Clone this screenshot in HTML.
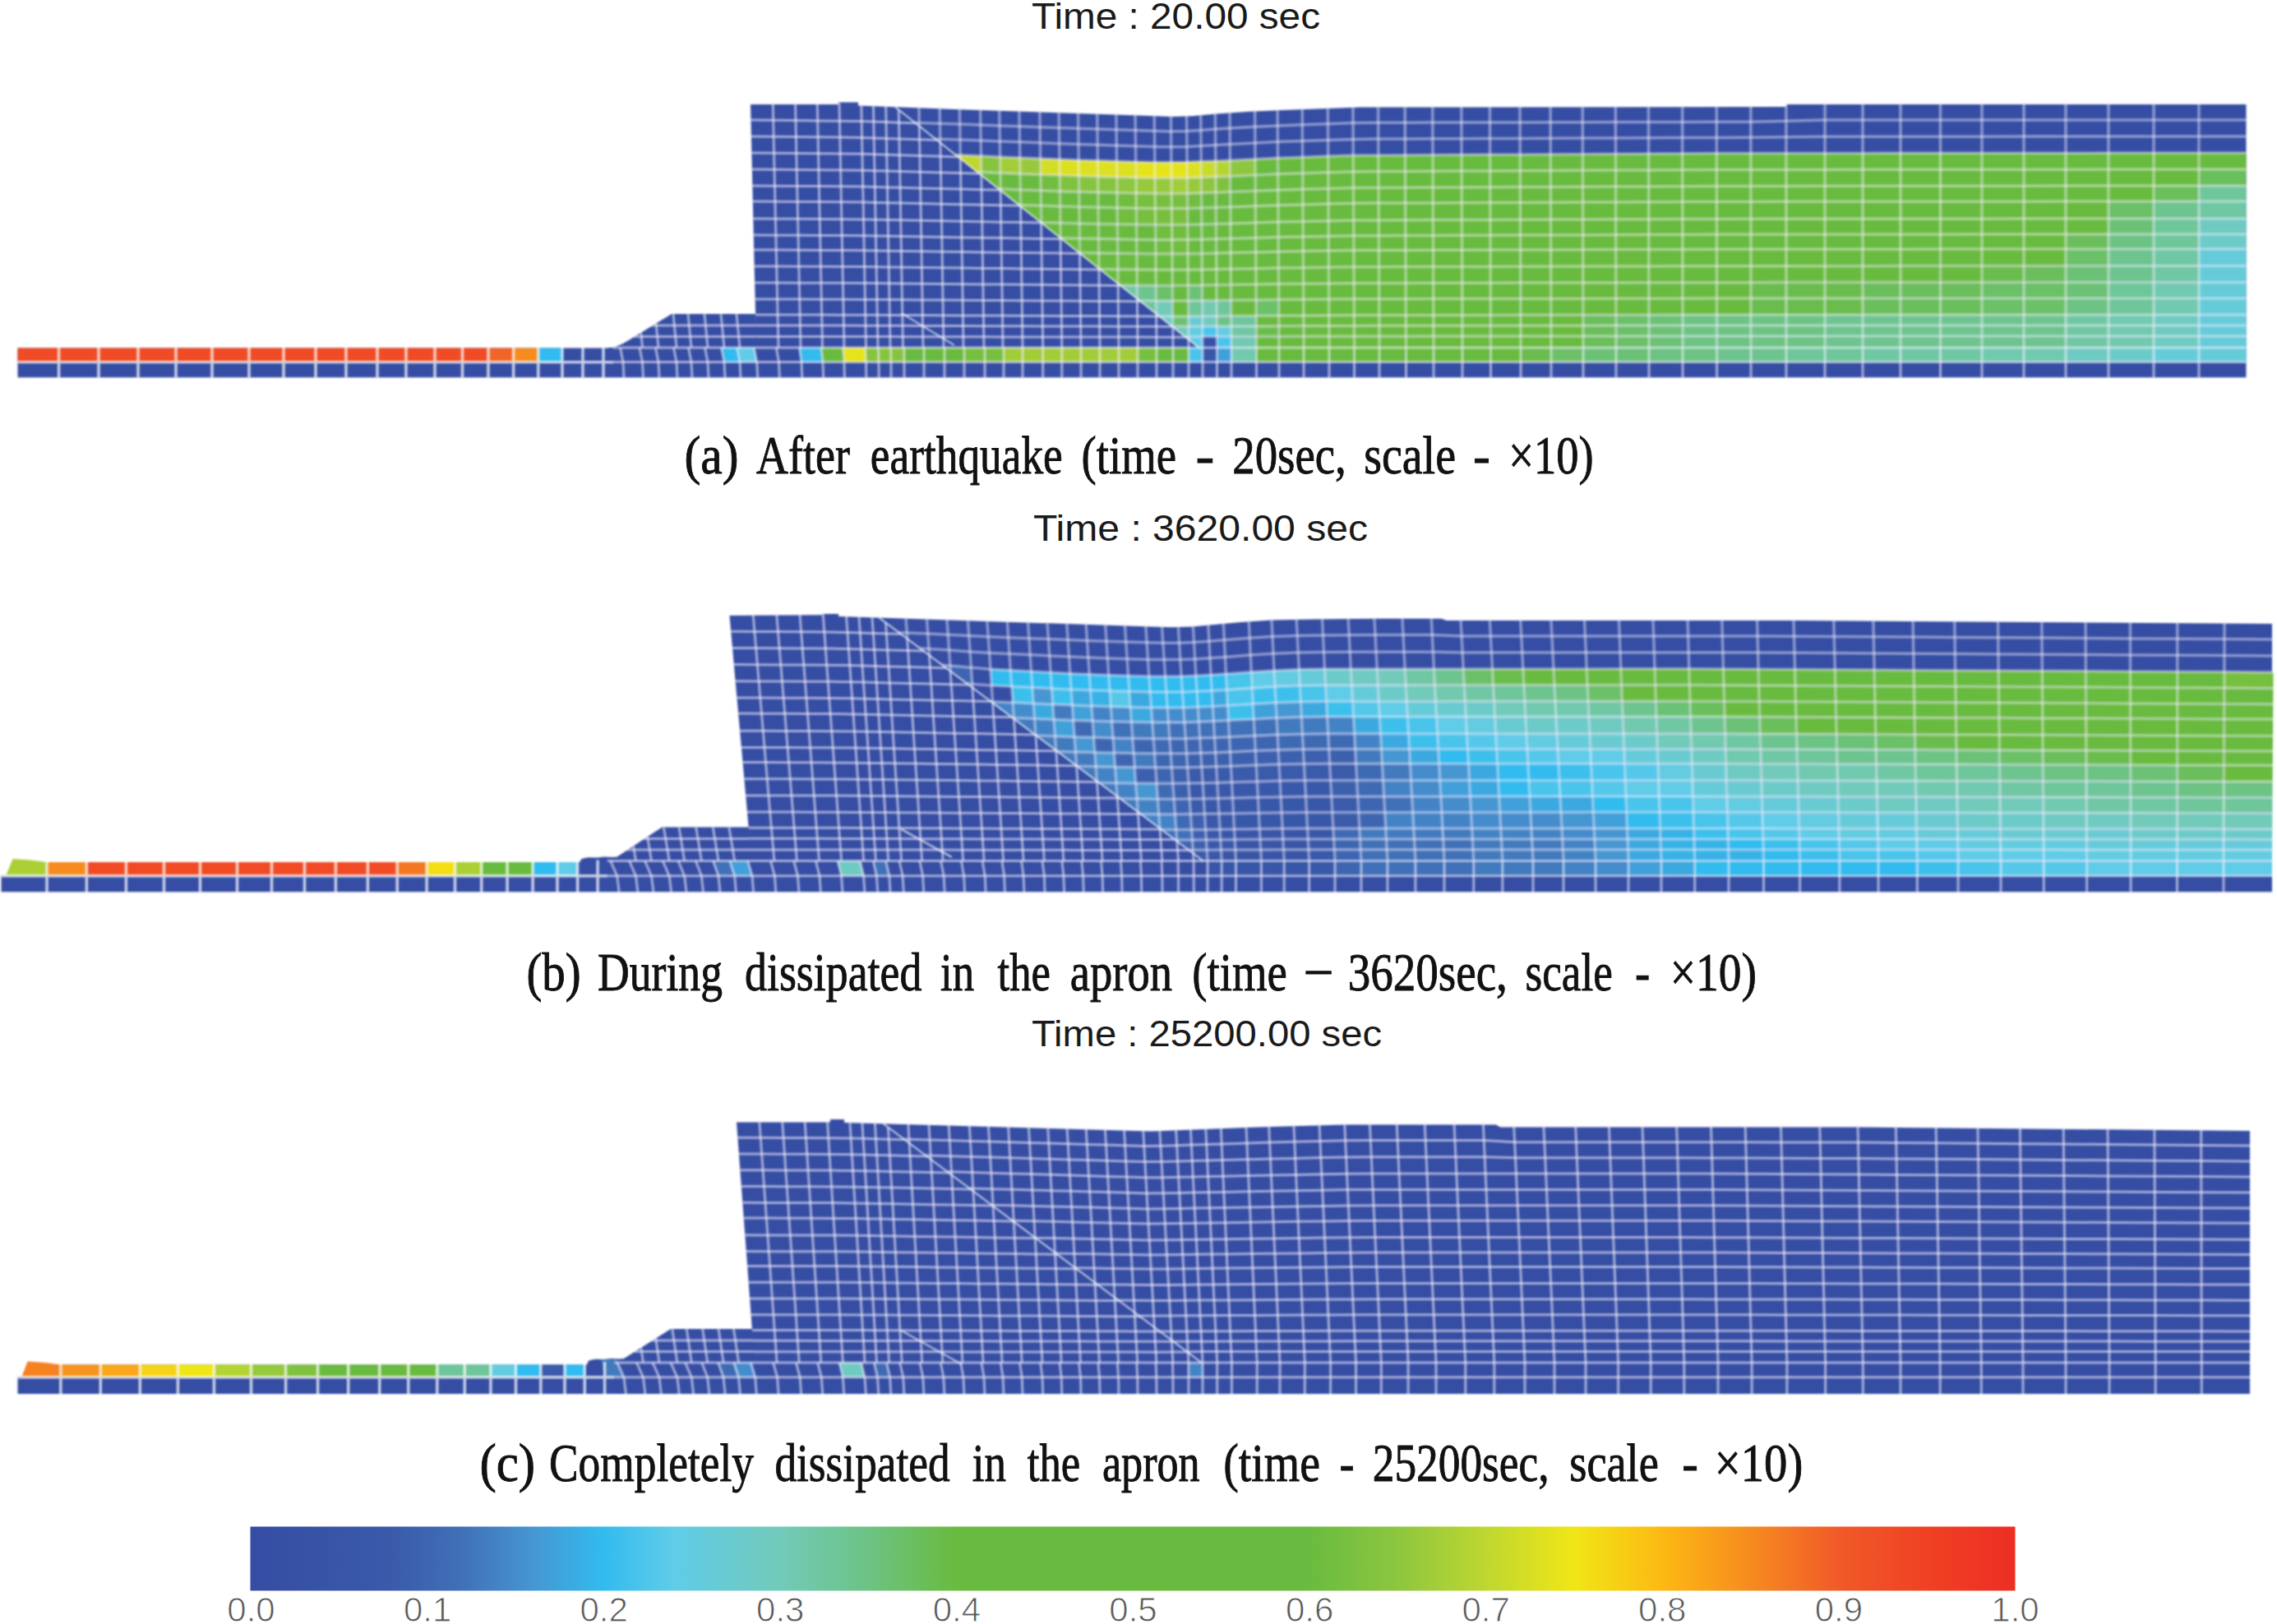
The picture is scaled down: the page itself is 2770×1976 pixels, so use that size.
<!DOCTYPE html>
<html lang="en"><head><meta charset="utf-8"><title>Excess pore pressure ratio</title>
<style>html,body{margin:0;padding:0;background:#fff}svg{display:block}.g{fill:none;stroke:#f5efff;stroke-opacity:.58;stroke-width:3}.gc{stroke-opacity:.45;stroke-width:3.5}.g2{stroke-opacity:.74;stroke:#fff;stroke-width:3.4}.pn{filter:blur(.8px)}.d{fill:none;stroke:#fff;stroke-opacity:.7;stroke-width:2}text{white-space:pre}</style></head><body>
<svg width="2770" height="1976" viewBox="0 0 2770 1976">
<rect width="2770" height="1976" fill="#fff"/>
<defs><linearGradient id="cb" x1="0" x2="1" y1="0" y2="0"><stop offset="0%" stop-color="#354da3"/><stop offset="8%" stop-color="#3a5aaa"/><stop offset="12%" stop-color="#4070b8"/><stop offset="16%" stop-color="#4696d2"/><stop offset="20%" stop-color="#32bbee"/><stop offset="24%" stop-color="#60cce8"/><stop offset="30%" stop-color="#72caba"/><stop offset="35%" stop-color="#6cc384"/><stop offset="40%" stop-color="#69bb3f"/><stop offset="60%" stop-color="#69bb3f"/><stop offset="65%" stop-color="#8dc63f"/><stop offset="70%" stop-color="#bed730"/><stop offset="75%" stop-color="#f0e616"/><stop offset="80%" stop-color="#fdb913"/><stop offset="85%" stop-color="#f68b1f"/><stop offset="90%" stop-color="#f15a29"/><stop offset="95%" stop-color="#ef4123"/><stop offset="100%" stop-color="#ed2e24"/></linearGradient></defs>
<g id="panel-a" class="pn">
<clipPath id="cla"><path d="M0 87 1034.6 87 1458.4 423 0 423z"/></clipPath>
<clipPath id="cra"><path d="M1034.6 87 2780 87 2780 423 1458.4 423z"/></clipPath>
<clipPath id="cba"><path d="M746 423 758 418 817 382 919 382 920 423z"/></clipPath>
<path d="M21.5 439.6 2732.5 439.6 2732.5 459.3 21.5 459.3zM21.5 440.6 21.5 423.5 740 423.5 740 423 2732.5 423 2732.5 440.6zM746 423 758 418 817 382 919 382 920 425 746 425zM920 425 919.1 383 917.1 300 915.2 220 913 127 1019.9 127.1 1020 124.6 1044 124.6 1044.1 128.4 1044.2 128.5 1162 133 1400 141 1425 142 1450 141.3 1480 138.5 1520 135.8 1560 134 1655 130.5 2172 130 2174 127 2732.5 127 2732.5 425z" fill="#354da3"/>
<g>
<path d="M1463 423 1480.5 423 1480.5 440.6 1463 440.6z" fill="#3957a8"/>
<path d="M1480.5 423 1498 423 1498 440.6 1480.5 440.6z" fill="#419fd9"/>
<path d="M654.8 423.5 684 423.5 684 440.6 654.8 440.6zM877.5 423 896.5 423 900 440.6 881 440.6zM972.5 423 999 423 1001 440.6 975 440.6z" fill="#32bbee"/>
<path d="M1446 423 1463 423 1463 440.6 1446 440.6z" fill="#49c4eb"/>
<path d="M896.5 423 917.2 423 920.7 440.6 900 440.6z" fill="#60cce8"/>
<path d="M2620 423 2675 423 2675 440.6 2620 440.6zM2675 423 2732.5 423 2732.5 440.6 2675 440.6z" fill="#66cbd9"/>
<path d="M2565 423 2620 423 2620 440.6 2565 440.6z" fill="#6ccbc9"/>
<path d="M2513 423 2565 423 2565 440.6 2513 440.6z" fill="#6fcac2"/>
<path d="M1498 423 1528.5 423 1528.5 440.6 1498 440.6zM2411 423 2462 423 2462 440.6 2411 440.6zM2462 423 2513 423 2513 440.6 2462 440.6z" fill="#71c9af"/>
<path d="M2266 423 2312 423 2312 440.6 2266 440.6zM2312 423 2360.5 423 2360.5 440.6 2312 440.6zM2360.5 423 2411 423 2411 440.6 2360.5 440.6z" fill="#70c7a4"/>
<path d="M2173 423 2220 423 2220 440.6 2173 440.6zM2220 423 2266 423 2266 440.6 2220 440.6z" fill="#6ec69a"/>
<path d="M2088.6 423 2130 423 2130 440.6 2088.6 440.6zM2130 423 2173 423 2173 440.6 2130 440.6z" fill="#6dc48f"/>
<path d="M2006 423 2047 423 2047 440.6 2006 440.6zM2047 423 2088.6 423 2088.6 440.6 2047 440.6z" fill="#6cc384"/>
<path d="M1926 423 1966 423 1966 440.6 1926 440.6zM1966 423 2006 423 2006 440.6 1966 440.6z" fill="#6bc176"/>
<path d="M1887 423 1926 423 1926 440.6 1887 440.6z" fill="#6bc068"/>
<path d="M1850 423 1887 423 1887 440.6 1850 440.6z" fill="#6abd4d"/>
<path d="M1528.5 423 1556 423 1556 440.6 1528.5 440.6zM1813.5 423 1850 423 1850 440.6 1813.5 440.6z" fill="#69bb3f"/>
<path d="M1779 423 1813.5 423 1813.5 440.6 1779 440.6z" fill="#69bb3f"/>
<path d="M1556 423 1586 423 1586 440.6 1556 440.6z" fill="#69bb3f"/>
<path d="M1744 423 1779 423 1779 440.6 1744 440.6z" fill="#69bb3f"/>
<path d="M1710.5 423 1744 423 1744 440.6 1710.5 440.6z" fill="#69bb3f"/>
<path d="M1678 423 1710.5 423 1710.5 440.6 1678 440.6z" fill="#69bb3f"/>
<path d="M999 423 1025.5 423 1027 440.6 1001 440.6zM1647.5 423 1678 423 1678 440.6 1647.5 440.6z" fill="#69bb3f"/>
<path d="M1586 423 1617 423 1617 440.6 1586 440.6zM1617 423 1647.5 423 1647.5 440.6 1617 440.6z" fill="#69bb3f"/>
<path d="M1100 423 1124 423 1124 440.6 1100 440.6zM1124 423 1149 423 1149 440.6 1124 440.6zM1149 423 1173 423 1173 440.6 1149 440.6zM1407 423 1427 423 1427 440.6 1407 440.6zM1427 423 1446 423 1446 440.6 1427 440.6z" fill="#69bb3f"/>
<path d="M1173 423 1198 423 1198 440.6 1173 440.6zM1198 423 1221 423 1221 440.6 1198 440.6zM1384 423 1407 423 1407 440.6 1384 440.6z" fill="#77bf3f"/>
<path d="M1052.6 423 1068.4 423 1069 440.6 1053.5 440.6zM1068.4 423 1083.7 423 1084 440.6 1069 440.6zM1083.7 423 1100 423 1100 440.6 1084 440.6z" fill="#86c43f"/>
<path d="M1221 423 1244 423 1244 440.6 1221 440.6zM1244 423 1268.7 423 1268.7 440.6 1244 440.6zM1268.7 423 1291.8 423 1291.8 440.6 1268.7 440.6zM1291.8 423 1315 423 1315 440.6 1291.8 440.6zM1315 423 1338 423 1338 440.6 1315 440.6zM1338 423 1361 423 1361 440.6 1338 440.6zM1361 423 1384 423 1384 440.6 1361 440.6z" fill="#a1cd39"/>
<path d="M1025.5 423 1052.6 423 1053.5 440.6 1027 440.6z" fill="#e6e31b"/>
<path d="M624.6 423.5 654.8 423.5 654.8 440.6 624.6 440.6z" fill="#f68b1f"/>
<path d="M594 423.5 624.6 423.5 624.6 440.6 594 440.6z" fill="#f26427"/>
<path d="M21.5 423.5 71.6 423.5 71.6 440.6 21.5 440.6zM71.6 423.5 120 423.5 120 440.6 71.6 440.6zM120 423.5 168 423.5 168 440.6 120 440.6zM168 423.5 214 423.5 214 440.6 168 440.6zM214 423.5 258 423.5 258 440.6 214 440.6zM258 423.5 303 423.5 303 440.6 258 440.6zM303 423.5 345 423.5 345 440.6 303 440.6zM345 423.5 384 423.5 384 440.6 345 440.6zM384 423.5 421 423.5 421 440.6 384 440.6zM421 423.5 459 423.5 459 440.6 421 440.6zM459 423.5 494 423.5 494 440.6 459 440.6zM494 423.5 529 423.5 529 440.6 494 440.6zM529 423.5 562.5 423.5 562.5 440.6 529 440.6zM562.5 423.5 594 423.5 594 440.6 562.5 440.6z" fill="#f04b25"/>
</g>
<g clip-path="url(#cra)">
<path d="M1462.9 409.6 1480.4 409.6 1480.5 423 1463 423z" fill="#3650a5"/>
<path d="M1462.8 397.2 1480.3 397.1 1480.4 409.6 1462.9 409.6zM1480.4 409.6 1497.9 409.5 1498 423 1480.5 423z" fill="#49c4eb"/>
<path d="M1445.9 409.7 1462.9 409.6 1463 423 1446 423z" fill="#60cce8"/>
<path d="M1445.8 397.3 1462.8 397.2 1462.9 409.6 1445.9 409.7zM1480.3 397.1 1497.8 397 1497.9 409.5 1480.4 409.6z" fill="#63cce0"/>
<path d="M2675 303 2732.5 303 2732.5 323.5 2675 323.5zM2675 323.5 2732.5 323.5 2732.5 343.5 2675 343.5zM2675 343.5 2732.5 343.5 2732.5 363 2675 363zM2675 363 2732.5 363 2732.5 383 2675 383zM2675 383 2732.5 383 2732.5 396 2675 396zM2675 396 2732.5 396 2732.5 409 2675 409zM2675 409 2732.5 409 2732.5 423 2675 423z" fill="#66cbd9"/>
<path d="M1445.7 384.9 1462.7 384.8 1462.8 397.2 1445.8 397.3z" fill="#69cbd1"/>
<path d="M2675 285 2732.5 285 2732.5 303 2675 303zM1406.6 384.9 1426.7 384.9 1426.8 397.3 1406.7 397.3zM1406.7 397.3 1426.8 397.3 1426.9 409.7 1406.9 409.7zM1426.9 409.7 1445.9 409.7 1446 423 1427 423z" fill="#6ccbc9"/>
<path d="M2675 266 2732.5 266 2732.5 285 2675 285zM2620 383 2675 383 2675 396 2620 396zM2620 396 2675 396 2675 409 2620 409zM2620 409 2675 409 2675 423 2620 423z" fill="#6fcac2"/>
<path d="M1406.4 365.9 1426.5 365.9 1426.7 384.9 1406.6 384.9zM1462.7 384.8 1480.2 384.7 1480.3 397.1 1462.8 397.2zM1426.8 397.3 1445.8 397.3 1445.9 409.7 1426.9 409.7z" fill="#72caba"/>
<path d="M2620 343.5 2675 343.5 2675 363 2620 363zM1462.5 365.7 1480.1 365.5 1480.2 384.7 1462.7 384.8zM2620 363 2675 363 2675 383 2620 383zM2565 383 2620 383 2620 396 2565 396zM2565 396 2620 396 2620 409 2565 409zM1497.9 409.5 1528.4 409.4 1528.5 423 1498 423zM2565 409 2620 409 2620 423 2565 423z" fill="#71c9af"/>
<path d="M2675 245 2732.5 245 2732.5 266 2675 266zM2620 303 2675 303 2675 323.5 2620 323.5zM2620 323.5 2675 323.5 2675 343.5 2620 343.5zM1360.2 347 1383.2 347.2 1383.4 365.8 1360.4 365.6zM2513 383 2565 383 2565 396 2513 396zM1497.8 397 1528.3 396.9 1528.4 409.4 1497.9 409.5zM2513 396 2565 396 2565 409 2513 409zM2513 409 2565 409 2565 423 2513 423z" fill="#70c7a4"/>
<path d="M2675 226 2732.5 226 2732.5 245 2675 245zM2620 266.1 2675 266 2675 285 2620 285.1zM2620 285.1 2675 285 2675 303 2620 303zM2565 343.5 2620 343.5 2620 363 2565 363zM1383.4 365.8 1406.4 365.9 1406.6 384.9 1383.6 384.9zM1445.5 365.9 1462.5 365.7 1462.7 384.8 1445.7 384.9zM1480.1 365.5 1497.6 365.3 1497.7 384.5 1480.2 384.7zM2565 363 2620 363 2620 383 2565 383zM1497.7 384.5 1528.2 384.3 1528.3 396.9 1497.8 397z" fill="#6ec69a"/>
<path d="M2620 245.1 2675 245 2675 266 2620 266.1zM2565 303.1 2620 303 2620 323.5 2565 323.6zM2565 323.6 2620 323.5 2620 343.5 2565 343.5zM1383.2 347.2 1406.3 347.4 1406.4 365.9 1383.4 365.8zM2220 383.1 2266 383.1 2266 396 2220 396zM2266 383.1 2312 383.1 2312 396 2266 396zM2312 383.1 2360.5 383 2360.5 396 2312 396zM2360.5 383 2411 383 2411 396 2360.5 396zM2411 383 2462 383 2462 396 2411 396zM2462 383 2513 383 2513 396 2462 396zM2220 396 2266 396 2266 409 2220 409zM2266 396 2312 396 2312 409 2266 409zM2312 396 2360.5 396 2360.5 409 2312 409zM2360.5 396 2411 396 2411 409 2360.5 409zM2411 396 2462 396 2462 409 2411 409zM2462 396 2513 396 2513 409 2462 409zM2220 409 2266 409 2266 423 2220 423zM2266 409 2312 409 2312 423 2266 423zM2312 409 2360.5 409 2360.5 423 2312 423zM2360.5 409 2411 409 2411 423 2360.5 423zM2411 409 2462 409 2462 423 2411 423zM2462 409 2513 409 2513 423 2462 423z" fill="#6dc48f"/>
<path d="M2565 285.1 2620 285.1 2620 303 2565 303.1zM2513 363 2565 363 2565 383 2513 383zM1480.2 384.7 1497.7 384.5 1497.8 397 1480.3 397.1zM2046.9 383.1 2088.6 383.1 2088.6 396.1 2047 396.1zM2088.6 383.1 2130 383.1 2130 396.1 2088.6 396.1zM2130 383.1 2173 383.1 2173 396.1 2130 396.1zM2173 383.1 2220 383.1 2220 396 2173 396.1zM2047 396.1 2088.6 396.1 2088.6 409 2047 409zM2088.6 396.1 2130 396.1 2130 409 2088.6 409zM2130 396.1 2173 396.1 2173 409 2130 409zM2173 396.1 2220 396 2220 409 2173 409zM2047 409 2088.6 409 2088.6 423 2047 423zM2088.6 409 2130 409 2130 423 2088.6 423zM2130 409 2173 409 2173 423 2130 423zM2173 409 2220 409 2220 423 2173 423z" fill="#6cc384"/>
<path d="M2565 266.1 2620 266.1 2620 285.1 2565 285.1zM2513 323.6 2565 323.6 2565 343.5 2513 343.6zM1445.3 347.3 1462.4 347 1462.5 365.7 1445.5 365.9zM2513 343.6 2565 343.5 2565 363 2513 363zM1426.7 384.9 1445.7 384.9 1445.8 397.3 1426.8 397.3zM2005.9 383.2 2046.9 383.1 2047 396.1 2005.9 396.1zM2005.9 396.1 2047 396.1 2047 409 2006 409.1zM2006 409.1 2047 409 2047 423 2006 423z" fill="#6bc176"/>
<path d="M2565 245.1 2620 245.1 2620 266.1 2565 266.1zM2513 303.1 2565 303.1 2565 323.6 2513 323.6zM1406.3 347.4 1426.3 347.4 1426.5 365.9 1406.4 365.9zM2411 343.6 2462 343.6 2462 363.1 2411 363.1zM2462 343.6 2513 343.6 2513 363 2462 363.1zM1528.1 364.9 1555.6 364.6 1555.8 384 1528.2 384.3zM2411 363.1 2462 363.1 2462 383 2411 383zM2462 363.1 2513 363 2513 383 2462 383zM1965.9 383.2 2005.9 383.2 2005.9 396.1 1965.9 396.1zM1965.9 396.1 2005.9 396.1 2006 409.1 1966 409.1zM1966 409.1 2006 409.1 2006 423 1966 423z" fill="#6bc068"/>
<path d="M2675 206 2732.5 206 2732.5 226 2675 226zM2620 226.1 2675 226 2675 245 2620 245.1zM2513 285.1 2565 285.1 2565 303.1 2513 303.1zM2462 323.6 2513 323.6 2513 343.6 2462 343.6zM2266 343.6 2312 343.6 2312 363.1 2266 363.1zM2312 343.6 2360.5 343.6 2360.5 363.1 2312 363.1zM2360.5 343.6 2411 343.6 2411 363.1 2360.5 363.1zM2266 363.1 2312 363.1 2312 383.1 2266 383.1zM2312 363.1 2360.5 363.1 2360.5 383 2312 383.1zM2360.5 363.1 2411 363.1 2411 383 2360.5 383zM1925.9 383.2 1965.9 383.2 1965.9 396.1 1925.9 396.2zM1925.9 396.2 1965.9 396.1 1966 409.1 1926 409.1zM1926 409.1 1966 409.1 1966 423 1926 423z" fill="#6abe5b"/>
<path d="M2411 323.6 2462 323.6 2462 343.6 2411 343.6zM2129.9 343.7 2173 343.6 2173 363.1 2130 363.1zM2173 343.6 2220 343.6 2220 363.1 2173 363.1zM2220 343.6 2266 343.6 2266 363.1 2220 363.1zM2130 363.1 2173 363.1 2173 383.1 2130 383.1zM2173 363.1 2220 363.1 2220 383.1 2173 383.1zM2220 363.1 2266 363.1 2266 383.1 2220 383.1zM1528.3 396.9 1555.8 396.7 1555.9 409.4 1528.4 409.4z" fill="#6abd4d"/>
<path d="M2360.5 323.6 2411 323.6 2411 343.6 2360.5 343.6zM2046.9 343.8 2088.5 343.7 2088.5 363.1 2046.9 363.2zM2088.5 343.7 2129.9 343.7 2130 363.1 2088.5 363.1zM2046.9 363.2 2088.5 363.1 2088.6 383.1 2046.9 383.1zM2088.5 363.1 2130 363.1 2130 383.1 2088.6 383.1zM1528.2 384.3 1555.8 384 1555.8 396.7 1528.3 396.9zM1886.9 383.3 1925.9 383.2 1925.9 396.2 1886.9 396.2zM1886.9 396.2 1925.9 396.2 1926 409.1 1887 409.1zM1528.4 409.4 1555.9 409.4 1556 423 1528.5 423zM1887 409.1 1926 409.1 1926 423 1887 423z" fill="#69bb3f"/>
<path d="M2462 303.1 2513 303.1 2513 323.6 2462 323.6z" fill="#69bb3f"/>
<path d="M2513 266.1 2565 266.1 2565 285.1 2513 285.1zM2312 323.6 2360.5 323.6 2360.5 343.6 2312 343.6zM1426.3 347.4 1445.3 347.3 1445.5 365.9 1426.5 365.9zM2005.9 343.8 2046.9 343.8 2046.9 363.2 2005.9 363.3zM1426.5 365.9 1445.5 365.9 1445.7 384.9 1426.7 384.9zM2005.9 363.3 2046.9 363.2 2046.9 383.1 2005.9 383.2zM1849.9 383.3 1886.9 383.3 1886.9 396.2 1849.9 396.2zM1849.9 396.2 1886.9 396.2 1887 409.1 1850 409.1zM1850 409.1 1887 409.1 1887 423 1850 423z" fill="#69bb3f"/>
<path d="M2411 303.1 2462 303.1 2462 323.6 2411 323.6zM1965.8 343.9 2005.9 343.8 2005.9 363.3 1965.9 363.3zM1965.9 363.3 2005.9 363.3 2005.9 383.2 1965.9 383.2zM1555.9 409.4 1585.9 409.3 1586 423 1556 423z" fill="#69bb3f"/>
<path d="M2266 323.7 2312 323.6 2312 343.6 2266 343.6zM1462.4 347 1479.9 346.8 1480.1 365.5 1462.5 365.7zM1925.8 344 1965.8 343.9 1965.9 363.3 1925.8 363.4zM1925.8 363.4 1965.9 363.3 1965.9 383.2 1925.9 383.2z" fill="#69bb3f"/>
<path d="M2675 186 2732.5 186 2732.5 206 2675 206zM2620 206.1 2675 206 2675 226 2620 226.1zM2565 226.1 2620 226.1 2620 245.1 2565 245.1zM2513 245.1 2565 245.1 2565 266.1 2513 266.1zM2360.5 303.1 2411 303.1 2411 323.6 2360.5 323.6zM2220 323.7 2266 323.7 2266 343.6 2220 343.6zM1479.9 346.8 1497.5 346.6 1497.6 365.3 1480.1 365.5zM1886.8 344.1 1925.8 344 1925.8 363.4 1886.8 363.4zM1497.6 365.3 1528.1 364.9 1528.2 384.3 1497.7 384.5zM1886.8 363.4 1925.8 363.4 1925.9 383.2 1886.9 383.3zM1813.4 383.4 1849.9 383.3 1849.9 396.2 1813.4 396.2zM1555.8 396.7 1585.8 396.6 1585.9 409.3 1555.9 409.4zM1813.4 396.2 1849.9 396.2 1850 409.1 1813.4 409.1zM1813.4 409.1 1850 409.1 1850 423 1813.5 423z" fill="#69bb3f"/>
<path d="M1849.7 344.1 1886.8 344.1 1886.8 363.4 1849.8 363.5zM1849.8 363.5 1886.8 363.4 1886.9 383.3 1849.9 383.3z" fill="#69bb3f"/>
<path d="M1554.5 192.3 1584.6 191.2 1584.7 210.7 1554.7 211.7zM1584.6 191.2 1615.7 190.1 1615.8 209.8 1584.7 210.7zM1615.7 190.1 1646.2 189.1 1646.3 208.9 1615.8 209.8zM1646.2 189.1 1676.8 188.9 1676.9 208.6 1646.3 208.9zM1676.8 188.9 1709.4 188.7 1709.5 208.4 1676.9 208.6zM1709.4 188.7 1743 188.5 1743 208.3 1709.5 208.4zM1743 188.5 1778 188.3 1778.1 208.1 1743 208.3zM1778 188.3 1812.6 188.1 1812.7 207.9 1778.1 208.1zM1812.6 188.1 1849.2 187.9 1849.3 207.7 1812.7 207.9zM1849.2 187.9 1886.3 187.7 1886.3 207.5 1849.3 207.7zM1886.3 187.7 1925.4 187.5 1925.4 207.3 1886.3 207.5zM1925.4 187.5 1965.5 187.2 1965.5 207.1 1925.4 207.3zM1965.5 187.2 2005.6 187 2005.6 206.9 1965.5 207.1zM2005.6 187 2046.6 186.8 2046.7 206.7 2005.6 206.9zM2046.6 186.8 2088.3 186.6 2088.4 206.5 2046.7 206.7zM2088.3 186.6 2129.8 186.5 2129.9 206.4 2088.4 206.5zM2129.8 186.5 2172.9 186.4 2172.9 206.4 2129.9 206.4zM2172.9 186.4 2220 186.4 2220 206.4 2172.9 206.4zM2220 186.4 2266 186.4 2266 206.3 2220 206.4zM2266 186.4 2312 186.3 2312 206.3 2266 206.3zM2312 186.3 2360.5 186.3 2360.5 206.3 2312 206.3zM2360.5 186.3 2411 186.3 2411 206.2 2360.5 206.3zM2411 186.3 2462 186.2 2462 206.2 2411 206.2zM2462 186.2 2513 186.2 2513 206.2 2462 206.2zM2513 186.2 2565 186.1 2565 206.1 2513 206.2zM2565 186.1 2620 186.1 2620 206.1 2565 206.1zM2620 186.1 2675 186 2675 206 2620 206.1zM1527.1 213 1554.7 211.7 1554.8 231.2 1527.2 232.3zM1554.7 211.7 1584.7 210.7 1584.8 230.3 1554.8 231.2zM1584.7 210.7 1615.8 209.8 1615.9 229.4 1584.8 230.3zM1615.8 209.8 1646.3 208.9 1646.4 228.6 1615.9 229.4zM1646.3 208.9 1676.9 208.6 1677 228.4 1646.4 228.6zM1676.9 208.6 1709.5 208.4 1709.6 228.2 1677 228.4zM1709.5 208.4 1743 208.3 1743.1 228.1 1709.6 228.2zM1743 208.3 1778.1 208.1 1778.2 227.9 1743.1 228.1zM1778.1 208.1 1812.7 207.9 1812.8 227.7 1778.2 227.9zM1812.7 207.9 1849.3 207.7 1849.3 227.6 1812.8 227.7zM1849.3 207.7 1886.3 207.5 1886.4 227.4 1849.3 227.6zM1886.3 207.5 1925.4 207.3 1925.5 227.2 1886.4 227.4zM1925.4 207.3 1965.5 207.1 1965.6 227 1925.5 227.2zM1965.5 207.1 2005.6 206.9 2005.6 226.9 1965.6 227zM2005.6 206.9 2046.7 206.7 2046.7 226.7 2005.6 226.9zM2046.7 206.7 2088.4 206.5 2088.4 226.5 2046.7 226.7zM2088.4 206.5 2129.9 206.4 2129.9 226.4 2088.4 226.5zM2129.9 206.4 2172.9 206.4 2172.9 226.4 2129.9 226.4zM2172.9 206.4 2220 206.4 2220 226.3 2172.9 226.4zM2220 206.4 2266 206.3 2266 226.3 2220 226.3zM2266 206.3 2312 206.3 2312 226.3 2266 226.3zM2312 206.3 2360.5 206.3 2360.5 226.2 2312 226.3zM2360.5 206.3 2411 206.2 2411 226.2 2360.5 226.2zM2411 206.2 2462 206.2 2462 226.2 2411 226.2zM2462 206.2 2513 206.2 2513 226.1 2462 226.2zM2513 206.2 2565 206.1 2565 226.1 2513 226.1zM2565 206.1 2620 206.1 2620 226.1 2565 226.1zM1496.7 233.6 1527.2 232.3 1527.3 250.7 1496.8 251.9zM1527.2 232.3 1554.8 231.2 1554.9 249.7 1527.3 250.7zM1554.8 231.2 1584.8 230.3 1584.9 248.9 1554.9 249.7zM1584.8 230.3 1615.9 229.4 1616 248.1 1584.9 248.9zM1615.9 229.4 1646.4 228.6 1646.6 247.3 1616 248.1zM1646.4 228.6 1677 228.4 1677.1 247.1 1646.6 247.3zM1677 228.4 1709.6 228.2 1709.7 247 1677.1 247.1zM1709.6 228.2 1743.1 228.1 1743.2 246.9 1709.7 247zM1743.1 228.1 1778.2 227.9 1778.3 246.7 1743.2 246.9zM1778.2 227.9 1812.8 227.7 1812.8 246.6 1778.3 246.7zM1812.8 227.7 1849.3 227.6 1849.4 246.4 1812.8 246.6zM1849.3 227.6 1886.4 227.4 1886.5 246.3 1849.4 246.4zM1886.4 227.4 1925.5 227.2 1925.5 246.1 1886.5 246.3zM1925.5 227.2 1965.6 227 1965.6 245.9 1925.5 246.1zM1965.6 227 2005.6 226.9 2005.7 245.8 1965.6 245.9zM2005.6 226.9 2046.7 226.7 2046.7 245.6 2005.7 245.8zM2046.7 226.7 2088.4 226.5 2088.4 245.4 2046.7 245.6zM2088.4 226.5 2129.9 226.4 2129.9 245.4 2088.4 245.4zM2129.9 226.4 2172.9 226.4 2173 245.3 2129.9 245.4zM2172.9 226.4 2220 226.3 2220 245.3 2173 245.3zM2220 226.3 2266 226.3 2266 245.3 2220 245.3zM2266 226.3 2312 226.3 2312 245.2 2266 245.3zM2312 226.3 2360.5 226.2 2360.5 245.2 2312 245.2zM2360.5 226.2 2411 226.2 2411 245.2 2360.5 245.2zM2411 226.2 2462 226.2 2462 245.2 2411 245.2zM2462 226.2 2513 226.1 2513 245.1 2462 245.2zM2513 226.1 2565 226.1 2565 245.1 2513 245.1zM1496.8 251.9 1527.3 250.7 1527.5 271.1 1496.9 272zM1527.3 250.7 1554.9 249.7 1555 270.1 1527.5 271.1zM1554.9 249.7 1584.9 248.9 1585.1 269.4 1555 270.1zM1584.9 248.9 1616 248.1 1616.1 268.7 1585.1 269.4zM1616 248.1 1646.6 247.3 1646.7 268.1 1616.1 268.7zM1646.6 247.3 1677.1 247.1 1677.2 267.9 1646.7 268.1zM1677.1 247.1 1709.7 247 1709.8 267.8 1677.2 267.9zM1709.7 247 1743.2 246.9 1743.3 267.6 1709.8 267.8zM1743.2 246.9 1778.3 246.7 1778.4 267.5 1743.3 267.6zM1778.3 246.7 1812.8 246.6 1812.9 267.4 1778.4 267.5zM1812.8 246.6 1849.4 246.4 1849.5 267.3 1812.9 267.4zM1849.4 246.4 1886.5 246.3 1886.5 267.1 1849.5 267.3zM1886.5 246.3 1925.5 246.1 1925.6 267 1886.5 267.1zM1925.5 246.1 1965.6 245.9 1965.6 266.8 1925.6 267zM1965.6 245.9 2005.7 245.8 2005.7 266.7 1965.6 266.8zM2005.7 245.8 2046.7 245.6 2046.8 266.5 2005.7 266.7zM2046.7 245.6 2088.4 245.4 2088.4 266.4 2046.8 266.5zM2088.4 245.4 2129.9 245.4 2129.9 266.3 2088.4 266.4zM2129.9 245.4 2173 245.3 2173 266.3 2129.9 266.3zM2173 245.3 2220 245.3 2220 266.3 2173 266.3zM2220 245.3 2266 245.3 2266 266.2 2220 266.3zM2266 245.3 2312 245.2 2312 266.2 2266 266.2zM2312 245.2 2360.5 245.2 2360.5 266.2 2312 266.2zM2360.5 245.2 2411 245.2 2411 266.2 2360.5 266.2zM2411 245.2 2462 245.2 2462 266.1 2411 266.2zM2462 245.2 2513 245.1 2513 266.1 2462 266.1zM1241.8 269.9 1266.7 270.7 1266.9 289.1 1242.1 288.5zM1479.4 272.5 1496.9 272 1497.1 290.3 1479.5 290.7zM1496.9 272 1527.5 271.1 1527.6 289.4 1497.1 290.3zM1527.5 271.1 1555 270.1 1555.1 288.6 1527.6 289.4zM1555 270.1 1585.1 269.4 1585.2 288 1555.1 288.6zM1585.1 269.4 1616.1 268.7 1616.2 287.4 1585.2 288zM1616.1 268.7 1646.7 268.1 1646.8 286.8 1616.2 287.4zM1646.7 268.1 1677.2 267.9 1677.3 286.7 1646.8 286.8zM1677.2 267.9 1709.8 267.8 1709.8 286.6 1677.3 286.7zM1709.8 267.8 1743.3 267.6 1743.4 286.4 1709.8 286.6zM1743.3 267.6 1778.4 267.5 1778.4 286.3 1743.4 286.4zM1778.4 267.5 1812.9 267.4 1813 286.2 1778.4 286.3zM1812.9 267.4 1849.5 267.3 1849.5 286.1 1813 286.2zM1849.5 267.3 1886.5 267.1 1886.6 286 1849.5 286.1zM1886.5 267.1 1925.6 267 1925.6 285.9 1886.6 286zM1925.6 267 1965.6 266.8 1965.7 285.7 1925.6 285.9zM1965.6 266.8 2005.7 266.7 2005.7 285.6 1965.7 285.7zM2005.7 266.7 2046.8 266.5 2046.8 285.5 2005.7 285.6zM2046.8 266.5 2088.4 266.4 2088.5 285.3 2046.8 285.5zM2088.4 266.4 2129.9 266.3 2129.9 285.3 2088.5 285.3zM2129.9 266.3 2173 266.3 2173 285.3 2129.9 285.3zM2173 266.3 2220 266.3 2220 285.2 2173 285.3zM2220 266.3 2266 266.2 2266 285.2 2220 285.2zM2266 266.2 2312 266.2 2312 285.2 2266 285.2zM2312 266.2 2360.5 266.2 2360.5 285.2 2312 285.2zM2360.5 266.2 2411 266.2 2411 285.1 2360.5 285.2zM2411 266.2 2462 266.1 2462 285.1 2411 285.1zM2462 266.1 2513 266.1 2513 285.1 2462 285.1zM1479.5 290.7 1497.1 290.3 1497.2 307.6 1479.6 308zM1497.1 290.3 1527.6 289.4 1527.7 306.9 1497.2 307.6zM1527.6 289.4 1555.1 288.6 1555.3 306.2 1527.7 306.9zM1555.1 288.6 1585.2 288 1585.3 305.6 1555.3 306.2zM1585.2 288 1616.2 287.4 1616.3 305.1 1585.3 305.6zM1616.2 287.4 1646.8 286.8 1646.9 304.6 1616.3 305.1zM1646.8 286.8 1677.3 286.7 1677.4 304.4 1646.9 304.6zM1677.3 286.7 1709.8 286.6 1709.9 304.4 1677.4 304.4zM1709.8 286.6 1743.4 286.4 1743.5 304.3 1709.9 304.4zM1743.4 286.4 1778.4 286.3 1778.5 304.2 1743.5 304.3zM1778.4 286.3 1813 286.2 1813.1 304.1 1778.5 304.2zM1813 286.2 1849.5 286.1 1849.6 304 1813.1 304.1zM1849.5 286.1 1886.6 286 1886.6 303.9 1849.6 304zM1886.6 286 1925.6 285.9 1925.7 303.7 1886.6 303.9zM1925.6 285.9 1965.7 285.7 1965.7 303.6 1925.7 303.7zM1965.7 285.7 2005.7 285.6 2005.8 303.5 1965.7 303.6zM2005.7 285.6 2046.8 285.5 2046.8 303.4 2005.8 303.5zM2046.8 285.5 2088.5 285.3 2088.5 303.3 2046.8 303.4zM2088.5 285.3 2129.9 285.3 2129.9 303.2 2088.5 303.3zM2129.9 285.3 2173 285.3 2173 303.2 2129.9 303.2zM2173 285.3 2220 285.2 2220 303.2 2173 303.2zM2220 285.2 2266 285.2 2266 303.2 2220 303.2zM2266 285.2 2312 285.2 2312 303.2 2266 303.2zM2312 285.2 2360.5 285.2 2360.5 303.1 2312 303.2zM2360.5 285.2 2411 285.1 2411 303.1 2360.5 303.1zM2411 285.1 2462 285.1 2462 303.1 2411 303.1zM2462 285.1 2513 285.1 2513 303.1 2462 303.1zM1290.3 307.1 1313.6 307.5 1313.8 327.2 1290.6 326.9zM1313.6 307.5 1336.7 307.9 1336.9 327.5 1313.8 327.2zM1336.7 307.9 1359.7 308.2 1360 327.8 1336.9 327.5zM1359.7 308.2 1382.8 308.6 1383 328.1 1360 327.8zM1382.8 308.6 1405.9 308.8 1406.1 328.3 1383 328.1zM1405.9 308.8 1426 308.8 1426.1 328.3 1406.1 328.3zM1426 308.8 1445 308.7 1445.2 328.2 1426.1 328.3zM1445 308.7 1462.1 308.4 1462.2 327.9 1445.2 328.2zM1462.1 308.4 1479.6 308 1479.8 327.6 1462.2 327.9zM1479.6 308 1497.2 307.6 1497.3 327.3 1479.8 327.6zM1497.2 307.6 1527.7 306.9 1527.9 326.7 1497.3 327.3zM1527.7 306.9 1555.3 306.2 1555.4 326.1 1527.9 326.7zM1555.3 306.2 1585.3 305.6 1585.4 325.7 1555.4 326.1zM1585.3 305.6 1616.3 305.1 1616.4 325.2 1585.4 325.7zM1616.3 305.1 1646.9 304.6 1647 324.8 1616.4 325.2zM1646.9 304.6 1677.4 304.4 1677.5 324.7 1647 324.8zM1677.4 304.4 1709.9 304.4 1710 324.6 1677.5 324.7zM1709.9 304.4 1743.5 304.3 1743.6 324.5 1710 324.6zM1743.5 304.3 1778.5 304.2 1778.6 324.5 1743.6 324.5zM1778.5 304.2 1813.1 304.1 1813.1 324.4 1778.6 324.5zM1813.1 304.1 1849.6 304 1849.7 324.3 1813.1 324.4zM1849.6 304 1886.6 303.9 1886.7 324.2 1849.7 324.3zM1886.6 303.9 1925.7 303.7 1925.7 324.1 1886.7 324.2zM1925.7 303.7 1965.7 303.6 1965.8 324 1925.7 324.1zM1965.7 303.6 2005.8 303.5 2005.8 323.9 1965.8 324zM2005.8 303.5 2046.8 303.4 2046.9 323.8 2005.8 323.9zM2046.8 303.4 2088.5 303.3 2088.5 323.7 2046.9 323.8zM2088.5 303.3 2129.9 303.2 2129.9 323.7 2088.5 323.7zM2129.9 303.2 2173 303.2 2173 323.7 2129.9 323.7zM2173 303.2 2220 303.2 2220 323.7 2173 323.7zM2220 303.2 2266 303.2 2266 323.7 2220 323.7zM2266 303.2 2312 303.2 2312 323.6 2266 323.7zM2312 303.2 2360.5 303.1 2360.5 323.6 2312 323.6zM1313.8 327.2 1336.9 327.5 1337.1 346.7 1314.1 346.5zM1336.9 327.5 1360 327.8 1360.2 347 1337.1 346.7zM1360 327.8 1383 328.1 1383.2 347.2 1360.2 347zM1383 328.1 1406.1 328.3 1406.3 347.4 1383.2 347.2zM1406.1 328.3 1426.1 328.3 1426.3 347.4 1406.3 347.4zM1426.1 328.3 1445.2 328.2 1445.3 347.3 1426.3 347.4zM1445.2 328.2 1462.2 327.9 1462.4 347 1445.3 347.3zM1462.2 327.9 1479.8 327.6 1479.9 346.8 1462.4 347zM1479.8 327.6 1497.3 327.3 1497.5 346.6 1479.9 346.8zM1497.3 327.3 1527.9 326.7 1528 346 1497.5 346.6zM1527.9 326.7 1555.4 326.1 1555.5 345.6 1528 346zM1555.4 326.1 1585.4 325.7 1585.5 345.2 1555.5 345.6zM1585.4 325.7 1616.4 325.2 1616.6 344.9 1585.5 345.2zM1616.4 325.2 1647 324.8 1647.1 344.5 1616.6 344.9zM1647 324.8 1677.5 324.7 1677.6 344.5 1647.1 344.5zM1677.5 324.7 1710 324.6 1710.1 344.4 1677.6 344.5zM1710 324.6 1743.6 324.5 1743.7 344.3 1710.1 344.4zM1743.6 324.5 1778.6 324.5 1778.7 344.3 1743.7 344.3zM1778.6 324.5 1813.1 324.4 1813.2 344.2 1778.7 344.3zM1813.1 324.4 1849.7 324.3 1849.7 344.1 1813.2 344.2zM1849.7 324.3 1886.7 324.2 1886.8 344.1 1849.7 344.1zM1886.7 324.2 1925.7 324.1 1925.8 344 1886.8 344.1zM1925.7 324.1 1965.8 324 1965.8 343.9 1925.8 344zM1965.8 324 2005.8 323.9 2005.9 343.8 1965.8 343.9zM2005.8 323.9 2046.9 323.8 2046.9 343.8 2005.9 343.8zM2046.9 323.8 2088.5 323.7 2088.5 343.7 2046.9 343.8zM2088.5 323.7 2129.9 323.7 2129.9 343.7 2088.5 343.7zM2129.9 323.7 2173 323.7 2173 343.6 2129.9 343.7zM2173 323.7 2220 323.7 2220 343.6 2173 343.6zM1497.5 346.6 1528 346 1528.1 364.9 1497.6 365.3zM1528 346 1555.5 345.6 1555.6 364.6 1528.1 364.9zM1555.5 345.6 1585.5 345.2 1585.6 364.3 1555.6 364.6zM1585.5 345.2 1616.6 344.9 1616.7 364 1585.6 364.3zM1616.6 344.9 1647.1 344.5 1647.2 363.8 1616.7 364zM1647.1 344.5 1677.6 344.5 1677.7 363.7 1647.2 363.8zM1677.6 344.5 1710.1 344.4 1710.2 363.7 1677.7 363.7zM1710.1 344.4 1743.7 344.3 1743.7 363.6 1710.2 363.7zM1743.7 344.3 1778.7 344.3 1778.8 363.6 1743.7 363.6zM1778.7 344.3 1813.2 344.2 1813.3 363.5 1778.8 363.6zM1813.2 344.2 1849.7 344.1 1849.8 363.5 1813.3 363.5zM1555.6 364.6 1585.6 364.3 1585.8 383.9 1555.8 384zM1585.6 364.3 1616.7 364 1616.8 383.7 1585.8 383.9zM1616.7 364 1647.2 363.8 1647.3 383.5 1616.8 383.7zM1647.2 363.8 1677.7 363.7 1677.8 383.5 1647.3 383.5zM1677.7 363.7 1710.2 363.7 1710.3 383.4 1677.8 383.5zM1710.2 363.7 1743.7 363.6 1743.8 383.4 1710.3 383.4zM1743.7 363.6 1778.8 363.6 1778.8 383.4 1743.8 383.4zM1778.8 363.6 1813.3 363.5 1813.4 383.4 1778.8 383.4zM1813.3 363.5 1849.8 363.5 1849.9 383.3 1813.4 383.4zM1555.8 384 1585.8 383.9 1585.8 396.6 1555.8 396.7zM1585.8 383.9 1616.8 383.7 1616.8 396.5 1585.8 396.6zM1616.8 383.7 1647.3 383.5 1647.4 396.4 1616.8 396.5zM1647.3 383.5 1677.8 383.5 1677.9 396.3 1647.4 396.4zM1677.8 383.5 1710.3 383.4 1710.4 396.3 1677.9 396.3zM1710.3 383.4 1743.8 383.4 1743.9 396.3 1710.4 396.3zM1743.8 383.4 1778.8 383.4 1778.9 396.3 1743.9 396.3zM1778.8 383.4 1813.4 383.4 1813.4 396.2 1778.9 396.3zM1585.8 396.6 1616.8 396.5 1616.9 409.2 1585.9 409.3zM1616.8 396.5 1647.4 396.4 1647.4 409.2 1616.9 409.2zM1647.4 396.4 1677.9 396.3 1677.9 409.2 1647.4 409.2zM1677.9 396.3 1710.4 396.3 1710.4 409.2 1677.9 409.2zM1710.4 396.3 1743.9 396.3 1743.9 409.1 1710.4 409.2zM1743.9 396.3 1778.9 396.3 1778.9 409.1 1743.9 409.1zM1778.9 396.3 1813.4 396.2 1813.4 409.1 1778.9 409.1zM1585.9 409.3 1616.9 409.2 1617 423 1586 423zM1616.9 409.2 1647.4 409.2 1647.5 423 1617 423zM1647.4 409.2 1677.9 409.2 1678 423 1647.5 423zM1677.9 409.2 1710.4 409.2 1710.5 423 1678 423zM1710.4 409.2 1743.9 409.1 1744 423 1710.5 423zM1743.9 409.1 1778.9 409.1 1779 423 1744 423zM1778.9 409.1 1813.4 409.1 1813.5 423 1779 423z" fill="#69bb3f"/>
<path d="M1479.2 252.4 1496.8 251.9 1496.9 272 1479.4 272.5z" fill="#69bb3f"/>
<path d="M1266.7 270.7 1289.9 271.3 1290.1 289.7 1266.9 289.1zM1266.9 289.1 1290.1 289.7 1290.3 307.1 1267.1 306.6z" fill="#69bb3f"/>
<path d="M1461.8 273 1479.4 272.5 1479.5 290.7 1461.9 291.2zM1461.9 291.2 1479.5 290.7 1479.6 308 1462.1 308.4z" fill="#69bb3f"/>
<path d="M1479.1 234.2 1496.7 233.6 1496.8 251.9 1479.2 252.4zM1289.9 271.3 1313.2 271.9 1313.4 290.2 1290.1 289.7zM1290.1 289.7 1313.4 290.2 1313.6 307.5 1290.3 307.1z" fill="#69bb3f"/>
<path d="M1194 229.2 1217.2 230.1 1217.4 248.7 1194.3 247.9z" fill="#69bb3f"/>
<path d="M1168.6 208.5 1193.8 209.5 1194 229.2 1168.9 228.3zM1217.4 248.7 1241.6 249.5 1241.8 269.9 1217.7 269.3zM1461.6 253 1479.2 252.4 1479.4 272.5 1461.8 273zM1313.2 271.9 1336.2 272.4 1336.5 290.6 1313.4 290.2zM1313.4 290.2 1336.5 290.6 1336.7 307.9 1313.6 307.5z" fill="#69bb3f"/>
<path d="M1217.2 230.1 1241.3 230.9 1241.6 249.5 1217.4 248.7z" fill="#69bb3f"/>
<path d="M1193.8 209.5 1216.9 210.5 1217.2 230.1 1194 229.2zM1241.3 230.9 1266.1 231.8 1266.4 250.3 1241.6 249.5zM1241.6 249.5 1266.4 250.3 1266.7 270.7 1241.8 269.9zM1336.2 272.4 1359.3 272.8 1359.5 291 1336.5 290.6zM1336.5 290.6 1359.5 291 1359.7 308.2 1336.7 307.9z" fill="#69bb3f"/>
<path d="M1496.5 214.4 1527.1 213 1527.2 232.3 1496.7 233.6zM1266.1 231.8 1289.4 232.7 1289.6 251 1266.4 250.3zM1461.5 234.8 1479.1 234.2 1479.2 252.4 1461.6 253zM1266.4 250.3 1289.6 251 1289.9 271.3 1266.7 270.7zM1444.7 273.5 1461.8 273 1461.9 291.2 1444.9 291.6zM1444.9 291.6 1461.9 291.2 1462.1 308.4 1445 308.7z" fill="#69bb3f"/>
<path d="M1216.9 210.5 1241 211.4 1241.3 230.9 1217.2 230.1zM1289.4 232.7 1312.7 233.4 1312.9 251.7 1289.6 251z" fill="#69bb3f"/>
<path d="M1527 193.7 1554.5 192.3 1554.7 211.7 1527.1 213zM1312.7 233.4 1335.8 234 1336 252.2 1312.9 251.7zM1289.6 251 1312.9 251.7 1313.2 271.9 1289.9 271.3zM1444.5 253.5 1461.6 253 1461.8 273 1444.7 273.5zM1359.3 272.8 1382.4 273.3 1382.6 291.4 1359.5 291zM1359.5 291 1382.6 291.4 1382.8 308.6 1359.7 308.2z" fill="#69bb3f"/>
<path d="M1241 211.4 1265.9 212.4 1266.1 231.8 1241.3 230.9zM1312.9 251.7 1336 252.2 1336.2 272.4 1313.2 271.9z" fill="#69bb3f"/>
<path d="M1335.8 234 1358.9 234.5 1359.1 252.7 1336 252.2zM1336 252.2 1359.1 252.7 1359.3 272.8 1336.2 272.4zM1382.4 273.3 1405.5 273.6 1405.7 291.7 1382.6 291.4zM1382.6 291.4 1405.7 291.7 1405.9 308.8 1382.8 308.6z" fill="#69bb3f"/>
<path d="M1265.9 212.4 1289.1 213.3 1289.4 232.7 1266.1 231.8zM1358.9 234.5 1382 235.1 1382.2 253.2 1359.1 252.7zM1444.4 235.4 1461.5 234.8 1461.6 253 1444.5 253.5zM1359.1 252.7 1382.2 253.2 1382.4 273.3 1359.3 272.8zM1405.5 273.6 1425.6 273.6 1425.8 291.7 1405.7 291.7zM1425.6 273.6 1444.7 273.5 1444.9 291.6 1425.8 291.7zM1405.7 291.7 1425.8 291.7 1426 308.8 1405.9 308.8zM1425.8 291.7 1444.9 291.6 1445 308.7 1426 308.8z" fill="#70bd3f"/>
<path d="M1382 235.1 1405.2 235.6 1405.3 253.6 1382.2 253.2zM1405.2 235.6 1425.3 235.6 1425.4 253.6 1405.3 253.6zM1425.3 235.6 1444.4 235.4 1444.5 253.5 1425.4 253.6zM1382.2 253.2 1405.3 253.6 1405.5 273.6 1382.4 273.3zM1405.3 253.6 1425.4 253.6 1425.6 273.6 1405.5 273.6zM1425.4 253.6 1444.5 253.5 1444.7 273.5 1425.6 273.6z" fill="#77bf3f"/>
<path d="M1289.1 213.3 1312.4 214.1 1312.7 233.4 1289.4 232.7zM1478.9 215 1496.5 214.4 1496.7 233.6 1479.1 234.2z" fill="#7fc23f"/>
<path d="M1193.5 189.8 1216.6 190.9 1216.9 210.5 1193.8 209.5zM1312.4 214.1 1335.6 214.8 1335.8 234 1312.7 233.4zM1335.6 214.8 1358.7 215.4 1358.9 234.5 1335.8 234z" fill="#86c43f"/>
<path d="M1496.4 195.2 1527 193.7 1527.1 213 1496.5 214.4zM1358.7 215.4 1381.9 216 1382 235.1 1358.9 234.5zM1461.3 215.7 1478.9 215 1479.1 234.2 1461.5 234.8z" fill="#8dc63f"/>
<path d="M1240.8 191.9 1265.6 193 1265.9 212.4 1241 211.4zM1381.9 216 1405 216.5 1405.2 235.6 1382 235.1zM1405 216.5 1425.1 216.5 1425.3 235.6 1405.2 235.6zM1444.2 216.4 1461.3 215.7 1461.5 234.8 1444.4 235.4z" fill="#97c93c"/>
<path d="M1216.6 190.9 1240.8 191.9 1241 211.4 1216.9 210.5zM1425.1 216.5 1444.2 216.4 1444.4 235.4 1425.3 235.6z" fill="#a1cd39"/>
<path d="M1478.8 195.9 1496.4 195.2 1496.5 214.4 1478.9 215z" fill="#b4d433"/>
<path d="M1168.3 188.7 1193.5 189.8 1193.8 209.5 1168.6 208.5z" fill="#bed730"/>
<path d="M1144.1 188.1 1168.3 188.7 1168.6 208.5 1144.5 207.9zM1461.2 196.6 1478.8 195.9 1478.9 215 1461.3 215.7z" fill="#c8da2b"/>
<path d="M1265.6 193 1288.9 194 1289.1 213.3 1265.9 212.4z" fill="#d2dd26"/>
<path d="M1288.9 194 1312.2 194.9 1312.4 214.1 1289.1 213.3zM1312.2 194.9 1335.4 195.6 1335.6 214.8 1312.4 214.1zM1335.4 195.6 1358.5 196.3 1358.7 215.4 1335.6 214.8zM1358.5 196.3 1381.7 196.9 1381.9 216 1358.7 215.4zM1444.1 197.3 1461.2 196.6 1461.3 215.7 1444.2 216.4z" fill="#dce020"/>
<path d="M1381.7 196.9 1404.8 197.5 1405 216.5 1381.9 216zM1404.8 197.5 1424.9 197.5 1425.1 216.5 1405 216.5zM1424.9 197.5 1444.1 197.3 1444.2 216.4 1425.1 216.5z" fill="#e6e31b"/>
</g>
<g class="g"><path d="M746 440.6 2732.5 440.6M746 423 2732.5 423"/><path d="M754.5 423 758 440.6 759 459.3M778 423 781.5 440.6 782.5 459.3M797.5 423 801 440.6 802 459.3M819.5 423 823 440.6 824 459.3M837.5 423 841 440.6 842 459.3M857.5 423 861 440.6 862 459.3M877.5 423 881 440.6 882 459.3M896.5 423 900 440.6 901 459.3M917.2 423 920.7 440.6 921.8 459.3M944.4 423 947.5 440.6 948.4 459.3M972.5 423 975 440.6 975.8 459.3M999 423 1001 440.6 1001.6 459.3M1025.5 423 1027 440.6 1027.4 459.3M1052.6 423 1053.5 440.6 1053.8 459.3M1068.4 423 1069 440.6 1069.2 459.3M1083.7 423 1084 440.6 1084.1 459.3M1100 423 1100 440.6 1100 459.3M1124 423 1124 440.6 1124 459.3M1149 423 1149 440.6 1149 459.3M1173 423 1173 440.6 1173 459.3M1198 423 1198 440.6 1198 459.3M1221 423 1221 440.6 1221 459.3M1244 423 1244 440.6 1244 459.3M1268.7 423 1268.7 440.6 1268.7 459.3M1291.8 423 1291.8 440.6 1291.8 459.3M1315 423 1315 440.6 1315 459.3M1338 423 1338 440.6 1338 459.3M1361 423 1361 440.6 1361 459.3M1384 423 1384 440.6 1384 459.3M1407 423 1407 440.6 1407 459.3M1427 423 1427 440.6 1427 459.3M1446 423 1446 440.6 1446 459.3M1463 423 1463 440.6 1463 459.3M1480.5 423 1480.5 440.6 1480.5 459.3M1498 423 1498 440.6 1498 459.3M1528.5 423 1528.5 440.6 1528.5 459.3M1556 423 1556 440.6 1556 459.3M1586 423 1586 440.6 1586 459.3M1617 423 1617 440.6 1617 459.3M1647.5 423 1647.5 440.6 1647.5 459.3M1678 423 1678 440.6 1678 459.3M1710.5 423 1710.5 440.6 1710.5 459.3M1744 423 1744 440.6 1744 459.3M1779 423 1779 440.6 1779 459.3M1813.5 423 1813.5 440.6 1813.5 459.3M1850 423 1850 440.6 1850 459.3M1887 423 1887 440.6 1887 459.3M1926 423 1926 440.6 1926 459.3M1966 423 1966 440.6 1966 459.3M2006 423 2006 440.6 2006 459.3M2047 423 2047 440.6 2047 459.3M2088.6 423 2088.6 440.6 2088.6 459.3M2130 423 2130 440.6 2130 459.3M2173 423 2173 440.6 2173 459.3M2220 423 2220 440.6 2220 459.3M2266 423 2266 440.6 2266 459.3M2312 423 2312 440.6 2312 459.3M2360.5 423 2360.5 440.6 2360.5 459.3M2411 423 2411 440.6 2411 459.3M2462 423 2462 440.6 2462 459.3M2513 423 2513 440.6 2513 459.3M2565 423 2565 440.6 2565 459.3M2620 423 2620 440.6 2620 459.3M2675 423 2675 440.6 2675 459.3"/></g>
<path class="g g2" d="M71.6 422 71.6 459.3M120 422 120 459.3M168 422 168 459.3M214 422 214 459.3M258 422 258 459.3M303 422 303 459.3M345 422 345 459.3M384 422 384 459.3M421 422 421 459.3M459 422 459 459.3M494 422 494 459.3M529 422 529 459.3M562.5 422 562.5 459.3M594 422 594 459.3M624.6 422 624.6 459.3M654.8 422 654.8 459.3M684 422 684 459.3M709 422 709 459.3M734 422 734 459.3M21.5 440.6 746 440.6"/>
<g class="g" clip-path="url(#cba)"><path d="M740 396 919.4 396M740 409.5 919.7 409.5"/><path d="M777.5 382 781.5 423M797 382 801 423M819 382 823 423M837 382 841 423M857 382 861 423M877 382 881 423M896 382 900 423"/></g>
<g class="g" clip-path="url(#cla)"><path d="M913.4 146 940.7 146.3 968 146.6 994.7 146.9 1021.5 147.2 1048.2 147.5 1062.8 148.1 1078 148.6 1093.6 149.2 1118.3 150.1 1143.5 151 1167.7 151.8 1192.9 152.6 1216 153.3 1240.2 154.1 1265.1 154.9 1288.4 155.6 1311.7 156.3 1334.9 157.1 1358.1 157.8 1381.3 158.5 1404.4 159.3 1424.6 160 1443.7 159.5 1460.9 158.4M913.9 166 941.2 166.3 968.4 166.5 995.1 166.8 1021.9 167.1 1048.6 167.4 1063.2 167.9 1078.3 168.4 1094 169 1118.6 169.8 1143.8 170.6 1168 171.4 1193.2 172.1 1216.3 172.8 1240.5 173.5 1265.4 174.2 1288.6 174.9 1312 175.6 1335.1 176.3 1358.3 176.9 1381.5 177.6 1404.6 178.3 1424.8 179 1443.9 178.6 1461 177.5M914.4 186 941.6 186.3 968.8 186.5 995.5 186.8 1022.3 187 1049 187.3 1063.6 187.8 1078.7 188.3 1094.3 188.7 1119 189.5 1144.1 190.3 1168.3 191 1193.5 191.7 1216.6 192.3 1240.8 192.9 1265.6 193.6 1288.9 194.2 1312.2 194.8 1335.4 195.5 1358.5 196.1 1381.7 196.7 1404.8 197.4 1424.9 198 1444.1 197.6 1461.2 196.6M914.9 206 942.1 206.2 969.3 206.5 996 206.7 1022.7 206.9 1049.4 207.2 1064 207.7 1079.1 208.1 1094.7 208.5 1119.3 209.2 1144.5 209.9 1168.6 210.6 1193.8 211.2 1216.9 211.8 1241 212.3 1265.9 213 1289.1 213.5 1312.4 214.1 1335.6 214.7 1358.7 215.2 1381.9 215.8 1405 216.4 1425.1 217 1444.2 216.6 1461.3 215.7M915.3 226 942.5 226.2 969.7 226.4 996.4 226.6 1023.1 226.8 1049.7 227.1 1064.3 227.5 1079.4 227.9 1095 228.3 1119.7 228.9 1144.8 229.6 1168.9 230.1 1194 230.7 1217.2 231.2 1241.3 231.8 1266.1 232.3 1289.4 232.8 1312.7 233.4 1335.8 233.9 1358.9 234.4 1382 234.9 1405.2 235.5 1425.3 236 1444.4 235.6 1461.5 234.8M915.8 245 943 245.2 970.1 245.4 996.8 245.6 1023.4 245.8 1050.1 246 1064.7 246.4 1079.8 246.7 1095.4 247.1 1120 247.6 1145.1 248.2 1169.2 248.8 1194.3 249.3 1217.4 249.7 1241.6 250.2 1266.4 250.7 1289.6 251.2 1312.9 251.7 1336 252.1 1359.1 252.6 1382.2 253.1 1405.3 253.5 1425.4 254 1444.5 253.7 1461.6 252.9M916.3 266 943.4 266.2 970.6 266.3 997.2 266.5 1023.9 266.7 1050.5 266.9 1065.1 267.2 1080.2 267.5 1095.7 267.8 1120.3 268.3 1145.4 268.8 1169.5 269.3 1194.6 269.8 1217.7 270.2 1241.8 270.6 1266.7 271 1289.9 271.5 1313.2 271.9 1336.2 272.3 1359.3 272.7 1382.4 273.1 1405.5 273.5 1425.6 273.9 1444.7 273.7 1461.8 273M916.8 286 943.9 286.2 971 286.3 997.6 286.4 1024.3 286.6 1050.9 286.8 1065.4 287.1 1080.5 287.3 1096.1 287.6 1120.7 288 1145.8 288.5 1169.9 288.9 1194.9 289.3 1218 289.6 1242.1 290 1266.9 290.4 1290.1 290.8 1313.4 291.1 1336.5 291.5 1359.6 291.9 1382.6 292.2 1405.7 292.6 1425.8 292.9 1444.9 292.7 1461.9 292.1M917.2 304 944.3 304.1 971.4 304.3 998 304.4 1024.6 304.5 1051.2 304.7 1065.8 304.9 1080.8 305.2 1096.4 305.4 1121 305.8 1146.1 306.2 1170.1 306.5 1195.2 306.9 1218.3 307.2 1242.4 307.5 1267.1 307.8 1290.3 308.1 1313.6 308.5 1336.7 308.8 1359.7 309.1 1382.8 309.4 1405.9 309.7 1426 310 1445 309.8 1462.1 309.3M917.7 324 944.7 324.1 971.8 324.2 998.4 324.3 1025 324.4 1051.6 324.6 1066.2 324.8 1081.2 325 1096.8 325.2 1121.3 325.5 1146.4 325.8 1170.5 326.1 1195.5 326.4 1218.6 326.6 1242.6 326.9 1267.4 327.2 1290.6 327.5 1313.8 327.7 1336.9 328 1360 328.2 1383 328.5 1406.1 328.8 1426.1 329 1445.2 328.8 1462.2 328.4M918.1 344 945.2 344.1 972.3 344.2 998.8 344.3 1025.4 344.3 1052 344.5 1066.5 344.6 1081.6 344.8 1097.1 344.9 1121.7 345.2 1146.7 345.4 1170.8 345.7 1195.8 345.9 1218.9 346.1 1242.9 346.3 1267.7 346.5 1290.8 346.8 1314.1 347 1337.1 347.2 1360.2 347.4 1383.2 347.6 1406.3 347.8 1426.3 348 1445.4 347.9 1462.4 347.5M918.6 364 945.7 364.1 972.7 364.1 999.3 364.2 1025.8 364.3 1052.4 364.4 1066.9 364.5 1081.9 364.6 1097.5 364.7 1122 364.9 1147 365.1 1171.1 365.3 1196.1 365.4 1219.2 365.6 1243.2 365.7 1267.9 365.9 1291.1 366.1 1314.3 366.2 1337.3 366.4 1360.4 366.5 1383.4 366.7 1406.5 366.8 1426.5 367 1445.5 366.9 1462.5 366.6M919.1 383 946.1 383.1 973.1 383.1 999.7 383.1 1026.2 383.2 1052.7 383.2 1067.3 383.3 1082.3 383.4 1097.8 383.5 1122.3 383.6 1147.3 383.7 1171.4 383.9 1196.4 384 1219.4 384.1 1243.5 384.2 1268.2 384.3 1291.3 384.4 1314.5 384.5 1337.6 384.6 1360.6 384.7 1383.6 384.8 1406.6 384.9 1426.7 385 1445.7 384.9 1462.7 384.8M919.4 396 946.4 396 973.4 396.1 999.9 396.1 1026.5 396.1 1053 396.2 1067.5 396.2 1082.5 396.3 1098 396.3 1122.5 396.4 1147.6 396.5 1171.6 396.6 1196.6 396.7 1219.6 396.7 1243.6 396.8 1268.3 396.9 1291.5 396.9 1314.7 397 1337.7 397.1 1360.7 397.2 1383.7 397.2 1406.7 397.3 1426.8 397.4 1445.8 397.3 1462.8 397.2M919.7 409.5 946.7 409.5 973.7 409.5 1000.2 409.5 1026.7 409.6 1053.2 409.6 1067.7 409.6 1082.8 409.6 1098.3 409.7 1122.8 409.7 1147.8 409.7 1171.8 409.8 1196.8 409.8 1219.8 409.9 1243.8 409.9 1268.5 409.9 1291.6 410 1314.8 410 1337.8 410 1360.9 410.1 1383.9 410.1 1406.9 410.2 1426.9 410.2 1445.9 410.2 1462.9 410.1"/><path d="M940.2 124.3 941.9 200.2 943.7 280.2 945.3 350.1 947 423M967.5 124.6 969.1 200.5 970.9 280.3 972.4 350.2 974 423M994.2 124.9 995.8 200.7 997.5 280.5 999 350.2 1000.5 423M1021 125.2 1022.5 200.9 1024.1 280.6 1025.5 350.3 1027 423M1047.8 125.7 1049.2 201.3 1050.8 280.8 1052.1 350.4 1053.5 423M1062.4 126.2 1063.8 201.7 1065.3 281.1 1066.6 350.6 1068 423M1077.6 126.8 1079 202.1 1080.4 281.4 1081.7 350.7 1083 423M1093.2 127.4 1094.6 202.6 1096 281.7 1097.2 350.9 1098.5 423M1117.9 128.4 1119.2 203.3 1120.6 282.1 1121.8 351.1 1123 423M1143.1 129.3 1144.4 204 1145.7 282.6 1146.8 351.3 1148 423M1167.3 130.2 1168.5 204.7 1169.8 283 1170.9 351.6 1172 423M1192.5 131.1 1193.7 205.3 1194.9 283.4 1195.9 351.8 1197 423M1215.7 131.9 1216.8 205.9 1217.9 283.8 1219 352 1220 423M1239.9 132.7 1240.9 206.5 1242 284.2 1243 352.2 1244 423M1264.8 133.6 1265.8 207.1 1266.8 284.6 1267.7 352.4 1268.7 423M1288.1 134.3 1289 207.7 1290 285 1290.9 352.5 1291.8 423M1311.5 135.1 1312.4 208.3 1313.3 285.4 1314.1 352.7 1315 423M1334.7 135.9 1335.5 208.9 1336.4 285.7 1337.2 352.9 1338 423M1357.9 136.7 1358.7 209.5 1359.5 286.1 1360.2 353.1 1361 423M1381 137.5 1381.8 210.1 1382.6 286.5 1383.3 353.3 1384 423M1404.2 138.3 1404.9 210.7 1405.7 286.9 1406.3 353.5 1407 423M1424.4 139.1 1425.1 211.3 1425.8 287.2 1426.4 353.7 1427 423M1443.5 138.6 1444.2 210.9 1444.8 287 1445.4 353.6 1446 423M1460.7 137.4 1461.3 210 1461.9 286.4 1462.4 353.2 1463 423"/></g>
<g class="g gc" clip-path="url(#cra)"><path d="M1093.6 148.6 1118.3 149.4 1143.5 150.2 1167.7 151.1 1192.9 152 1216 152.9 1240.2 153.7 1265.1 154.7 1288.4 155.5 1311.7 156.3 1334.9 157.1 1358.1 157.8 1381.3 158.6 1404.4 159.3 1424.6 159.9 1443.7 159.5 1460.9 158.4 1478.5 157.1 1496.1 156 1526.7 154.2 1554.3 152.9 1584.4 151.8 1615.4 150.7 1646 149.6 1676.6 149.3 1709.2 149.2 1742.8 149.1 1777.9 149 1812.5 148.9 1849.1 148.9 1886.2 148.8 1925.3 148.7 1965.4 148.6 2005.5 148.5 2046.6 148.4 2088.3 148.3 2129.8 148.2 2172.9 147.2 2220 146.1 2266 146.1 2312 146.1 2360.5 146.1 2411 146.1 2462 146.1 2513 146.1 2565 146 2620 146 2675 146 2732.5 146M1094 167.8 1118.6 168.4 1143.8 169.2 1168 169.9 1193.2 170.9 1216.3 171.9 1240.5 172.8 1265.4 173.8 1288.6 174.8 1312 175.6 1335.1 176.3 1358.3 177 1381.5 177.8 1404.6 178.4 1424.8 178.7 1443.9 178.4 1461 177.5 1478.6 176.5 1496.2 175.6 1526.8 173.9 1554.4 172.6 1584.5 171.5 1615.6 170.4 1646.1 169.4 1676.7 169.1 1709.3 168.9 1742.9 168.8 1778 168.7 1812.5 168.5 1849.1 168.4 1886.2 168.2 1925.3 168.1 1965.4 167.9 2005.5 167.7 2046.6 167.6 2088.3 167.4 2129.8 167.3 2172.9 166.8 2220 166.3 2266 166.2 2312 166.2 2360.5 166.2 2411 166.2 2462 166.1 2513 166.1 2565 166.1 2620 166.1 2675 166 2732.5 166M1094.3 187 1119 187.5 1144.1 188.1 1168.3 188.7 1193.5 189.8 1216.6 190.9 1240.8 191.9 1265.6 193 1288.9 194 1312.2 194.9 1335.4 195.6 1358.5 196.3 1381.7 196.9 1404.8 197.5 1424.9 197.5 1444.1 197.3 1461.2 196.6 1478.8 195.9 1496.4 195.2 1527 193.7 1554.5 192.3 1584.6 191.2 1615.7 190.1 1646.2 189.1 1676.8 188.9 1709.4 188.7 1743 188.5 1778 188.3 1812.6 188.1 1849.2 187.9 1886.3 187.7 1925.4 187.5 1965.5 187.2 2005.6 187 2046.6 186.8 2088.3 186.6 2129.8 186.5 2172.9 186.4 2220 186.4 2266 186.4 2312 186.3 2360.5 186.3 2411 186.3 2462 186.2 2513 186.2 2565 186.1 2620 186.1 2675 186 2732.5 186M1094.7 206.9 1119.3 207.3 1144.5 207.9 1168.6 208.5 1193.8 209.5 1216.9 210.5 1241 211.4 1265.9 212.4 1289.1 213.3 1312.4 214.1 1335.6 214.8 1358.7 215.4 1381.9 216 1405 216.5 1425.1 216.5 1444.2 216.4 1461.3 215.7 1478.9 215 1496.5 214.4 1527.1 213 1554.7 211.7 1584.7 210.7 1615.8 209.8 1646.3 208.9 1676.9 208.6 1709.5 208.4 1743 208.3 1778.1 208.1 1812.7 207.9 1849.3 207.7 1886.3 207.5 1925.4 207.3 1965.5 207.1 2005.6 206.9 2046.7 206.7 2088.4 206.5 2129.9 206.4 2172.9 206.4 2220 206.4 2266 206.3 2312 206.3 2360.5 206.3 2411 206.2 2462 206.2 2513 206.2 2565 206.1 2620 206.1 2675 206 2732.5 206M1095 226.8 1119.7 227.2 1144.8 227.7 1168.9 228.3 1194 229.2 1217.2 230.1 1241.3 230.9 1266.1 231.8 1289.4 232.7 1312.7 233.4 1335.8 234 1358.9 234.5 1382 235.1 1405.2 235.6 1425.3 235.6 1444.4 235.4 1461.5 234.8 1479.1 234.2 1496.7 233.6 1527.2 232.3 1554.8 231.2 1584.8 230.3 1615.9 229.4 1646.4 228.6 1677 228.4 1709.6 228.2 1743.1 228.1 1778.2 227.9 1812.8 227.7 1849.3 227.6 1886.4 227.4 1925.5 227.2 1965.6 227 2005.6 226.9 2046.7 226.7 2088.4 226.5 2129.9 226.4 2172.9 226.4 2220 226.3 2266 226.3 2312 226.3 2360.5 226.2 2411 226.2 2462 226.2 2513 226.1 2565 226.1 2620 226.1 2675 226 2732.5 226M1095.4 245.8 1120 246.1 1145.1 246.6 1169.2 247.1 1194.3 247.9 1217.4 248.7 1241.6 249.5 1266.4 250.3 1289.6 251 1312.9 251.7 1336 252.2 1359.1 252.7 1382.2 253.2 1405.3 253.6 1425.4 253.6 1444.5 253.5 1461.6 253 1479.2 252.4 1496.8 251.9 1527.3 250.7 1554.9 249.7 1584.9 248.9 1616 248.1 1646.6 247.3 1677.1 247.1 1709.7 247 1743.2 246.9 1778.3 246.7 1812.8 246.6 1849.4 246.4 1886.5 246.3 1925.5 246.1 1965.6 245.9 2005.7 245.8 2046.7 245.6 2088.4 245.4 2129.9 245.4 2173 245.3 2220 245.3 2266 245.3 2312 245.2 2360.5 245.2 2411 245.2 2462 245.2 2513 245.1 2565 245.1 2620 245.1 2675 245 2732.5 245M1095.7 266.7 1120.3 267 1145.4 267.4 1169.5 267.9 1194.6 268.6 1217.7 269.3 1241.8 269.9 1266.7 270.7 1289.9 271.3 1313.2 271.9 1336.2 272.4 1359.3 272.8 1382.4 273.3 1405.5 273.6 1425.6 273.6 1444.7 273.5 1461.8 273 1479.4 272.5 1496.9 272 1527.5 271.1 1555 270.1 1585.1 269.4 1616.1 268.7 1646.7 268.1 1677.2 267.9 1709.8 267.8 1743.3 267.6 1778.4 267.5 1812.9 267.4 1849.5 267.3 1886.5 267.1 1925.6 267 1965.6 266.8 2005.7 266.7 2046.8 266.5 2088.4 266.4 2129.9 266.3 2173 266.3 2220 266.3 2266 266.2 2312 266.2 2360.5 266.2 2411 266.2 2462 266.1 2513 266.1 2565 266.1 2620 266.1 2675 266 2732.5 266M1096.1 285.6 1120.7 285.9 1145.7 286.2 1169.8 286.6 1194.9 287.3 1218 287.9 1242.1 288.5 1266.9 289.1 1290.1 289.7 1313.4 290.2 1336.5 290.6 1359.5 291 1382.6 291.4 1405.7 291.7 1425.8 291.7 1444.9 291.6 1461.9 291.2 1479.5 290.7 1497.1 290.3 1527.6 289.4 1555.1 288.6 1585.2 288 1616.2 287.4 1646.8 286.8 1677.3 286.7 1709.8 286.6 1743.4 286.4 1778.4 286.3 1813 286.2 1849.5 286.1 1886.6 286 1925.6 285.9 1965.7 285.7 2005.7 285.6 2046.8 285.5 2088.5 285.3 2129.9 285.3 2173 285.3 2220 285.2 2266 285.2 2312 285.2 2360.5 285.2 2411 285.1 2462 285.1 2513 285.1 2565 285.1 2620 285.1 2675 285 2732.5 285M1096.4 303.5 1121 303.8 1146 304.1 1170.1 304.4 1195.2 305 1218.3 305.5 1242.4 306 1267.1 306.6 1290.3 307.1 1313.6 307.5 1336.7 307.9 1359.7 308.2 1382.8 308.6 1405.9 308.8 1426 308.8 1445 308.7 1462.1 308.4 1479.6 308 1497.2 307.6 1527.7 306.9 1555.3 306.2 1585.3 305.6 1616.3 305.1 1646.9 304.6 1677.4 304.4 1709.9 304.4 1743.5 304.3 1778.5 304.2 1813.1 304.1 1849.6 304 1886.6 303.9 1925.7 303.7 1965.7 303.6 2005.8 303.5 2046.8 303.4 2088.5 303.3 2129.9 303.2 2173 303.2 2220 303.2 2266 303.2 2312 303.2 2360.5 303.1 2411 303.1 2462 303.1 2513 303.1 2565 303.1 2620 303 2675 303 2732.5 303M1096.7 323.9 1121.3 324.1 1146.4 324.4 1170.4 324.7 1195.5 325.2 1218.6 325.6 1242.6 326 1267.4 326.5 1290.6 326.9 1313.8 327.2 1336.9 327.5 1360 327.8 1383 328.1 1406.1 328.3 1426.1 328.3 1445.2 328.2 1462.2 327.9 1479.8 327.6 1497.3 327.3 1527.9 326.7 1555.4 326.1 1585.4 325.7 1616.4 325.2 1647 324.8 1677.5 324.7 1710 324.6 1743.6 324.5 1778.6 324.5 1813.1 324.4 1849.7 324.3 1886.7 324.2 1925.7 324.1 1965.8 324 2005.8 323.9 2046.9 323.8 2088.5 323.7 2129.9 323.7 2173 323.7 2220 323.7 2266 323.7 2312 323.6 2360.5 323.6 2411 323.6 2462 323.6 2513 323.6 2565 323.6 2620 323.5 2675 323.5 2732.5 323.5M1097.1 343.8 1121.6 344 1146.7 344.2 1170.8 344.5 1195.8 344.8 1218.9 345.2 1242.9 345.5 1267.7 345.9 1290.8 346.2 1314.1 346.5 1337.1 346.7 1360.2 347 1383.2 347.2 1406.3 347.4 1426.3 347.4 1445.3 347.3 1462.4 347 1479.9 346.8 1497.5 346.6 1528 346 1555.5 345.6 1585.5 345.2 1616.6 344.9 1647.1 344.5 1677.6 344.5 1710.1 344.4 1743.7 344.3 1778.7 344.3 1813.2 344.2 1849.7 344.1 1886.8 344.1 1925.8 344 1965.8 343.9 2005.9 343.8 2046.9 343.8 2088.5 343.7 2129.9 343.7 2173 343.6 2220 343.6 2266 343.6 2312 343.6 2360.5 343.6 2411 343.6 2462 343.6 2513 343.6 2565 343.5 2620 343.5 2675 343.5 2732.5 343.5M1097.4 363.3 1122 363.4 1147 363.5 1171.1 363.7 1196.1 364 1219.1 364.3 1243.2 364.5 1267.9 364.8 1291.1 365.1 1314.3 365.3 1337.3 365.4 1360.4 365.6 1383.4 365.8 1406.4 365.9 1426.5 365.9 1445.5 365.9 1462.5 365.7 1480.1 365.5 1497.6 365.3 1528.1 364.9 1555.6 364.6 1585.6 364.3 1616.7 364 1647.2 363.8 1677.7 363.7 1710.2 363.7 1743.7 363.6 1778.8 363.6 1813.3 363.5 1849.8 363.5 1886.8 363.4 1925.8 363.4 1965.9 363.3 2005.9 363.3 2046.9 363.2 2088.5 363.1 2130 363.1 2173 363.1 2220 363.1 2266 363.1 2312 363.1 2360.5 363.1 2411 363.1 2462 363.1 2513 363 2565 363 2620 363 2675 363 2732.5 363M1097.8 383.2 1122.3 383.3 1147.3 383.4 1171.4 383.5 1196.4 383.7 1219.4 383.8 1243.5 384 1268.2 384.2 1291.3 384.4 1314.5 384.5 1337.6 384.6 1360.6 384.7 1383.6 384.9 1406.6 384.9 1426.7 384.9 1445.7 384.9 1462.7 384.8 1480.2 384.7 1497.7 384.5 1528.2 384.3 1555.8 384 1585.8 383.9 1616.8 383.7 1647.3 383.5 1677.8 383.5 1710.3 383.4 1743.8 383.4 1778.8 383.4 1813.4 383.4 1849.9 383.3 1886.9 383.3 1925.9 383.2 1965.9 383.2 2005.9 383.2 2046.9 383.1 2088.6 383.1 2130 383.1 2173 383.1 2220 383.1 2266 383.1 2312 383.1 2360.5 383 2411 383 2462 383 2513 383 2565 383 2620 383 2675 383 2732.5 383M1098 396.1 1122.5 396.2 1147.6 396.2 1171.6 396.3 1196.6 396.5 1219.6 396.6 1243.6 396.7 1268.3 396.8 1291.5 396.9 1314.7 397 1337.7 397.1 1360.7 397.2 1383.7 397.3 1406.7 397.3 1426.8 397.3 1445.8 397.3 1462.8 397.2 1480.3 397.1 1497.8 397 1528.3 396.9 1555.8 396.7 1585.8 396.6 1616.8 396.5 1647.4 396.4 1677.9 396.3 1710.4 396.3 1743.9 396.3 1778.9 396.3 1813.4 396.2 1849.9 396.2 1886.9 396.2 1925.9 396.2 1965.9 396.1 2005.9 396.1 2047 396.1 2088.6 396.1 2130 396.1 2173 396.1 2220 396 2266 396 2312 396 2360.5 396 2411 396 2462 396 2513 396 2565 396 2620 396 2675 396 2732.5 396M1098.3 409.1 1122.8 409.1 1147.8 409.1 1171.8 409.2 1196.8 409.2 1219.8 409.3 1243.8 409.4 1268.5 409.4 1291.6 409.5 1314.8 409.5 1337.8 409.6 1360.9 409.6 1383.9 409.7 1406.9 409.7 1426.9 409.7 1445.9 409.7 1462.9 409.6 1480.4 409.6 1497.9 409.5 1528.4 409.4 1555.9 409.4 1585.9 409.3 1616.9 409.2 1647.4 409.2 1677.9 409.2 1710.4 409.2 1743.9 409.1 1778.9 409.1 1813.4 409.1 1850 409.1 1887 409.1 1926 409.1 1966 409.1 2006 409.1 2047 409 2088.6 409 2130 409 2173 409 2220 409 2266 409 2312 409 2360.5 409 2411 409 2462 409 2513 409 2565 409 2620 409 2675 409 2732.5 409"/><path d="M1117.9 128.5 1119 187.5 1120.2 261 1121.6 340.5 1123 423M1143.1 129.4 1144.1 188.1 1145.3 261.4 1146.6 340.7 1148 423M1167.3 130.4 1168.3 188.7 1169.4 261.9 1170.7 341 1172 423M1192.5 131.2 1193.5 189.8 1194.6 262.7 1195.8 341.4 1197 423M1215.7 132 1216.6 190.9 1217.7 263.4 1218.8 341.7 1220 423M1239.9 132.8 1240.8 191.9 1241.8 264.1 1242.9 342.1 1244 423M1264.8 133.6 1265.6 193 1266.6 264.8 1267.6 342.5 1268.7 423M1288.1 134.4 1288.9 194 1289.8 265.5 1290.8 342.8 1291.8 423M1311.5 135.1 1312.2 194.9 1313.1 266.1 1314 343.1 1315 423M1334.7 135.9 1335.4 195.6 1336.2 266.6 1337.1 343.4 1338 423M1357.9 136.7 1358.5 196.3 1359.3 267.1 1360.1 343.6 1361 423M1381 137.5 1381.7 196.9 1382.4 267.5 1383.2 343.9 1384 423M1404.2 138.3 1404.8 197.5 1405.5 267.9 1406.2 344 1407 423M1424.4 139.2 1424.9 197.5 1425.6 267.9 1426.3 344 1427 423M1443.5 138.6 1444.1 197.3 1444.7 267.8 1445.3 343.9 1446 423M1460.7 137.4 1461.2 196.6 1461.7 267.3 1462.4 343.7 1463 423M1478.3 135.7 1478.8 195.9 1479.3 266.8 1479.9 343.4 1480.5 423M1496 134.5 1496.4 195.2 1496.9 266.3 1497.4 343.2 1498 423M1526.6 132.5 1527 193.7 1527.4 265.2 1528 342.7 1528.5 423M1554.1 131.3 1554.5 192.3 1555 264.3 1555.5 342.2 1556 423M1584.2 130.2 1584.6 191.2 1585 263.6 1585.5 341.8 1586 423M1615.3 129 1615.7 190.1 1616.1 262.8 1616.5 341.4 1617 423M1645.9 127.9 1646.2 189.1 1646.6 262.1 1647.1 341.1 1647.5 423M1676.5 127.5 1676.8 188.9 1677.2 262 1677.6 341 1678 423M1709.1 127.5 1709.4 188.7 1709.7 261.8 1710.1 340.9 1710.5 423M1742.7 127.5 1743 188.5 1743.3 261.7 1743.6 340.9 1744 423M1777.8 127.4 1778 188.3 1778.3 261.6 1778.7 340.8 1779 423M1812.4 127.4 1812.6 188.1 1812.9 261.4 1813.2 340.7 1813.5 423M1849 127.4 1849.2 187.9 1849.4 261.3 1849.7 340.7 1850 423M1886.1 127.4 1886.3 187.7 1886.5 261.2 1886.7 340.6 1887 423M1925.2 127.3 1925.4 187.5 1925.6 261 1925.8 340.5 1926 423M1965.3 127.3 1965.5 187.2 1965.6 260.9 1965.8 340.4 1966 423M2005.4 127.3 2005.6 187 2005.7 260.7 2005.8 340.4 2006 423M2046.6 127.2 2046.6 186.8 2046.8 260.5 2046.9 340.3 2047 423M2088.3 127.2 2088.3 186.6 2088.4 260.4 2088.5 340.2 2088.6 423M2129.8 127.2 2129.8 186.5 2129.9 260.3 2129.9 340.2 2130 423M2172.9 125.7 2172.9 186.4 2173 260.3 2173 340.2 2173 423M2220 124 2220 186.4 2220 260.3 2220 340.1 2220 423M2266 124 2266 186.4 2266 260.3 2266 340.1 2266 423M2312 124 2312 186.3 2312 260.2 2312 340.1 2312 423M2360.5 124 2360.5 186.3 2360.5 260.2 2360.5 340.1 2360.5 423M2411 124 2411 186.3 2411 260.2 2411 340.1 2411 423M2462 124 2462 186.2 2462 260.1 2462 340.1 2462 423M2513 124 2513 186.2 2513 260.1 2513 340.1 2513 423M2565 124 2565 186.1 2565 260.1 2565 340 2565 423M2620 124 2620 186.1 2620 260.1 2620 340 2620 423M2675 124 2675 186 2675 260 2675 340 2675 423"/></g>
<path class="d" d="M1089.1 130.2 1458.4 423M1096.6 381 1161 420"/>
</g>
<g id="panel-b" class="pn">
<clipPath id="clb"><path d="M0 709 1012.7 709 1463.7 1047.5 0 1047.5z"/></clipPath>
<clipPath id="crb"><path d="M1012.7 709 2780 709 2780 1047.5 1463.7 1047.5z"/></clipPath>
<clipPath id="cbb"><path d="M738.9 1047.5 750.7 1042.5 805.3 1006.5 910.6 1006.5 914.3 1047.5z"/></clipPath>
<path d="M1.5 1064.8 2764 1064.8 2764 1085.3 1.5 1085.3zM7.1 1065.8 15.5 1049 733 1049 733 1047.5 2764 1047.5 2764 1065.8zM704.5 1050 707.5 1045 715.3 1043.2 726.1 1043.5 735 1042.5 744.8 1043 752.6 1042.5 752.6 1050.5zM738.9 1047.5 750.7 1042.5 805.3 1006.5 910.6 1006.5 914.3 1049.5 738.9 1049.5zM914.3 1049.5 910.7 1007.2 903.2 923.5 895.9 842.8 887.5 749 1000 748.2 1000.1 747 1020 747 1020.1 749.8 1021 750 1400 762.5 1425 763.2 1450 762.5 1480 759.8 1510 757 1547 754.6 1600 753.4 1676 752.8 1753 752.8 1760 755 2185 755 2764 759 2764 1049.5z" fill="#354da3"/>
<g>
<path d="M1469 1047.5 1486.2 1047.5 1486.2 1065.8 1469 1065.8zM1486.2 1047.5 1503.5 1047.5 1503.5 1065.8 1486.2 1065.8zM1503.5 1047.5 1534.4 1047.5 1534.4 1065.8 1503.5 1065.8zM1534.4 1047.5 1562.2 1047.5 1562.2 1065.8 1534.4 1065.8zM1562.2 1047.5 1592.6 1047.5 1592.6 1065.8 1562.2 1065.8z" fill="#3855a7"/>
<path d="M1592.6 1047.5 1624 1047.5 1624 1065.8 1592.6 1065.8z" fill="#3958a9"/>
<path d="M1624 1047.5 1655.9 1047.5 1655.9 1065.8 1624 1065.8z" fill="#3d65b1"/>
<path d="M867.6 1047.5 887.8 1047.5 893.7 1065.8 874 1065.8zM1062.3 1047.5 1077.7 1047.5 1081.8 1065.8 1066.4 1065.8zM1655.9 1047.5 1687.9 1047.5 1687.9 1065.8 1655.9 1065.8zM1687.9 1047.5 1721.9 1047.5 1721.9 1065.8 1687.9 1065.8zM1721.9 1047.5 1757 1047.5 1757 1065.8 1721.9 1065.8zM1757 1047.5 1792.7 1047.5 1792.7 1065.8 1757 1065.8z" fill="#4070b8"/>
<path d="M1792.7 1047.5 1827.8 1047.5 1827.8 1065.8 1792.7 1065.8zM1827.8 1047.5 1865 1047.5 1865 1065.8 1827.8 1065.8zM1865 1047.5 1902 1047.5 1902 1065.8 1865 1065.8z" fill="#427abe"/>
<path d="M1902 1047.5 1941 1047.5 1941 1065.8 1902 1065.8z" fill="#4383c5"/>
<path d="M1941 1047.5 1981 1047.5 1981 1065.8 1941 1065.8z" fill="#448ccc"/>
<path d="M887.8 1047.5 909.7 1047.5 915 1065.8 893.7 1065.8zM1981 1047.5 2021 1047.5 2021 1065.8 1981 1065.8z" fill="#419fd9"/>
<path d="M2021 1047.5 2061.7 1047.5 2061.7 1065.8 2021 1065.8z" fill="#3ca8e0"/>
<path d="M648.1 1049 678 1049 678 1065.8 648.1 1065.8zM2061.7 1047.5 2103 1047.5 2103 1065.8 2061.7 1065.8zM2103 1047.5 2145.5 1047.5 2145.5 1065.8 2103 1065.8zM2145.5 1047.5 2189.6 1047.5 2189.6 1065.8 2145.5 1065.8zM2189.6 1047.5 2237.9 1047.5 2237.9 1065.8 2189.6 1065.8zM2237.9 1047.5 2285.1 1047.5 2285.1 1065.8 2237.9 1065.8zM2285.1 1047.5 2332.3 1047.5 2332.3 1065.8 2285.1 1065.8z" fill="#32bbee"/>
<path d="M2332.3 1047.5 2382.1 1047.5 2382.1 1065.8 2332.3 1065.8z" fill="#3dbfec"/>
<path d="M2382.1 1047.5 2434 1047.5 2434 1065.8 2382.1 1065.8z" fill="#49c4eb"/>
<path d="M2434 1047.5 2486.3 1047.5 2486.3 1065.8 2434 1065.8zM2486.3 1047.5 2538.7 1047.5 2538.7 1065.8 2486.3 1065.8z" fill="#55c8ea"/>
<path d="M678 1049 702.6 1049 702.6 1065.8 678 1065.8zM2538.7 1047.5 2592.1 1047.5 2592.1 1065.8 2538.7 1065.8zM2592.1 1047.5 2648.5 1047.5 2648.5 1065.8 2592.1 1065.8zM2648.5 1047.5 2705 1047.5 2705 1065.8 2648.5 1065.8zM2705 1047.5 2764 1047.5 2764 1065.8 2705 1065.8z" fill="#60cce8"/>
<path d="M1019.1 1047.5 1046.3 1047.5 1050.6 1065.8 1023.6 1065.8z" fill="#6fcac2"/>
<path d="M585.7 1049 617.1 1049 617.1 1065.8 585.7 1065.8zM617.1 1049 648.1 1049 648.1 1065.8 617.1 1065.8z" fill="#69bb3f"/>
<path d="M15.5 1045 37.5 1046.5 57 1049 57 1065.8 7.1 1065.8zM553.5 1049 585.7 1049 585.7 1065.8 553.5 1065.8z" fill="#aad036"/>
<path d="M519.1 1049 553.5 1049 553.5 1065.8 519.1 1065.8z" fill="#f3dd15"/>
<path d="M57 1049 105.4 1049 105.4 1065.8 57 1065.8z" fill="#f68b1f"/>
<path d="M483.2 1049 519.1 1049 519.1 1065.8 483.2 1065.8z" fill="#f47723"/>
<path d="M105.4 1049 153.4 1049 153.4 1065.8 105.4 1065.8zM153.4 1049 199.5 1049 199.5 1065.8 153.4 1065.8zM199.5 1049 243.5 1049 243.5 1065.8 199.5 1065.8zM243.5 1049 288.5 1049 288.5 1065.8 243.5 1065.8zM288.5 1049 330.5 1049 330.5 1065.8 288.5 1065.8zM330.5 1049 370.5 1049 370.5 1065.8 330.5 1065.8zM370.5 1049 408.4 1049 408.4 1065.8 370.5 1065.8zM408.4 1049 447.4 1049 447.4 1065.8 408.4 1065.8zM447.4 1049 483.2 1049 483.2 1065.8 447.4 1065.8z" fill="#f04b25"/>
</g>
<g clip-path="url(#crb)">
<path d="M1484 1009.2 1501.5 1009 1502.1 1021.5 1484.8 1021.7zM1501.5 1009 1532.3 1008.6 1533 1021.3 1502.1 1021.5zM1532.3 1008.6 1560.2 1008.3 1560.8 1021 1533 1021.3zM1560.2 1008.3 1590.5 1008.1 1591.2 1020.9 1560.8 1021zM1502.1 1021.5 1533 1021.3 1533.7 1033.9 1502.8 1034zM1533 1021.3 1560.8 1021 1561.5 1033.8 1533.7 1033.9zM1560.8 1021 1591.2 1020.9 1591.9 1033.7 1561.5 1033.8zM1485.5 1034.1 1502.8 1034 1503.5 1047.5 1486.2 1047.5zM1502.8 1034 1533.7 1033.9 1534.4 1047.5 1503.5 1047.5zM1533.7 1033.9 1561.5 1033.8 1562.2 1047.5 1534.4 1047.5zM1561.5 1033.8 1591.9 1033.7 1592.6 1047.5 1562.2 1047.5z" fill="#3855a7"/>
<path d="M1464.3 971.8 1481.8 971.5 1482.9 990.1 1465.4 990.3zM1481.8 971.5 1499.4 971 1500.4 989.8 1482.9 990.1zM1499.4 971 1530.3 970.3 1531.3 989.2 1500.4 989.8zM1530.3 970.3 1558.1 969.7 1559.1 988.7 1531.3 989.2zM1558.1 969.7 1588.5 969.3 1589.5 988.5 1559.1 988.7zM1588.5 969.3 1619.8 969.2 1620.8 988.4 1589.5 988.5zM1482.9 990.1 1500.4 989.8 1501.5 1009 1484 1009.2zM1500.4 989.8 1531.3 989.2 1532.3 1008.6 1501.5 1009zM1531.3 989.2 1559.1 988.7 1560.2 1008.3 1532.3 1008.6zM1559.1 988.7 1589.5 988.5 1590.5 1008.1 1560.2 1008.3zM1589.5 988.5 1620.8 988.4 1621.9 1008.1 1590.5 1008.1zM1590.5 1008.1 1621.9 1008.1 1622.6 1020.9 1591.2 1020.9zM1484.8 1021.7 1502.1 1021.5 1502.8 1034 1485.5 1034.1z" fill="#3957a8"/>
<path d="M1445.9 953.1 1463.1 952.8 1464.3 971.8 1447.2 972.1zM1463.1 952.8 1480.7 952.4 1481.8 971.5 1464.3 971.8zM1480.7 952.4 1498.4 951.8 1499.4 971 1481.8 971.5zM1498.4 951.8 1529.3 950.9 1530.3 970.3 1499.4 971zM1529.3 950.9 1557.1 950.1 1558.1 969.7 1530.3 970.3zM1557.1 950.1 1587.4 949.6 1588.5 969.3 1558.1 969.7zM1587.4 949.6 1618.8 949.5 1619.8 969.2 1588.5 969.3zM1465.4 990.3 1482.9 990.1 1484 1009.2 1466.6 1009.4zM1466.6 1009.4 1484 1009.2 1484.8 1021.7 1467.4 1021.8zM1467.4 1021.8 1484.8 1021.7 1485.5 1034.1 1468.2 1034.2zM1591.2 1020.9 1622.6 1020.9 1623.3 1033.7 1591.9 1033.7zM1468.2 1034.2 1485.5 1034.1 1486.2 1047.5 1469 1047.5zM1591.9 1033.7 1623.3 1033.7 1624 1047.5 1592.6 1047.5z" fill="#3958a9"/>
<path d="M1444.6 933.7 1461.8 933.3 1463.1 952.8 1445.9 953.1zM1461.8 933.3 1479.6 932.8 1480.7 952.4 1463.1 952.8zM1479.6 932.8 1497.4 932.2 1498.4 951.8 1480.7 952.4zM1497.4 932.2 1528.2 931 1529.3 950.9 1498.4 951.8zM1528.2 931 1556 930.1 1557.1 950.1 1529.3 950.9zM1556 930.1 1586.4 929.5 1587.4 949.6 1557.1 950.1zM1586.4 929.5 1617.7 929.3 1618.8 949.5 1587.4 949.6zM1617.7 929.3 1649.6 929.3 1650.7 949.5 1618.8 949.5zM1447.2 972.1 1464.3 971.8 1465.4 990.3 1448.4 990.6zM1619.8 969.2 1651.7 969.2 1652.8 988.4 1620.8 988.4zM1620.8 988.4 1652.8 988.4 1653.8 1008.1 1621.9 1008.1zM1432.6 1034.2 1451.4 1034.2 1452.2 1047.5 1433.5 1047.5zM1451.4 1034.2 1468.2 1034.2 1469 1047.5 1452.2 1047.5z" fill="#3a5aaa"/>
<path d="M1443.5 916.7 1460.8 916.2 1461.8 933.3 1444.6 933.7zM1460.8 916.2 1478.6 915.7 1479.6 932.8 1461.8 933.3zM1478.6 915.7 1496.4 914.9 1497.4 932.2 1479.6 932.8zM1496.4 914.9 1527.3 913.6 1528.2 931 1497.4 932.2zM1527.3 913.6 1555.1 912.5 1556 930.1 1528.2 931zM1555.1 912.5 1585.4 911.8 1586.4 929.5 1556 930.1zM1585.4 911.8 1616.7 911.5 1617.7 929.3 1586.4 929.5zM1616.7 911.5 1648.6 911.5 1649.6 929.3 1617.7 929.3zM1380.3 933.6 1405.7 933.8 1407.1 953.2 1381.7 953.1zM1425.4 933.8 1444.6 933.7 1445.9 953.1 1426.8 953.2zM1426.8 953.2 1445.9 953.1 1447.2 972.1 1428.1 972.2zM1618.8 949.5 1650.7 949.5 1651.7 969.2 1619.8 969.2zM1448.4 990.6 1465.4 990.3 1466.6 1009.4 1449.7 1009.5zM1449.7 1009.5 1466.6 1009.4 1467.4 1021.8 1450.5 1021.9zM1450.5 1021.9 1467.4 1021.8 1468.2 1034.2 1451.4 1034.2z" fill="#3c60ae"/>
<path d="M1131.4 808.1 1155.9 809.9 1157.2 830.1 1132.7 828.3zM1155.9 809.9 1181.4 812.3 1182.7 832.2 1157.2 830.1zM1330.6 897.3 1354 898 1355.3 916.1 1331.9 915.5zM1377.8 898.4 1403.2 898.8 1404.5 916.8 1379.1 916.5zM1422.9 898.8 1442.2 898.7 1443.5 916.7 1424.2 916.8zM1442.2 898.7 1459.6 898.1 1460.8 916.2 1443.5 916.7zM1459.6 898.1 1477.6 897.5 1478.6 915.7 1460.8 916.2zM1477.6 897.5 1495.5 896.7 1496.4 914.9 1478.6 915.7zM1495.5 896.7 1526.4 895.2 1527.3 913.6 1496.4 914.9zM1526.4 895.2 1554.1 893.9 1555.1 912.5 1527.3 913.6zM1355.3 916.1 1379.1 916.5 1380.3 933.6 1356.5 933.2zM1404.5 916.8 1424.2 916.8 1425.4 933.8 1405.7 933.8zM1424.2 916.8 1443.5 916.7 1444.6 933.7 1425.4 933.8zM1405.7 933.8 1425.4 933.8 1426.8 953.2 1407.1 953.2zM1428.1 972.2 1447.2 972.1 1448.4 990.6 1429.5 990.7zM1651.7 969.2 1683.6 969.2 1684.7 988.4 1652.8 988.4zM1652.8 988.4 1684.7 988.4 1685.7 1008.1 1653.8 1008.1zM1412 1021.9 1431.7 1021.9 1432.6 1034.2 1412.9 1034.2zM1431.7 1021.9 1450.5 1021.9 1451.4 1034.2 1432.6 1034.2zM1622.6 1020.9 1654.5 1020.9 1655.2 1033.7 1623.3 1033.7zM1623.3 1033.7 1655.2 1033.7 1655.9 1047.5 1624 1047.5z" fill="#3d65b1"/>
<path d="M1305.7 876.4 1329.2 877.2 1330.6 897.3 1307.1 896.7zM1403.2 898.8 1422.9 898.8 1424.2 916.8 1404.5 916.8zM1554.1 893.9 1584.4 893.2 1585.4 911.8 1555.1 912.5zM1584.4 893.2 1615.7 892.8 1616.7 911.5 1585.4 911.8zM1615.7 892.8 1647.6 892.8 1648.6 911.5 1616.7 911.5zM1649.6 929.3 1681.4 929.3 1682.5 949.5 1650.7 949.5zM1407.1 953.2 1426.8 953.2 1428.1 972.2 1408.4 972.2zM1650.7 949.5 1682.5 949.5 1683.6 969.2 1651.7 969.2zM1429.5 990.7 1448.4 990.6 1449.7 1009.5 1430.8 1009.6zM1621.9 1008.1 1653.8 1008.1 1654.5 1020.9 1622.6 1020.9z" fill="#3e6ab4"/>
<path d="M1352.6 877.9 1376.4 878.4 1377.8 898.4 1354 898zM1421.5 878.9 1440.9 878.9 1442.2 898.7 1422.9 898.8zM1440.9 878.9 1458.4 878.2 1459.6 898.1 1442.2 898.7zM1458.4 878.2 1476.4 877.5 1477.6 897.5 1459.6 898.1zM1476.4 877.5 1494.4 876.6 1495.5 896.7 1477.6 897.5zM1494.4 876.6 1525.3 874.9 1526.4 895.2 1495.5 896.7zM1525.3 874.9 1553 873.5 1554.1 893.9 1526.4 895.2zM1408.4 972.2 1428.1 972.2 1429.5 990.7 1409.8 990.7zM1683.6 969.2 1717.6 969.2 1718.7 988.4 1684.7 988.4zM1411.1 1009.6 1430.8 1009.6 1431.7 1021.9 1412 1021.9zM1430.8 1009.6 1449.7 1009.5 1450.5 1021.9 1431.7 1021.9zM1654.5 1020.9 1686.4 1020.9 1687.1 1033.7 1655.2 1033.7zM1686.4 1020.9 1720.5 1020.9 1721.2 1033.7 1687.1 1033.7zM1720.5 1020.9 1755.6 1020.9 1756.3 1033.7 1721.2 1033.7zM1755.6 1020.9 1791.2 1020.9 1791.9 1033.7 1756.3 1033.7zM1655.2 1033.7 1687.1 1033.7 1687.9 1047.5 1655.9 1047.5zM1687.1 1033.7 1721.2 1033.7 1721.9 1047.5 1687.9 1047.5zM1721.2 1033.7 1756.3 1033.7 1757 1047.5 1721.9 1047.5zM1756.3 1033.7 1791.9 1033.7 1792.7 1047.5 1757 1047.5z" fill="#4070b8"/>
<path d="M1280.8 857.1 1304.4 858.1 1305.7 876.4 1282 875.5zM1233.3 873.5 1258.5 874.5 1259.9 895 1234.7 894zM1376.4 878.4 1401.8 878.9 1403.2 898.8 1377.8 898.4zM1401.8 878.9 1421.5 878.9 1422.9 898.8 1403.2 898.8zM1553 873.5 1583.3 872.5 1584.4 893.2 1554.1 893.9zM1583.3 872.5 1614.6 872.1 1615.7 892.8 1584.4 893.2zM1259.9 895 1283.4 895.8 1284.7 914.2 1261.1 913.5zM1283.4 895.8 1307.1 896.7 1308.4 914.9 1284.7 914.2zM1284.7 914.2 1308.4 914.9 1309.6 932.3 1285.9 931.7zM1308.4 914.9 1331.9 915.5 1333.1 932.8 1309.6 932.3zM1379.1 916.5 1404.5 916.8 1405.7 933.8 1380.3 933.6zM1648.6 911.5 1680.5 911.5 1681.4 929.3 1649.6 929.3zM1309.6 932.3 1333.1 932.8 1334.4 952.4 1311 952zM1681.4 929.3 1715.5 929.2 1716.6 949.4 1682.5 949.5zM1334.4 952.4 1357.9 952.8 1359.3 971.8 1335.8 971.5zM1359.3 971.8 1383.1 972.1 1384.4 990.6 1360.6 990.4zM1653.8 1008.1 1685.7 1008.1 1686.4 1020.9 1654.5 1020.9zM1685.7 1008.1 1719.8 1008.1 1720.5 1020.9 1686.4 1020.9zM1719.8 1008.1 1754.9 1008.1 1755.6 1020.9 1720.5 1020.9zM1754.9 1008.1 1790.6 1008.1 1791.2 1020.9 1755.6 1020.9zM1791.2 1020.9 1826.4 1020.9 1827.1 1033.7 1791.9 1033.7zM1826.4 1020.9 1863.6 1020.9 1864.3 1033.7 1827.1 1033.7zM1863.6 1020.9 1900.6 1020.9 1901.3 1033.7 1864.3 1033.7zM1791.9 1033.7 1827.1 1033.7 1827.8 1047.5 1792.7 1047.5zM1827.1 1033.7 1864.3 1033.7 1865 1047.5 1827.8 1047.5zM1864.3 1033.7 1901.3 1033.7 1902 1047.5 1865 1047.5z" fill="#427abe"/>
<path d="M1207.5 853.7 1232 854.8 1233.3 873.5 1208.8 872.4zM1327.9 858.9 1351.4 859.8 1352.6 877.9 1329.2 877.2zM1258.5 874.5 1282 875.5 1283.4 895.8 1259.9 895zM1614.6 872.1 1646.5 872.1 1647.6 892.8 1615.7 892.8zM1354 898 1377.8 898.4 1379.1 916.5 1355.3 916.1zM1647.6 892.8 1679.5 892.8 1680.5 911.5 1648.6 911.5zM1333.1 932.8 1356.5 933.2 1357.9 952.8 1334.4 952.4zM1357.9 952.8 1381.7 953.1 1383.1 972.1 1359.3 971.8zM1682.5 949.5 1716.6 949.4 1717.6 969.2 1683.6 969.2zM1383.1 972.1 1408.4 972.2 1409.8 990.7 1384.4 990.6zM1717.6 969.2 1752.8 969.2 1753.8 988.4 1718.7 988.4zM1384.4 990.6 1409.8 990.7 1411.1 1009.6 1385.7 1009.5zM1409.8 990.7 1429.5 990.7 1430.8 1009.6 1411.1 1009.6zM1684.7 988.4 1718.7 988.4 1719.8 1008.1 1685.7 1008.1zM1718.7 988.4 1753.8 988.4 1754.9 1008.1 1719.8 1008.1zM1753.8 988.4 1789.5 988.4 1790.6 1008.1 1754.9 1008.1zM1790.6 1008.1 1825.7 1008.1 1826.4 1020.9 1791.2 1020.9zM1825.7 1008.1 1862.9 1008.1 1863.6 1020.9 1826.4 1020.9zM1862.9 1008.1 1900 1008.1 1900.6 1020.9 1863.6 1020.9zM1900.6 1020.9 1939.8 1020.9 1940.4 1033.7 1901.3 1033.7zM1901.3 1033.7 1940.4 1033.7 1941 1047.5 1902 1047.5z" fill="#4383c5"/>
<path d="M1232 854.8 1257.2 856 1258.5 874.5 1233.3 873.5zM1351.4 859.8 1375.1 860.4 1376.4 878.4 1352.6 877.9zM1400.5 860.9 1420.2 860.9 1421.5 878.9 1401.8 878.9zM1420.2 860.9 1439.7 860.9 1440.9 878.9 1421.5 878.9zM1439.7 860.9 1457.3 860.2 1458.4 878.2 1440.9 878.9zM1457.3 860.2 1475.3 859.4 1476.4 877.5 1458.4 878.2zM1475.3 859.4 1493.4 858.4 1494.4 876.6 1476.4 877.5zM1329.2 877.2 1352.6 877.9 1354 898 1330.6 897.3zM1715.5 929.2 1750.6 929.2 1751.7 949.4 1716.6 949.4zM1716.6 949.4 1751.7 949.4 1752.8 969.2 1717.6 969.2zM1752.8 969.2 1788.5 969.1 1789.5 988.4 1753.8 988.4zM1789.5 988.4 1824.7 988.4 1825.7 1008.1 1790.6 1008.1zM1824.7 988.4 1861.9 988.4 1862.9 1008.1 1825.7 1008.1zM1861.9 988.4 1898.9 988.4 1900 1008.1 1862.9 1008.1zM1900 1008.1 1939.2 1008.1 1939.8 1020.9 1900.6 1020.9z" fill="#448ccc"/>
<path d="M1255.9 836.5 1279.4 837.7 1280.8 857.1 1257.2 856zM1552.1 854.9 1582.3 853.9 1583.3 872.5 1553 873.5zM1208.8 872.4 1233.3 873.5 1234.7 894 1210.2 893.1zM1234.7 894 1259.9 895 1261.1 913.5 1235.9 912.7zM1307.1 896.7 1330.6 897.3 1331.9 915.5 1308.4 914.9zM1261.1 913.5 1284.7 914.2 1285.9 931.7 1262.3 931zM1331.9 915.5 1355.3 916.1 1356.5 933.2 1333.1 932.8zM1680.5 911.5 1714.5 911.5 1715.5 929.2 1681.4 929.3zM1285.9 931.7 1309.6 932.3 1311 952 1287.3 951.5zM1356.5 933.2 1380.3 933.6 1381.7 953.1 1357.9 952.8zM1750.6 929.2 1786.3 929.2 1787.4 949.4 1751.7 949.4zM1381.7 953.1 1407.1 953.2 1408.4 972.2 1383.1 972.1zM1788.5 969.1 1823.7 969.1 1824.7 988.4 1789.5 988.4zM1898.9 988.4 1938.3 988.3 1939.2 1008.1 1900 1008.1zM1939.2 1008.1 1979.5 1008.1 1980 1020.9 1939.8 1020.9zM1939.8 1020.9 1980 1020.9 1980.5 1033.7 1940.4 1033.7zM1940.4 1033.7 1980.5 1033.7 1981 1047.5 1941 1047.5z" fill="#4696d2"/>
<path d="M1184.1 852.2 1207.5 853.7 1208.8 872.4 1185.3 871.1zM1304.4 858.1 1327.9 858.9 1329.2 877.2 1305.7 876.4zM1524.3 856.5 1552.1 854.9 1553 873.5 1525.3 874.9zM1282 875.5 1305.7 876.4 1307.1 896.7 1283.4 895.8zM1751.7 949.4 1787.4 949.4 1788.5 969.1 1752.8 969.2zM1823.7 969.1 1860.9 969.1 1861.9 988.4 1824.7 988.4zM1938.3 988.3 1978.7 988.3 1979.5 1008.1 1939.2 1008.1z" fill="#419fd9"/>
<path d="M1303.1 838.9 1326.6 839.8 1327.9 858.9 1304.4 858.1zM1373.8 841.3 1399.2 841.9 1400.5 860.9 1375.1 860.4zM1474.2 840.4 1492.4 839.3 1493.4 858.4 1475.3 859.4zM1257.2 856 1280.8 857.1 1282 875.5 1258.5 874.5zM1375.1 860.4 1400.5 860.9 1401.8 878.9 1376.4 878.4zM1582.3 853.9 1613.6 853.4 1614.6 872.1 1583.3 872.5zM1646.5 872.1 1678.3 872.1 1679.5 892.8 1647.6 892.8zM1679.5 892.8 1713.5 892.8 1714.5 911.5 1680.5 911.5zM1714.5 911.5 1749.6 911.5 1750.6 929.2 1715.5 929.2zM1786.3 929.2 1821.6 929.2 1822.6 949.4 1787.4 949.4zM1787.4 949.4 1822.6 949.4 1823.7 969.1 1788.5 969.1zM1860.9 969.1 1898 969.1 1898.9 988.4 1861.9 988.4zM1898 969.1 1937.4 969.1 1938.3 988.3 1898.9 988.4zM1979.5 1008.1 2019.6 1008.1 2020.1 1020.9 1980 1020.9zM1980 1020.9 2020.1 1020.9 2020.5 1033.7 1980.5 1033.7zM1980.5 1033.7 2020.5 1033.7 2021 1047.5 1981 1047.5z" fill="#3ca8e0"/>
<path d="M1326.6 839.8 1350 840.6 1351.4 859.8 1327.9 858.9zM2019.6 1008.1 2060.5 1008.1 2060.9 1020.9 2020.1 1020.9zM2020.1 1020.9 2060.9 1020.9 2061.3 1033.7 2020.5 1033.7zM2060.9 1020.9 2102.2 1020.9 2102.6 1033.7 2061.3 1033.7zM2020.5 1033.7 2061.3 1033.7 2061.7 1047.5 2021 1047.5zM2061.3 1033.7 2102.6 1033.7 2103 1047.5 2061.7 1047.5zM2102.6 1033.7 2145.1 1033.7 2145.5 1047.5 2103 1047.5z" fill="#37b2e7"/>
<path d="M1204.9 814.2 1229.3 815.6 1230.7 835.2 1206.2 833.9zM1229.3 815.6 1254.5 817 1255.9 836.5 1230.7 835.2zM1254.5 817 1278.1 818.3 1279.4 837.7 1255.9 836.5zM1278.1 818.3 1301.8 819.6 1303.1 838.9 1279.4 837.7zM1301.8 819.6 1325.2 820.6 1326.6 839.8 1303.1 838.9zM1325.2 820.6 1348.7 821.5 1350 840.6 1326.6 839.8zM1348.7 821.5 1372.5 822.3 1373.8 841.3 1350 840.6zM1372.5 822.3 1397.8 822.9 1399.2 841.9 1373.8 841.3zM1397.8 822.9 1417.5 823 1418.9 841.9 1399.2 841.9zM1417.5 823 1437.1 823 1438.4 841.9 1418.9 841.9zM1437.1 823 1454.9 822.3 1456.1 841.2 1438.4 841.9zM1454.9 822.3 1473.1 821.3 1474.2 840.4 1456.1 841.2zM1473.1 821.3 1491.4 820.1 1492.4 839.3 1474.2 840.4zM1399.2 841.9 1418.9 841.9 1420.2 860.9 1400.5 860.9zM1418.9 841.9 1438.4 841.9 1439.7 860.9 1420.2 860.9zM1438.4 841.9 1456.1 841.2 1457.3 860.2 1439.7 860.9zM1456.1 841.2 1474.2 840.4 1475.3 859.4 1457.3 860.2zM1749.6 911.5 1785.4 911.5 1786.3 929.2 1750.6 929.2zM1821.6 929.2 1858.8 929.2 1859.9 949.4 1822.6 949.4zM1858.8 929.2 1895.9 929.2 1896.9 949.4 1859.9 949.4zM1822.6 949.4 1859.9 949.4 1860.9 969.1 1823.7 969.1zM1937.4 969.1 1977.9 969.1 1978.7 988.3 1938.3 988.3zM1978.7 988.3 2019 988.3 2019.6 1008.1 1979.5 1008.1zM2102.2 1020.9 2144.8 1020.9 2145.1 1033.7 2102.6 1033.7zM2145.1 1033.7 2189.3 1033.7 2189.6 1047.5 2145.5 1047.5z" fill="#32bbee"/>
<path d="M1230.7 835.2 1255.9 836.5 1257.2 856 1232 854.8zM1279.4 837.7 1303.1 838.9 1304.4 858.1 1280.8 857.1zM1523.3 837.2 1551 835.4 1552.1 854.9 1524.3 856.5zM1551 835.4 1581.3 834.3 1582.3 853.9 1552.1 854.9zM1493.4 858.4 1524.3 856.5 1525.3 874.9 1494.4 876.6zM1613.6 853.4 1645.5 853.4 1646.5 872.1 1614.6 872.1zM1678.3 872.1 1712.3 872.1 1713.5 892.8 1679.5 892.8zM1713.5 892.8 1748.6 892.8 1749.6 911.5 1714.5 911.5zM1785.4 911.5 1820.6 911.5 1821.6 929.2 1786.3 929.2zM1895.9 929.2 1935.6 929.2 1936.5 949.4 1896.9 949.4zM2019 988.3 2060 988.3 2060.5 1008.1 2019.6 1008.1zM2060.5 1008.1 2101.9 1008.1 2102.2 1020.9 2060.9 1020.9zM2144.8 1020.9 2188.9 1021 2189.3 1033.7 2145.1 1033.7zM2189.3 1033.7 2237.6 1033.8 2237.9 1047.5 2189.6 1047.5z" fill="#3dbfec"/>
<path d="M1491.4 820.1 1522.3 817.8 1523.3 837.2 1492.4 839.3zM1492.4 839.3 1523.3 837.2 1524.3 856.5 1493.4 858.4zM1581.3 834.3 1612.6 833.7 1613.6 853.4 1582.3 853.9zM1712.3 872.1 1747.5 872.1 1748.6 892.8 1713.5 892.8zM1748.6 892.8 1784.4 892.8 1785.4 911.5 1749.6 911.5zM1820.6 911.5 1857.9 911.5 1858.8 929.2 1821.6 929.2zM1935.6 929.2 1976.4 929.2 1977.2 949.4 1936.5 949.4zM1859.9 949.4 1896.9 949.4 1898 969.1 1860.9 969.1zM1896.9 949.4 1936.5 949.4 1937.4 969.1 1898 969.1zM1977.9 969.1 2018.3 969.1 2019 988.3 1978.7 988.3zM2018.3 969.1 2059.4 969.1 2060 988.3 2019 988.3zM2060 988.3 2101.3 988.4 2101.9 1008.1 2060.5 1008.1zM2101.9 1008.1 2144.4 1008.1 2144.8 1020.9 2102.2 1020.9zM2188.9 1021 2237.2 1021 2237.6 1033.8 2189.3 1033.7zM2237.6 1033.8 2284.8 1033.8 2285.1 1047.5 2237.9 1047.5zM2284.8 1033.8 2332.1 1033.8 2332.3 1047.5 2285.1 1047.5z" fill="#49c4eb"/>
<path d="M1350 840.6 1373.8 841.3 1375.1 860.4 1351.4 859.8zM1645.5 853.4 1677.3 853.4 1678.3 872.1 1646.5 872.1zM1784.4 892.8 1819.6 892.8 1820.6 911.5 1785.4 911.5zM1857.9 911.5 1895 911.5 1895.9 929.2 1858.8 929.2zM1976.4 929.2 2016.9 929.2 2017.6 949.4 1977.2 949.4zM1936.5 949.4 1977.2 949.4 1977.9 969.1 1937.4 969.1zM2101.3 988.4 2143.9 988.4 2144.4 1008.1 2101.9 1008.1zM2144.4 1008.1 2188.6 1008.2 2188.9 1021 2144.8 1020.9zM2237.2 1021 2284.5 1021 2284.8 1033.8 2237.6 1033.8zM2332.1 1033.8 2381.9 1033.8 2382.1 1047.5 2332.3 1047.5z" fill="#55c8ea"/>
<path d="M1522.3 817.8 1550 816 1551 835.4 1523.3 837.2zM1612.6 833.7 1644.4 833.7 1645.5 853.4 1613.6 853.4zM1677.3 853.4 1711.3 853.4 1712.3 872.1 1678.3 872.1zM1747.5 872.1 1783.3 872.1 1784.4 892.8 1748.6 892.8zM1819.6 892.8 1856.9 892.7 1857.9 911.5 1820.6 911.5zM1895 911.5 1934.7 911.5 1935.6 929.2 1895.9 929.2zM1934.7 911.5 1975.7 911.4 1976.4 929.2 1935.6 929.2zM1977.2 949.4 2017.6 949.4 2018.3 969.1 1977.9 969.1zM2017.6 949.4 2058.8 949.4 2059.4 969.1 2018.3 969.1zM2059.4 969.1 2100.8 969.2 2101.3 988.4 2060 988.3zM2143.9 988.4 2188.1 988.5 2188.6 1008.2 2144.4 1008.1zM2188.6 1008.2 2236.9 1008.2 2237.2 1021 2188.9 1021zM2284.5 1021 2331.8 1021.1 2332.1 1033.8 2284.8 1033.8zM2331.8 1021.1 2381.7 1021.1 2381.9 1033.8 2332.1 1033.8zM2381.9 1033.8 2433.8 1033.8 2434 1047.5 2382.1 1047.5zM2433.8 1033.8 2486.2 1033.8 2486.3 1047.5 2434 1047.5zM2486.2 1033.8 2538.6 1033.9 2538.7 1047.5 2486.3 1047.5z" fill="#60cce8"/>
<path d="M1550 816 1580.3 814.6 1581.3 834.3 1551 835.4zM1783.3 872.1 1818.5 872.1 1819.6 892.8 1784.4 892.8zM1856.9 892.7 1894 892.7 1895 911.5 1857.9 911.5zM2016.9 929.2 2058.2 929.2 2058.8 949.4 2017.6 949.4zM2100.8 969.2 2143.4 969.3 2143.9 988.4 2101.3 988.4zM2188.1 988.5 2236.4 988.6 2236.9 1008.2 2188.6 1008.2zM2236.9 1008.2 2284.3 1008.3 2284.5 1021 2237.2 1021zM2284.3 1008.3 2331.6 1008.3 2331.8 1021.1 2284.5 1021zM2381.7 1021.1 2433.6 1021.1 2433.8 1033.8 2381.9 1033.8zM2433.6 1021.1 2486.1 1021.2 2486.2 1033.8 2433.8 1033.8zM2486.1 1021.2 2538.5 1021.2 2538.6 1033.9 2486.2 1033.8zM2538.6 1033.9 2592 1033.9 2592.1 1047.5 2538.7 1047.5zM2592 1033.9 2648.5 1033.9 2648.5 1047.5 2592.1 1047.5zM2648.5 1033.9 2705 1033.9 2705 1047.5 2648.5 1047.5zM2705 1033.9 2764.1 1033.9 2764 1047.5 2705 1047.5z" fill="#63cce0"/>
<path d="M1580.3 814.6 1611.5 814 1612.6 833.7 1581.3 834.3zM1644.4 833.7 1676.2 833.7 1677.3 853.4 1645.5 853.4zM1711.3 853.4 1746.5 853.4 1747.5 872.1 1712.3 872.1zM1894 892.7 1933.9 892.7 1934.7 911.5 1895 911.5zM1975.7 911.4 2016.3 911.4 2016.9 929.2 1976.4 929.2zM2058.8 949.4 2100.2 949.5 2100.8 969.2 2059.4 969.1zM2143.4 969.3 2187.6 969.3 2188.1 988.5 2143.9 988.4zM2236.4 988.6 2283.9 988.7 2284.3 1008.3 2236.9 1008.2zM2283.9 988.7 2331.3 988.7 2331.6 1008.3 2284.3 1008.3zM2331.6 1008.3 2381.5 1008.4 2381.7 1021.1 2331.8 1021.1zM2381.5 1008.4 2433.5 1008.4 2433.6 1021.1 2381.7 1021.1zM2538.5 1021.2 2592 1021.2 2592 1033.9 2538.6 1033.9zM2592 1021.2 2648.5 1021.3 2648.5 1033.9 2592 1033.9zM2648.5 1021.3 2705.1 1021.3 2705 1033.9 2648.5 1033.9zM2705.1 1021.3 2764.2 1021.4 2764.1 1033.9 2705 1033.9z" fill="#66cbd9"/>
<path d="M1746.5 853.4 1782.3 853.3 1783.3 872.1 1747.5 872.1zM1818.5 872.1 1855.8 872 1856.9 892.7 1819.6 892.8zM1933.9 892.7 1974.9 892.7 1975.7 911.4 1934.7 911.5zM2016.3 911.4 2057.7 911.4 2058.2 929.2 2016.9 929.2zM2058.2 929.2 2099.7 929.3 2100.2 949.5 2058.8 949.4zM2100.2 949.5 2142.8 949.6 2143.4 969.3 2100.8 969.2zM2187.6 969.3 2236 969.4 2236.4 988.6 2188.1 988.5zM2331.3 988.7 2381.2 988.8 2381.5 1008.4 2331.6 1008.3zM2433.5 1008.4 2486 1008.5 2486.1 1021.2 2433.6 1021.1zM2486 1008.5 2538.5 1008.5 2538.5 1021.2 2486.1 1021.2zM2538.5 1008.5 2592 1008.6 2592 1021.2 2538.5 1021.2z" fill="#69cbd1"/>
<path d="M1611.5 814 1643.3 814 1644.4 833.7 1612.6 833.7zM1676.2 833.7 1710.2 833.7 1711.3 853.4 1677.3 853.4zM1782.3 853.3 1817.5 853.3 1818.5 872.1 1783.3 872.1zM1855.8 872 1892.9 872 1894 892.7 1856.9 892.7zM1892.9 872 1932.9 872 1933.9 892.7 1894 892.7zM1974.9 892.7 2015.7 892.7 2016.3 911.4 1975.7 911.4zM2142.8 949.6 2187.1 949.7 2187.6 969.3 2143.4 969.3zM2236 969.4 2283.4 969.5 2283.9 988.7 2236.4 988.6zM2381.2 988.8 2433.3 988.9 2433.5 1008.4 2381.5 1008.4zM2433.3 988.9 2485.8 989 2486 1008.5 2433.5 1008.4zM2592 1008.6 2648.6 1008.6 2648.5 1021.3 2592 1021.2zM2648.6 1008.6 2705.1 1008.7 2705.1 1021.3 2648.5 1021.3zM2705.1 1008.7 2764.3 1008.8 2764.2 1021.4 2705.1 1021.3z" fill="#6ccbc9"/>
<path d="M1643.3 814 1675.2 814 1676.2 833.7 1644.4 833.7zM1932.9 872 1974.1 872 1974.9 892.7 1933.9 892.7zM2057.7 911.4 2099.2 911.5 2099.7 929.3 2058.2 929.2zM2099.7 929.3 2142.3 929.4 2142.8 949.6 2100.2 949.5zM2187.1 949.7 2235.5 949.8 2236 969.4 2187.6 969.3zM2283.4 969.5 2330.9 969.6 2331.3 988.7 2283.9 988.7zM2330.9 969.6 2380.9 969.7 2381.2 988.8 2331.3 988.7zM2485.8 989 2538.4 989.1 2538.5 1008.5 2486 1008.5zM2538.4 989.1 2591.9 989.1 2592 1008.6 2538.5 1008.5z" fill="#6fcac2"/>
<path d="M1675.2 814 1709.1 814 1710.2 833.7 1676.2 833.7zM1710.2 833.7 1745.4 833.6 1746.5 853.4 1711.3 853.4zM1817.5 853.3 1854.9 853.3 1855.8 872 1818.5 872.1zM2015.7 892.7 2057.1 892.7 2057.7 911.4 2016.3 911.4zM2142.3 929.4 2186.5 929.5 2187.1 949.7 2142.8 949.6zM2235.5 949.8 2283 949.9 2283.4 969.5 2236 969.4zM2283 949.9 2330.5 950 2330.9 969.6 2283.4 969.5zM2380.9 969.7 2433 969.8 2433.3 988.9 2381.2 988.8zM2433 969.8 2485.6 970 2485.8 989 2433.3 988.9zM2591.9 989.1 2648.6 989.2 2648.6 1008.6 2592 1008.6zM2648.6 989.2 2705.2 989.3 2705.1 1008.7 2648.6 1008.6zM2705.2 989.3 2764.4 989.4 2764.3 1008.8 2705.1 1008.7z" fill="#72caba"/>
<path d="M1745.4 833.6 1781.2 833.6 1782.3 853.3 1746.5 853.4zM1854.9 853.3 1892 853.3 1892.9 872 1855.8 872zM1892 853.3 1932.1 853.3 1932.9 872 1892.9 872zM1974.1 872 2015 872 2015.7 892.7 1974.9 892.7zM2057.1 892.7 2098.6 892.8 2099.2 911.5 2057.7 911.4zM2099.2 911.5 2141.8 911.7 2142.3 929.4 2099.7 929.3zM2186.5 929.5 2235 929.7 2235.5 949.8 2187.1 949.7zM2235 929.7 2282.6 929.8 2283 949.9 2235.5 949.8zM2330.5 950 2380.6 950.2 2380.9 969.7 2330.9 969.6zM2380.6 950.2 2432.8 950.3 2433 969.8 2380.9 969.7zM2485.6 970 2538.2 970.1 2538.4 989.1 2485.8 989z" fill="#71c9af"/>
<path d="M1709.1 814 1744.4 813.9 1745.4 833.6 1710.2 833.7zM1781.2 833.6 1816.5 833.6 1817.5 853.3 1782.3 853.3zM1932.1 853.3 1973.4 853.3 1974.1 872 1932.9 872zM2015 872 2056.5 872 2057.1 892.7 2015.7 892.7zM2098.6 892.8 2141.3 893 2141.8 911.7 2099.2 911.5zM2141.8 911.7 2186.1 911.8 2186.5 929.5 2142.3 929.4zM2282.6 929.8 2330.2 930 2330.5 950 2283 949.9zM2432.8 950.3 2485.5 950.4 2485.6 970 2433 969.8zM2538.2 970.1 2591.9 970.2 2591.9 989.1 2538.4 989.1zM2591.9 970.2 2648.6 970.3 2648.6 989.2 2591.9 989.1z" fill="#70c7a4"/>
<path d="M1816.5 833.6 1853.8 833.6 1854.9 853.3 1817.5 853.3zM2186.1 911.8 2234.6 912 2235 929.7 2186.5 929.5zM2330.2 930 2380.3 930.1 2380.6 950.2 2330.5 950zM2380.3 930.1 2432.6 930.3 2432.8 950.3 2380.6 950.2zM2485.5 950.4 2538.1 950.6 2538.2 970.1 2485.6 970zM2538.1 950.6 2591.8 950.7 2591.9 970.2 2538.2 970.1zM2648.6 970.3 2705.3 970.4 2705.2 989.3 2648.6 989.2zM2705.3 970.4 2764.5 970.5 2764.4 989.4 2705.2 989.3z" fill="#6ec69a"/>
<path d="M1744.4 813.9 1780.2 813.9 1781.2 833.6 1745.4 833.6zM1853.8 833.6 1891 833.6 1892 853.3 1854.9 853.3zM1973.4 853.3 2014.3 853.3 2015 872 1974.1 872zM2056.5 872 2098 872.1 2098.6 892.8 2057.1 892.7zM2141.3 893 2185.6 893.1 2186.1 911.8 2141.8 911.7zM2234.6 912 2282.2 912.2 2282.6 929.8 2235 929.7zM2282.2 912.2 2329.9 912.3 2330.2 930 2282.6 929.8zM2432.6 930.3 2485.3 930.4 2485.5 950.4 2432.8 950.3zM2591.8 950.7 2648.6 950.9 2648.6 970.3 2591.9 970.2z" fill="#6dc48f"/>
<path d="M1891 833.6 1931.1 833.6 1932.1 853.3 1892 853.3zM2185.6 893.1 2234.1 893.3 2234.6 912 2186.1 911.8zM2329.9 912.3 2380.1 912.5 2380.3 930.1 2330.2 930zM2485.3 930.4 2538 930.6 2538.1 950.6 2485.5 950.4zM2538 930.6 2591.8 930.8 2591.8 950.7 2538.1 950.6zM2648.6 950.9 2705.4 951 2705.3 970.4 2648.6 970.3zM2705.4 951 2764.7 951.1 2764.5 970.5 2705.3 970.4z" fill="#6cc384"/>
<path d="M2014.3 853.3 2056 853.2 2056.5 872 2015 872zM2098 872.1 2140.7 872.3 2141.3 893 2098.6 892.8zM2234.1 893.3 2281.8 893.5 2282.2 912.2 2234.6 912zM2380.1 912.5 2432.4 912.7 2432.6 930.3 2380.3 930.1zM2591.8 930.8 2648.6 930.9 2648.6 950.9 2591.8 950.7z" fill="#6bc176"/>
<path d="M1780.2 813.9 1815.5 813.9 1816.5 833.6 1781.2 833.6zM1931.1 833.6 1972.6 833.6 1973.4 853.3 1932.1 853.3zM2281.8 893.5 2329.5 893.7 2329.9 912.3 2282.2 912.2zM2432.4 912.7 2485.1 912.9 2485.3 930.4 2432.6 930.3z" fill="#6bc068"/>
<path d="M2056 853.2 2097.5 853.4 2098 872.1 2056.5 872zM2140.7 872.3 2185 872.5 2185.6 893.1 2141.3 893zM2485.1 912.9 2537.9 913.1 2538 930.6 2485.3 930.4zM2648.6 930.9 2705.4 931.1 2705.4 951 2648.6 950.9z" fill="#6abe5b"/>
<path d="M1815.5 813.9 1852.8 813.9 1853.8 833.6 1816.5 833.6zM2329.5 893.7 2379.8 893.9 2380.1 912.5 2329.9 912.3zM2537.9 913.1 2591.8 913.3 2591.8 930.8 2538 930.6z" fill="#6abd4d"/>
<path d="M1852.8 813.9 1889.9 813.9 1891 833.6 1853.8 833.6zM1972.6 833.6 2013.6 833.5 2014.3 853.3 1973.4 853.3zM2097.5 853.4 2140.2 853.6 2140.7 872.3 2098 872.1zM2185 872.5 2233.6 872.7 2234.1 893.3 2185.6 893.1zM2705.4 931.1 2764.8 931.3 2764.7 951.1 2705.4 951z" fill="#69bb3f"/>
<path d="M1889.9 813.9 1930.2 813.9 1931.1 833.6 1891 833.6zM2591.8 913.3 2648.7 913.5 2648.6 930.9 2591.8 930.8z" fill="#69bb3f"/>
<path d="M1930.2 813.9 1971.8 813.8 1972.6 833.6 1931.1 833.6zM2013.6 833.5 2055.4 833.5 2056 853.2 2014.3 853.3zM2055.4 833.5 2097 833.7 2097.5 853.4 2056 853.2zM2140.2 853.6 2184.5 853.8 2185 872.5 2140.7 872.3zM2184.5 853.8 2233.2 854.1 2233.6 872.7 2185 872.5zM2233.6 872.7 2281.4 872.9 2281.8 893.5 2234.1 893.3zM2281.4 872.9 2329.1 873.2 2329.5 893.7 2281.8 893.5zM2379.8 893.9 2432.1 894.1 2432.4 912.7 2380.1 912.5zM2432.1 894.1 2485 894.3 2485.1 912.9 2432.4 912.7zM2648.7 913.5 2705.5 913.7 2705.4 931.1 2648.6 930.9z" fill="#69bb3f"/>
<path d="M1971.8 813.8 2013 813.8 2013.6 833.5 1972.6 833.6zM2097 833.7 2139.7 833.9 2140.2 853.6 2097.5 853.4zM2139.7 833.9 2184 834.2 2184.5 853.8 2140.2 853.6zM2184 834.2 2232.7 834.4 2233.2 854.1 2184.5 853.8zM2233.2 854.1 2281 854.3 2281.4 872.9 2233.6 872.7zM2281 854.3 2328.8 854.5 2329.1 873.2 2281.4 872.9zM2328.8 854.5 2379.2 854.8 2379.5 873.4 2329.1 873.2zM2329.1 873.2 2379.5 873.4 2379.8 893.9 2329.5 893.7zM2379.5 873.4 2431.9 873.6 2432.1 894.1 2379.8 893.9zM2431.9 873.6 2484.8 873.9 2485 894.3 2432.1 894.1zM2485 894.3 2537.8 894.6 2537.9 913.1 2485.1 912.9zM2537.8 894.6 2591.7 894.8 2591.8 913.3 2537.9 913.1zM2591.7 894.8 2648.7 895 2648.7 913.5 2591.8 913.3zM2705.5 913.7 2764.9 913.9 2764.8 931.3 2705.4 931.1z" fill="#69bb3f"/>
<path d="M2013 813.8 2054.8 813.8 2055.4 833.5 2013.6 833.5zM2232.7 834.4 2280.6 834.7 2281 854.3 2233.2 854.1zM2280.6 834.7 2328.4 835 2328.8 854.5 2281 854.3zM2328.4 835 2378.9 835.2 2379.2 854.8 2328.8 854.5zM2379.2 854.8 2431.7 855.1 2431.9 873.6 2379.5 873.4zM2431.7 855.1 2484.6 855.3 2484.8 873.9 2431.9 873.6zM2484.6 855.3 2537.6 855.6 2537.7 874.1 2484.8 873.9zM2484.8 873.9 2537.7 874.1 2537.8 894.6 2485 894.3zM2537.7 874.1 2591.7 874.3 2591.7 894.8 2537.8 894.6zM2591.7 874.3 2648.7 874.6 2648.7 895 2591.7 894.8zM2648.7 874.6 2705.7 874.9 2705.6 895.2 2648.7 895zM2648.7 895 2705.6 895.2 2705.5 913.7 2648.7 913.5zM2705.6 895.2 2765.1 895.5 2764.9 913.9 2705.5 913.7z" fill="#69bb3f"/>
<path d="M2054.8 813.8 2096.4 814 2097 833.7 2055.4 833.5zM2096.4 814 2139.1 814.2 2139.7 833.9 2097 833.7zM2378.9 835.2 2431.4 835.5 2431.7 855.1 2379.2 854.8zM2431.4 835.5 2484.5 835.8 2484.6 855.3 2431.7 855.1zM2484.5 835.8 2537.5 836.1 2537.6 855.6 2484.6 855.3zM2537.6 855.6 2591.6 855.9 2591.7 874.3 2537.7 874.1zM2591.6 855.9 2648.7 856.2 2648.7 874.6 2591.7 874.3zM2648.7 856.2 2705.7 856.4 2705.7 874.9 2648.7 874.6zM2705.7 874.9 2765.2 875.1 2765.1 895.5 2705.6 895.2z" fill="#69bb3f"/>
<path d="M2139.1 814.2 2183.5 814.5 2184 834.2 2139.7 833.9zM2183.5 814.5 2232.2 814.8 2232.7 834.4 2184 834.2zM2232.2 814.8 2280.1 815.1 2280.6 834.7 2232.7 834.4zM2537.5 836.1 2591.6 836.4 2591.6 855.9 2537.6 855.6zM2591.6 836.4 2648.7 836.7 2648.7 856.2 2591.6 855.9zM2648.7 836.7 2705.8 837 2705.7 856.4 2648.7 856.2zM2705.7 856.4 2765.3 856.7 2765.2 875.1 2705.7 874.9z" fill="#69bb3f"/>
<path d="M2280.1 815.1 2328.1 815.4 2328.4 835 2280.6 834.7zM2328.1 815.4 2378.6 815.7 2378.9 835.2 2328.4 835zM2705.8 837 2765.5 837.4 2765.3 856.7 2705.7 856.4z" fill="#69bb3f"/>
<path d="M2378.6 815.7 2431.2 816 2431.4 835.5 2378.9 835.2zM2431.2 816 2484.3 816.3 2484.5 835.8 2431.4 835.5zM2484.3 816.3 2537.4 816.6 2537.5 836.1 2484.5 835.8z" fill="#69bb3f"/>
<path d="M2537.4 816.6 2591.5 817 2591.6 836.4 2537.5 836.1zM2591.5 817 2648.8 817.3 2648.7 836.7 2591.6 836.4z" fill="#69bb3f"/>
<path d="M2648.8 817.3 2705.9 817.6 2705.8 837 2648.7 836.7z" fill="#69bb3f"/>
<path d="M2705.9 817.6 2765.6 818 2765.5 837.4 2705.8 837z" fill="#77bf3f"/>
</g>
<g class="g"><path d="M738.9 1065.8 2764 1065.8M738.9 1047.5 2764 1047.5"/><path d="M742.7 1047.5 750.7 1065.8 753.1 1085.3M765.5 1047.5 773.5 1065.8 775.9 1085.3M784.5 1047.5 792.5 1065.8 794.9 1085.3M806.2 1047.5 814.2 1065.8 816.6 1085.3M825.1 1047.5 832.7 1065.8 835 1085.3M846.3 1047.5 853.4 1065.8 855.5 1085.3M867.6 1047.5 874 1065.8 876 1085.3M887.8 1047.5 893.7 1065.8 895.4 1085.3M909.7 1047.5 915 1065.8 916.6 1085.3M937.5 1047.5 942.4 1065.8 943.8 1085.3M965.7 1047.5 970.5 1065.8 971.9 1085.3M992.4 1047.5 997 1065.8 998.4 1085.3M1019.1 1047.5 1023.6 1065.8 1024.9 1085.3M1046.3 1047.5 1050.6 1065.8 1051.9 1085.3M1062.3 1047.5 1066.4 1065.8 1067.7 1085.3M1077.7 1047.5 1081.8 1065.8 1083 1085.3M1094.1 1047.5 1098.1 1065.8 1099.3 1085.3M1118.8 1047.5 1122.6 1065.8 1123.7 1085.3M1144.6 1047.5 1148.1 1065.8 1149.2 1085.3M1169.4 1047.5 1172.6 1065.8 1173.6 1085.3M1195.1 1047.5 1198.2 1065.8 1199.1 1085.3M1218.9 1047.5 1221.6 1065.8 1222.5 1085.3M1242.6 1047.5 1245.1 1065.8 1245.9 1085.3M1268 1047.5 1270.4 1065.8 1271 1085.3M1291.9 1047.5 1293.9 1065.8 1294.6 1085.3M1315.8 1047.5 1317.6 1065.8 1318.2 1085.3M1339.6 1047.5 1341.1 1065.8 1341.6 1085.3M1363.4 1047.5 1364.6 1065.8 1365 1085.3M1387.5 1047.5 1388.4 1065.8 1388.7 1085.3M1413.1 1047.5 1413.8 1065.8 1414 1085.3M1433.1 1047.5 1433.5 1065.8 1433.6 1085.3M1452.1 1047.5 1452.2 1065.8 1452.3 1085.3M1469 1047.5 1469 1065.8 1469 1085.3M1486.2 1047.5 1486.2 1065.8 1486.2 1085.3M1503.5 1047.5 1503.5 1065.8 1503.5 1085.3M1534.4 1047.5 1534.4 1065.8 1534.4 1085.3M1562.2 1047.5 1562.2 1065.8 1562.2 1085.3M1592.6 1047.5 1592.6 1065.8 1592.6 1085.3M1624 1047.5 1624 1065.8 1624 1085.3M1655.9 1047.5 1655.9 1065.8 1655.9 1085.3M1687.9 1047.5 1687.9 1065.8 1687.9 1085.3M1721.9 1047.5 1721.9 1065.8 1721.9 1085.3M1757 1047.5 1757 1065.8 1757 1085.3M1792.7 1047.5 1792.7 1065.8 1792.7 1085.3M1827.8 1047.5 1827.8 1065.8 1827.8 1085.3M1865 1047.5 1865 1065.8 1865 1085.3M1902 1047.5 1902 1065.8 1902 1085.3M1941 1047.5 1941 1065.8 1941 1085.3M1981 1047.5 1981 1065.8 1981 1085.3M2021 1047.5 2021 1065.8 2021 1085.3M2061.7 1047.5 2061.7 1065.8 2061.7 1085.3M2103 1047.5 2103 1065.8 2103 1085.3M2145.5 1047.5 2145.5 1065.8 2145.5 1085.3M2189.6 1047.5 2189.6 1065.8 2189.6 1085.3M2237.9 1047.5 2237.9 1065.8 2237.9 1085.3M2285.1 1047.5 2285.1 1065.8 2285.1 1085.3M2332.3 1047.5 2332.3 1065.8 2332.3 1085.3M2382.1 1047.5 2382.1 1065.8 2382.1 1085.3M2434 1047.5 2434 1065.8 2434 1085.3M2486.3 1047.5 2486.3 1065.8 2486.3 1085.3M2538.7 1047.5 2538.7 1065.8 2538.7 1085.3M2592.1 1047.5 2592.1 1065.8 2592.1 1085.3M2648.5 1047.5 2648.5 1065.8 2648.5 1085.3M2705 1047.5 2705 1065.8 2705 1085.3"/></g>
<path class="g g2" d="M57 1046.5 57 1085.3M105.4 1046.5 105.4 1085.3M153.4 1046.5 153.4 1085.3M199.5 1046.5 199.5 1085.3M243.5 1046.5 243.5 1085.3M288.5 1046.5 288.5 1085.3M330.5 1046.5 330.5 1085.3M370.5 1046.5 370.5 1085.3M408.4 1046.5 408.4 1085.3M447.4 1046.5 447.4 1085.3M483.2 1046.5 483.2 1085.3M519.1 1046.5 519.1 1085.3M553.5 1046.5 553.5 1085.3M585.7 1046.5 585.7 1085.3M617.1 1046.5 617.1 1085.3M648.1 1046.5 648.1 1085.3M678 1046.5 678 1085.3M702.6 1046.5 702.6 1085.3M727.1 1046.5 727.1 1085.3M1.5 1065.8 738.9 1065.8"/>
<g class="g" clip-path="url(#cbb)"><path d="M733 1020.5 911.9 1020.5M733 1034 913.1 1034"/><path d="M766.8 1006.5 773.5 1047.5M785.8 1006.5 792.5 1047.5M807.4 1006.5 814.2 1047.5M826 1006.5 832.7 1047.5M846.7 1006.5 853.4 1047.5M867.3 1006.5 874 1047.5M886.9 1006.5 893.7 1047.5"/></g>
<g class="g" clip-path="url(#clb)"><path d="M889.2 768.2 917.9 768.4 946.5 768.6 974.7 768.8 1002.8 769 1030.9 769.4 1046.3 769.9 1062.2 770.4 1078.3 770.9 1103.3 771.6 1128.8 772.4 1153.3 773.2 1178.7 774 1202.2 774.7 1226.7 775.4 1251.9 776.2 1275.4 776.9 1299.1 777.7 1322.5 778.4 1346 779.1 1369.8 779.9 1395.1 780.6 1414.8 781.2 1434.6 781.2 1452.5 780.6M891 788.4 919.6 788.5 948.2 788.7 976.2 788.9 1004.3 789.1 1032.4 789.5 1047.7 790 1063.6 790.4 1079.6 790.9 1104.6 791.6 1130.1 792.3 1154.6 793 1180.1 793.8 1203.5 794.4 1228 795.1 1253.2 795.8 1276.8 796.5 1300.4 797.2 1323.9 797.9 1347.3 798.5 1371.1 799.2 1396.5 799.9 1416.2 800.4 1435.9 800.4 1453.7 799.8M892.8 808.5 921.3 808.7 949.8 808.9 977.8 809 1005.8 809.2 1033.8 809.6 1049.1 810 1064.9 810.5 1080.9 810.9 1105.9 811.5 1131.4 812.2 1155.9 812.9 1181.4 813.5 1204.9 814.2 1229.3 814.8 1254.5 815.5 1278.1 816.1 1301.8 816.7 1325.2 817.3 1348.7 818 1372.5 818.6 1397.8 819.2 1417.5 819.7 1437.1 819.6 1454.9 819M894.7 828.7 923.1 828.9 951.5 829 979.4 829.2 1007.3 829.3 1035.2 829.7 1050.5 830.1 1066.3 830.5 1082.3 830.9 1107.2 831.5 1132.7 832.1 1157.2 832.7 1182.7 833.3 1206.2 833.9 1230.7 834.5 1255.9 835.1 1279.4 835.6 1303.1 836.2 1326.6 836.8 1350 837.4 1373.8 837.9 1399.2 838.5 1418.9 839 1438.4 838.8 1456.1 838.2M896.5 848.9 924.8 849 953.2 849.2 981 849.3 1008.8 849.4 1036.6 849.8 1051.8 850.2 1067.6 850.5 1083.6 850.9 1108.6 851.4 1134.1 852 1158.6 852.5 1184.1 853.1 1207.5 853.6 1232 854.1 1257.2 854.7 1280.8 855.2 1304.4 855.7 1327.9 856.2 1351.4 856.8 1375.1 857.3 1400.5 857.8 1420.2 858.2 1439.7 858 1457.3 857.4M898.2 868 926.5 868.2 954.7 868.3 982.5 868.4 1010.2 868.5 1038 868.9 1053.1 869.2 1068.9 869.5 1084.8 869.9 1109.8 870.4 1135.3 870.9 1159.8 871.4 1185.3 871.9 1208.8 872.3 1233.3 872.8 1258.5 873.3 1282 873.8 1305.7 874.2 1329.2 874.7 1352.6 875.2 1376.4 875.6 1401.8 876.1 1421.5 876.5 1440.9 876.3 1458.4 875.7M900.1 889.2 928.3 889.3 956.5 889.4 984.1 889.6 1011.8 889.7 1039.5 890 1054.6 890.3 1070.3 890.6 1086.2 890.8 1111.2 891.3 1136.7 891.7 1161.2 892.2 1186.7 892.6 1210.2 893 1234.7 893.4 1259.9 893.9 1283.4 894.3 1307.1 894.7 1330.6 895.1 1354 895.5 1377.8 895.9 1403.2 896.4 1422.9 896.7 1442.2 896.4 1459.6 895.9M901.9 909.4 930 909.5 958.1 909.6 985.7 909.7 1013.3 909.8 1040.9 910.1 1056 910.3 1071.6 910.6 1087.5 910.8 1112.5 911.2 1138 911.6 1162.5 912 1188 912.4 1211.5 912.7 1236 913.1 1261.2 913.5 1284.8 913.8 1308.5 914.2 1331.9 914.6 1355.4 914.9 1379.2 915.3 1404.6 915.7 1424.3 915.9 1443.5 915.7 1460.8 915.1M903.5 927.5 931.6 927.6 959.6 927.7 987.1 927.8 1014.6 927.9 1042.2 928.2 1057.2 928.4 1072.8 928.6 1088.7 928.8 1113.7 929.1 1139.2 929.5 1163.7 929.8 1189.2 930.1 1212.7 930.4 1237.2 930.8 1262.4 931.1 1286 931.4 1309.7 931.7 1333.1 932 1356.6 932.3 1380.4 932.7 1405.8 933 1425.5 933.2 1444.7 933 1461.9 932.5M905.3 947.7 933.3 947.8 961.3 947.8 988.7 947.9 1016.1 948 1043.6 948.2 1058.6 948.4 1074.1 948.6 1090 948.8 1115 949 1140.6 949.3 1165.1 949.6 1190.6 949.9 1214 950.1 1238.5 950.4 1263.7 950.7 1287.3 950.9 1311 951.2 1334.5 951.5 1357.9 951.7 1381.7 952 1407.1 952.2 1426.8 952.4 1445.9 952.2 1463.1 951.8M907.1 967.9 935 967.9 962.9 968 990.3 968 1017.6 968.1 1045 968.3 1060 968.4 1075.5 968.6 1091.4 968.7 1116.4 968.9 1141.9 969.2 1166.4 969.4 1191.9 969.6 1215.4 969.8 1239.9 970 1265.1 970.2 1288.7 970.5 1312.3 970.7 1335.8 970.9 1359.3 971.1 1383.1 971.3 1408.5 971.5 1428.2 971.6 1447.2 971.5 1464.3 971.1M909 988 936.8 988.1 964.6 988.1 991.8 988.2 1019.1 988.2 1046.4 988.4 1061.4 988.5 1076.8 988.6 1092.7 988.7 1117.7 988.8 1143.2 989 1167.7 989.2 1193.2 989.3 1216.7 989.5 1241.2 989.6 1266.4 989.8 1290 990 1313.7 990.1 1337.2 990.3 1360.6 990.4 1384.4 990.6 1409.8 990.7 1429.5 990.8 1448.5 990.7 1465.5 990.4M910.7 1007.2 938.4 1007.2 966.1 1007.2 993.3 1007.3 1020.6 1007.3 1047.8 1007.4 1062.7 1007.5 1078.1 1007.6 1093.9 1007.6 1118.9 1007.7 1144.5 1007.8 1169 1008 1194.5 1008.1 1218 1008.2 1242.5 1008.3 1267.7 1008.4 1291.3 1008.5 1314.9 1008.6 1338.4 1008.7 1361.9 1008.8 1385.7 1008.9 1411.1 1009 1430.8 1009.1 1449.7 1009 1466.6 1008.8M911.9 1020.3 939.5 1020.3 967.2 1020.3 994.4 1020.3 1021.5 1020.4 1048.7 1020.4 1063.6 1020.5 1078.9 1020.5 1094.8 1020.6 1119.8 1020.7 1145.3 1020.7 1169.8 1020.8 1195.3 1020.9 1218.8 1021 1243.3 1021 1268.6 1021.1 1292.1 1021.2 1315.8 1021.3 1339.3 1021.3 1362.8 1021.4 1386.6 1021.5 1412 1021.5 1431.7 1021.6 1450.5 1021.5 1467.4 1021.4M913.1 1033.9 940.7 1033.9 968.3 1033.9 995.4 1033.9 1022.5 1033.9 1049.7 1034 1064.5 1034 1079.8 1034 1095.7 1034 1120.7 1034.1 1146.2 1034.1 1170.7 1034.2 1196.2 1034.2 1219.7 1034.2 1244.2 1034.3 1269.5 1034.3 1293 1034.3 1316.7 1034.4 1340.2 1034.4 1363.7 1034.4 1387.5 1034.5 1412.9 1034.5 1432.6 1034.5 1451.4 1034.5 1468.2 1034.4"/><path d="M916 746.2 922.6 822.8 929.5 903.4 935.5 974 941.9 1047.5M944.7 746.4 951 823 957.6 903.5 963.4 974 969.4 1047.5M972.9 746.6 978.9 823.1 985.2 903.6 990.7 974.1 996.5 1047.5M1001.2 746.8 1006.8 823.3 1012.8 903.7 1018.1 974.1 1023.6 1047.5M1029.4 747.3 1034.8 823.7 1040.5 904.1 1045.4 974.3 1050.6 1047.5M1044.8 747.8 1050 824.1 1055.6 904.3 1060.4 974.5 1065.4 1047.5M1060.8 748.3 1065.9 824.5 1071.2 904.6 1075.9 974.6 1080.7 1047.5M1076.9 748.8 1081.9 824.9 1087.1 904.8 1091.8 974.7 1096.6 1047.5M1101.8 749.7 1106.9 825.5 1112.1 905.2 1116.8 974.9 1121.6 1047.5M1127.3 750.5 1132.4 826.1 1137.6 905.6 1142.3 975.1 1147.1 1047.5M1151.8 751.3 1156.8 826.7 1162.1 906 1166.8 975.3 1171.6 1047.5M1177.3 752.2 1182.3 827.4 1187.6 906.4 1192.3 975.5 1197.1 1047.5M1200.7 753 1205.8 828 1211.1 906.8 1215.8 975.7 1220.6 1047.5M1225.2 753.8 1230.3 828.6 1235.6 907.2 1240.3 975.9 1245.1 1047.5M1250.4 754.6 1255.5 829.2 1260.8 907.6 1265.5 976.1 1270.4 1047.5M1273.9 755.4 1279 829.8 1284.4 908 1289.1 976.3 1293.9 1047.5M1297.6 756.2 1302.7 830.4 1308 908.3 1312.7 976.5 1317.6 1047.5M1321 757 1326.1 831 1331.5 908.7 1336.2 976.7 1341.1 1047.5M1344.5 757.8 1349.6 831.5 1355 909.1 1359.7 976.9 1364.6 1047.5M1368.3 758.6 1373.4 832.1 1378.8 909.5 1383.5 977.1 1388.4 1047.5M1393.6 759.4 1398.8 832.8 1404.2 909.9 1408.9 977.3 1413.8 1047.5M1413.3 760 1418.5 833.2 1423.9 910.1 1428.6 977.4 1433.5 1047.5M1433.2 760.1 1438 833 1443.1 909.9 1447.6 977.2 1452.2 1047.5M1451.2 759.5 1455.7 832.4 1460.5 909.4 1464.6 976.9 1469 1047.5"/></g>
<g class="g gc" clip-path="url(#crb)"><path d="M1078.3 769.3 1103.3 769.9 1128.8 771.1 1153.3 772.2 1178.7 773.5 1202.2 774.7 1226.7 775.7 1251.9 776.7 1275.4 777.6 1299.1 778.6 1322.5 779.4 1346 780.3 1369.8 781.1 1395.1 781.8 1414.8 782.3 1434.6 782.3 1452.5 781.6 1470.9 780.2 1489.3 778.7 1520.2 776.2 1547.9 774.4 1578.2 773.5 1609.4 772.9 1641.2 772.7 1673 772.5 1707 772.5 1742.2 772.5 1778.1 774 1813.4 774 1850.7 774 1887.9 774 1928.4 774 1970.3 773.9 2011.6 773.9 2053.6 773.9 2095.3 774 2138 774.1 2182.5 774.2 2231.2 774.5 2279.3 774.8 2327.4 775.1 2378 775.4 2430.7 775.8 2484 776.1 2537.2 776.5 2591.5 776.9 2648.8 777.2 2706 777.6 2765.9 778M1079.6 787.7 1104.6 788.2 1130.1 789.5 1154.6 791 1180.1 792.9 1203.5 794.4 1228 795.6 1253.2 796.8 1276.8 797.9 1300.4 799.1 1323.9 800 1347.3 800.9 1371.1 801.7 1396.5 802.4 1416.2 802.6 1435.9 802.6 1453.7 801.9 1472 800.8 1490.4 799.4 1521.2 797 1549 795.2 1579.2 794.1 1610.5 793.4 1642.3 793.3 1674.1 793.2 1708.1 793.2 1743.3 793.2 1779.1 793.9 1814.4 793.9 1851.8 793.9 1888.9 793.9 1929.3 793.9 1971.1 793.9 2012.3 793.9 2054.2 793.9 2095.8 794 2138.6 794.1 2183 794.3 2231.7 794.6 2279.7 794.9 2327.7 795.2 2378.3 795.6 2431 795.9 2484.1 796.2 2537.3 796.6 2591.5 796.9 2648.8 797.3 2706 797.6 2765.7 798M1080.9 806 1105.9 806.4 1131.4 808.1 1155.9 809.9 1181.4 812.3 1204.9 814.2 1229.3 815.6 1254.5 817 1278.1 818.3 1301.8 819.6 1325.2 820.6 1348.7 821.5 1372.5 822.3 1397.8 822.9 1417.5 823 1437.1 823 1454.9 822.3 1473.1 821.3 1491.4 820.1 1522.3 817.8 1550 816 1580.3 814.6 1611.5 814 1643.3 814 1675.2 814 1709.1 814 1744.4 813.9 1780.2 813.9 1815.5 813.9 1852.8 813.9 1889.9 813.9 1930.2 813.9 1971.8 813.8 2013 813.8 2054.8 813.8 2096.4 814 2139.1 814.2 2183.5 814.5 2232.2 814.8 2280.1 815.1 2328.1 815.4 2378.6 815.7 2431.2 816 2484.3 816.3 2537.4 816.6 2591.5 817 2648.8 817.3 2705.9 817.6 2765.6 818M1082.3 826.4 1107.2 826.8 1132.7 828.3 1157.2 830.1 1182.7 832.2 1206.2 833.9 1230.7 835.2 1255.9 836.5 1279.4 837.7 1303.1 838.9 1326.6 839.8 1350 840.6 1373.8 841.3 1399.2 841.9 1418.9 841.9 1438.4 841.9 1456.1 841.2 1474.2 840.4 1492.4 839.3 1523.3 837.2 1551 835.4 1581.3 834.3 1612.6 833.7 1644.4 833.7 1676.2 833.7 1710.2 833.7 1745.4 833.6 1781.2 833.6 1816.5 833.6 1853.8 833.6 1891 833.6 1931.1 833.6 1972.6 833.6 2013.6 833.5 2055.4 833.5 2097 833.7 2139.7 833.9 2184 834.2 2232.7 834.4 2280.6 834.7 2328.4 835 2378.9 835.2 2431.4 835.5 2484.5 835.8 2537.5 836.1 2591.6 836.4 2648.7 836.7 2705.8 837 2765.5 837.4M1083.6 846.8 1108.6 847.2 1134.1 848.6 1158.6 850.2 1184.1 852.2 1207.5 853.7 1232 854.8 1257.2 856 1280.8 857.1 1304.4 858.1 1327.9 858.9 1351.4 859.8 1375.1 860.4 1400.5 860.9 1420.2 860.9 1439.7 860.9 1457.3 860.2 1475.3 859.4 1493.4 858.4 1524.3 856.5 1552.1 854.9 1582.3 853.9 1613.6 853.4 1645.5 853.4 1677.3 853.4 1711.3 853.4 1746.5 853.4 1782.3 853.3 1817.5 853.3 1854.9 853.3 1892 853.3 1932.1 853.3 1973.4 853.3 2014.3 853.3 2056 853.2 2097.5 853.4 2140.2 853.6 2184.5 853.8 2233.2 854.1 2281 854.3 2328.8 854.5 2379.2 854.8 2431.7 855.1 2484.6 855.3 2537.6 855.6 2591.6 855.9 2648.7 856.2 2705.7 856.4 2765.3 856.7M1084.8 866.1 1109.8 866.6 1135.3 867.9 1159.8 869.3 1185.3 871.1 1208.8 872.4 1233.3 873.5 1258.5 874.5 1282 875.5 1305.7 876.4 1329.2 877.2 1352.6 877.9 1376.4 878.4 1401.8 878.9 1421.5 878.9 1440.9 878.9 1458.4 878.2 1476.4 877.5 1494.4 876.6 1525.3 874.9 1553 873.5 1583.3 872.5 1614.6 872.1 1646.5 872.1 1678.3 872.1 1712.3 872.1 1747.5 872.1 1783.3 872.1 1818.5 872.1 1855.8 872 1892.9 872 1932.9 872 1974.1 872 2015 872 2056.5 872 2098 872.1 2140.7 872.3 2185 872.5 2233.6 872.7 2281.4 872.9 2329.1 873.2 2379.5 873.4 2431.9 873.6 2484.8 873.9 2537.7 874.1 2591.7 874.3 2648.7 874.6 2705.7 874.9 2765.2 875.1M1086.2 887.5 1111.2 888 1136.7 889.1 1161.2 890.4 1186.7 892 1210.2 893.1 1234.7 894 1259.9 895 1283.4 895.8 1307.1 896.7 1330.6 897.3 1354 898 1377.8 898.4 1403.2 898.8 1422.9 898.8 1442.2 898.7 1459.6 898.1 1477.6 897.5 1495.5 896.7 1526.4 895.2 1554.1 893.9 1584.4 893.2 1615.7 892.8 1647.6 892.8 1679.5 892.8 1713.5 892.8 1748.6 892.8 1784.4 892.8 1819.6 892.8 1856.9 892.7 1894 892.7 1933.9 892.7 1974.9 892.7 2015.7 892.7 2057.1 892.7 2098.6 892.8 2141.3 893 2185.6 893.1 2234.1 893.3 2281.8 893.5 2329.5 893.7 2379.8 893.9 2432.1 894.1 2485 894.3 2537.8 894.6 2591.7 894.8 2648.7 895 2705.6 895.2 2765.1 895.5M1087.5 906.9 1112.5 907.4 1138 908.3 1162.5 909.5 1188 910.9 1211.4 911.9 1235.9 912.7 1261.1 913.5 1284.7 914.2 1308.4 914.9 1331.9 915.5 1355.3 916.1 1379.1 916.5 1404.5 916.8 1424.2 916.8 1443.5 916.7 1460.8 916.2 1478.6 915.7 1496.4 914.9 1527.3 913.6 1555.1 912.5 1585.4 911.8 1616.7 911.5 1648.6 911.5 1680.5 911.5 1714.5 911.5 1749.6 911.5 1785.4 911.5 1820.6 911.5 1857.9 911.5 1895 911.5 1934.7 911.5 1975.7 911.4 2016.3 911.4 2057.7 911.4 2099.2 911.5 2141.8 911.7 2186.1 911.8 2234.6 912 2282.2 912.2 2329.9 912.3 2380.1 912.5 2432.4 912.7 2485.1 912.9 2537.9 913.1 2591.8 913.3 2648.7 913.5 2705.5 913.7 2764.9 913.9M1088.7 925.2 1113.7 925.7 1139.2 926.5 1163.7 927.6 1189.2 928.8 1212.6 929.6 1237.1 930.3 1262.3 931 1285.9 931.7 1309.6 932.3 1333.1 932.8 1356.5 933.2 1380.3 933.6 1405.7 933.8 1425.4 933.8 1444.6 933.7 1461.8 933.3 1479.6 932.8 1497.4 932.2 1528.2 931 1556 930.1 1586.4 929.5 1617.7 929.3 1649.6 929.3 1681.4 929.3 1715.5 929.2 1750.6 929.2 1786.3 929.2 1821.6 929.2 1858.8 929.2 1895.9 929.2 1935.6 929.2 1976.4 929.2 2016.9 929.2 2058.2 929.2 2099.7 929.3 2142.3 929.4 2186.5 929.5 2235 929.7 2282.6 929.8 2330.2 930 2380.3 930.1 2432.6 930.3 2485.3 930.4 2538 930.6 2591.8 930.8 2648.6 930.9 2705.4 931.1 2764.8 931.3M1090 946.1 1115 946.5 1140.5 947.2 1165 948.1 1190.5 949.1 1214 949.8 1238.5 950.3 1263.7 950.9 1287.3 951.5 1311 952 1334.4 952.4 1357.9 952.8 1381.7 953.1 1407.1 953.2 1426.8 953.2 1445.9 953.1 1463.1 952.8 1480.7 952.4 1498.4 951.8 1529.3 950.9 1557.1 950.1 1587.4 949.6 1618.8 949.5 1650.7 949.5 1682.5 949.5 1716.6 949.4 1751.7 949.4 1787.4 949.4 1822.6 949.4 1859.9 949.4 1896.9 949.4 1936.5 949.4 1977.2 949.4 2017.6 949.4 2058.8 949.4 2100.2 949.5 2142.8 949.6 2187.1 949.7 2235.5 949.8 2283 949.9 2330.5 950 2380.6 950.2 2432.8 950.3 2485.5 950.4 2538.1 950.6 2591.8 950.7 2648.6 950.9 2705.4 951 2764.7 951.1M1091.3 966.5 1116.3 966.9 1141.8 967.4 1166.3 968.1 1191.9 968.9 1215.3 969.4 1239.8 969.9 1265 970.4 1288.6 970.8 1312.3 971.2 1335.8 971.5 1359.3 971.8 1383.1 972.1 1408.4 972.2 1428.1 972.2 1447.2 972.1 1464.3 971.8 1481.8 971.5 1499.4 971 1530.3 970.3 1558.1 969.7 1588.5 969.3 1619.8 969.2 1651.7 969.2 1683.6 969.2 1717.6 969.2 1752.8 969.2 1788.5 969.1 1823.7 969.1 1860.9 969.1 1898 969.1 1937.4 969.1 1977.9 969.1 2018.3 969.1 2059.4 969.1 2100.8 969.2 2143.4 969.3 2187.6 969.3 2236 969.4 2283.4 969.5 2330.9 969.6 2380.9 969.7 2433 969.8 2485.6 970 2538.2 970.1 2591.9 970.2 2648.6 970.3 2705.3 970.4 2764.5 970.5M1092.6 986.4 1117.6 986.7 1143.1 987.1 1167.6 987.6 1193.2 988.2 1216.6 988.6 1241.1 988.9 1266.3 989.3 1289.9 989.6 1313.6 989.9 1337.1 990.2 1360.6 990.4 1384.4 990.6 1409.8 990.7 1429.5 990.7 1448.4 990.6 1465.4 990.3 1482.9 990.1 1500.4 989.8 1531.3 989.2 1559.1 988.7 1589.5 988.5 1620.8 988.4 1652.8 988.4 1684.7 988.4 1718.7 988.4 1753.8 988.4 1789.5 988.4 1824.7 988.4 1861.9 988.4 1898.9 988.4 1938.3 988.3 1978.7 988.3 2019 988.3 2060 988.3 2101.3 988.4 2143.9 988.4 2188.1 988.5 2236.4 988.6 2283.9 988.7 2331.3 988.7 2381.2 988.8 2433.3 988.9 2485.8 989 2538.4 989.1 2591.9 989.1 2648.6 989.2 2705.2 989.3 2764.4 989.4M1093.9 1006.7 1118.9 1007 1144.5 1007.2 1169 1007.6 1194.5 1008 1218 1008.2 1242.5 1008.5 1267.7 1008.7 1291.3 1008.9 1314.9 1009.1 1338.4 1009.3 1361.9 1009.4 1385.7 1009.5 1411.1 1009.6 1430.8 1009.6 1449.7 1009.5 1466.6 1009.4 1484 1009.2 1501.5 1009 1532.3 1008.6 1560.2 1008.3 1590.5 1008.1 1621.9 1008.1 1653.8 1008.1 1685.7 1008.1 1719.8 1008.1 1754.9 1008.1 1790.6 1008.1 1825.7 1008.1 1862.9 1008.1 1900 1008.1 1939.2 1008.1 1979.5 1008.1 2019.6 1008.1 2060.5 1008.1 2101.9 1008.1 2144.4 1008.1 2188.6 1008.2 2236.9 1008.2 2284.3 1008.3 2331.6 1008.3 2381.5 1008.4 2433.5 1008.4 2486 1008.5 2538.5 1008.5 2592 1008.6 2648.6 1008.6 2705.1 1008.7 2764.3 1008.8M1094.8 1020 1119.8 1020.1 1145.3 1020.3 1169.8 1020.6 1195.3 1020.8 1218.8 1021 1243.3 1021.2 1268.6 1021.3 1292.1 1021.5 1315.8 1021.6 1339.3 1021.7 1362.8 1021.8 1386.6 1021.9 1412 1021.9 1431.7 1021.9 1450.5 1021.9 1467.4 1021.8 1484.8 1021.7 1502.1 1021.5 1533 1021.3 1560.8 1021 1591.2 1020.9 1622.6 1020.9 1654.5 1020.9 1686.4 1020.9 1720.5 1020.9 1755.6 1020.9 1791.2 1020.9 1826.4 1020.9 1863.6 1020.9 1900.6 1020.9 1939.8 1020.9 1980 1020.9 2020.1 1020.9 2060.9 1020.9 2102.2 1020.9 2144.8 1020.9 2188.9 1021 2237.2 1021 2284.5 1021 2331.8 1021.1 2381.7 1021.1 2433.6 1021.1 2486.1 1021.2 2538.5 1021.2 2592 1021.2 2648.5 1021.3 2705.1 1021.3 2764.2 1021.4M1095.6 1033.2 1120.7 1033.3 1146.2 1033.4 1170.7 1033.5 1196.2 1033.7 1219.7 1033.8 1244.2 1033.8 1269.4 1033.9 1293 1034 1316.7 1034.1 1340.2 1034.1 1363.7 1034.2 1387.5 1034.2 1412.9 1034.2 1432.6 1034.2 1451.4 1034.2 1468.2 1034.2 1485.5 1034.1 1502.8 1034 1533.7 1033.9 1561.5 1033.8 1591.9 1033.7 1623.3 1033.7 1655.2 1033.7 1687.1 1033.7 1721.2 1033.7 1756.3 1033.7 1791.9 1033.7 1827.1 1033.7 1864.3 1033.7 1901.3 1033.7 1940.4 1033.7 1980.5 1033.7 2020.5 1033.7 2061.3 1033.7 2102.6 1033.7 2145.1 1033.7 2189.3 1033.7 2237.6 1033.8 2284.8 1033.8 2332.1 1033.8 2381.9 1033.8 2433.8 1033.8 2486.2 1033.8 2538.6 1033.9 2592 1033.9 2648.5 1033.9 2705 1033.9 2764.1 1033.9"/><path d="M1101.8 749.9 1105.9 806.4 1110.8 881.9 1116.1 963.3 1121.6 1047.5M1127.3 750.7 1131.4 808.1 1136.3 883 1141.6 963.9 1147.1 1047.5M1151.8 751.5 1155.9 809.9 1160.8 884.4 1166.1 964.6 1171.6 1047.5M1177.3 752.3 1181.4 812.3 1186.3 886 1191.6 965.5 1197.1 1047.5M1200.7 753 1204.9 814.2 1209.8 887.2 1215.1 966 1220.6 1047.5M1225.2 753.8 1229.3 815.6 1234.3 888.2 1239.6 966.5 1245.1 1047.5M1250.4 754.6 1254.5 817 1259.5 889.1 1264.8 967 1270.4 1047.5M1273.9 755.3 1278.1 818.3 1283 890 1288.4 967.4 1293.9 1047.5M1297.6 756.1 1301.8 819.6 1306.7 890.9 1312.1 967.8 1317.6 1047.5M1321 756.8 1325.2 820.6 1330.2 891.6 1335.5 968.2 1341.1 1047.5M1344.5 757.6 1348.7 821.5 1353.6 892.2 1359 968.5 1364.6 1047.5M1368.3 758.4 1372.5 822.3 1377.4 892.7 1382.8 968.7 1388.4 1047.5M1393.6 759.2 1397.8 822.9 1402.8 893.1 1408.2 968.9 1413.8 1047.5M1413.3 759.8 1417.5 823 1422.5 893.1 1427.9 968.9 1433.5 1047.5M1433.2 759.9 1437.1 823 1441.9 893 1447 968.8 1452.2 1047.5M1451.2 759.3 1454.9 822.3 1459.3 892.4 1464.1 968.5 1469 1047.5M1469.7 757.6 1473.1 821.3 1477.2 891.8 1481.7 968.1 1486.2 1047.5M1488.2 755.9 1491.4 820.1 1495.2 890.9 1499.3 967.7 1503.5 1047.5M1519.1 753.3 1522.3 817.8 1526 889.4 1530.1 966.9 1534.4 1047.5M1546.8 751.5 1550 816 1553.8 888.1 1557.9 966.2 1562.2 1047.5M1577 750.8 1580.3 814.6 1584.1 887.3 1588.3 965.9 1592.6 1047.5M1608.3 750.3 1611.5 814 1615.4 886.9 1619.6 965.7 1624 1047.5M1640 750 1643.3 814 1647.3 886.9 1651.5 965.7 1655.9 1047.5M1671.8 749.7 1675.2 814 1679.1 886.9 1683.4 965.7 1687.9 1047.5M1705.8 749.7 1709.1 814 1713.1 886.9 1717.4 965.7 1721.9 1047.5M1741.1 749.7 1744.4 813.9 1748.3 886.9 1752.6 965.7 1757 1047.5M1776.9 752 1780.2 813.9 1784.1 886.9 1788.3 965.7 1792.7 1047.5M1812.2 752 1815.5 813.9 1819.3 886.8 1823.5 965.7 1827.8 1047.5M1849.6 752 1852.8 813.9 1856.6 886.8 1860.7 965.7 1865 1047.5M1886.8 752 1889.9 813.9 1893.7 886.8 1897.8 965.7 1902 1047.5M1927.4 752 1930.2 813.9 1933.6 886.8 1937.2 965.7 1941 1047.5M1969.4 752 1971.8 813.8 1974.7 886.8 1977.8 965.7 1981 1047.5M2010.9 752 2013 813.8 2015.5 886.8 2018.2 965.7 2021 1047.5M2053 752 2054.8 813.8 2057 886.8 2059.3 965.7 2061.7 1047.5M2094.7 752 2096.4 814 2098.5 886.9 2100.7 965.7 2103 1047.5M2137.5 752 2139.1 814.2 2141.1 887.1 2143.3 965.8 2145.5 1047.5M2181.9 752 2183.5 814.5 2185.4 887.2 2187.5 965.9 2189.6 1047.5M2230.7 752.3 2232.2 814.8 2234 887.5 2235.9 966 2237.9 1047.5M2278.8 752.6 2280.1 815.1 2281.7 887.7 2283.4 966.1 2285.1 1047.5M2327 753 2328.1 815.4 2329.4 887.8 2330.8 966.2 2332.3 1047.5M2377.7 753.3 2378.6 815.7 2379.7 888.1 2380.9 966.3 2382.1 1047.5M2430.5 753.7 2431.2 816 2432.1 888.3 2433 966.4 2434 1047.5M2483.8 754.1 2484.3 816.3 2484.9 888.5 2485.6 966.5 2486.3 1047.5M2537.1 754.4 2537.4 816.6 2537.8 888.7 2538.2 966.6 2538.7 1047.5M2591.4 754.8 2591.5 817 2591.7 888.9 2591.9 966.8 2592.1 1047.5M2648.8 755.2 2648.8 817.3 2648.7 889.2 2648.6 966.9 2648.5 1047.5M2706.1 755.6 2705.9 817.6 2705.6 889.4 2705.3 967 2705 1047.5"/></g>
<path class="d" d="M1069.5 751.6 1463.7 1047.5M1096.5 1009 1158 1043"/>
</g>
<g id="panel-c" class="pn">
<clipPath id="clc"><path d="M0 1325.4 1018.8 1325.4 1461.7 1658 0 1658z"/></clipPath>
<clipPath id="crc"><path d="M1018.8 1325.4 2780 1325.4 2780 1658 1461.7 1658z"/></clipPath>
<clipPath id="cbc"><path d="M747.3 1658 759 1653 816 1617 915 1617 918 1658z"/></clipPath>
<path d="M21.5 1674.8 2737 1674.8 2737 1696 21.5 1696zM26.3 1675.8 33.5 1660.5 741.5 1660.5 741.5 1658 2737 1658 2737 1675.8zM713.3 1661.5 716.2 1655.5 724 1653.7 734.7 1654 743.4 1653 753.2 1653.5 761 1653 761 1661zM747.3 1658 759 1653 816 1617 915 1617 918 1660 747.3 1660zM918 1660 915 1618.5 908.9 1536.4 902.9 1457.4 896 1365.4 1009.9 1365.5 1010 1362 1027 1362 1027.1 1366 1028 1366 1400 1376.5 1530 1371.5 1635 1368.4 1820 1368.4 1825 1371.5 2260 1371.5 2737 1376 2737 1660z" fill="#354da3"/>
<g>
<path d="M657.8 1660.5 687 1660.5 687 1675.8 657.8 1675.8z" fill="#3a5aaa"/>
<path d="M873.7 1658 892.7 1658 898.6 1675.8 880.1 1675.8zM1063.4 1658 1078.5 1658 1082.6 1675.8 1067.5 1675.8z" fill="#3e6ab4"/>
<path d="M731.2 1654 751 1654 759 1675.8 735.6 1675.8z" fill="#427abe"/>
<path d="M1445.8 1658 1463 1658 1463 1675.8 1445.9 1675.8z" fill="#4383c5"/>
<path d="M892.7 1658 913.4 1658 918.7 1675.8 898.6 1675.8z" fill="#448ccc"/>
<path d="M627.5 1660.5 657.8 1660.5 657.8 1675.8 627.5 1675.8zM687 1660.5 711.3 1660.5 711.3 1675.8 687 1675.8z" fill="#32bbee"/>
<path d="M596.9 1660.5 627.5 1660.5 627.5 1675.8 596.9 1675.8z" fill="#63cce0"/>
<path d="M1021 1658 1047.7 1658 1052 1675.8 1025.4 1675.8z" fill="#6fcac2"/>
<path d="M531.8 1660.5 565.3 1660.5 565.3 1675.8 531.8 1675.8zM565.3 1660.5 596.9 1660.5 596.9 1675.8 565.3 1675.8z" fill="#6ec69a"/>
<path d="M386.6 1660.5 423.7 1660.5 423.7 1675.8 386.6 1675.8zM423.7 1660.5 461.7 1660.5 461.7 1675.8 423.7 1675.8zM461.7 1660.5 496.8 1660.5 496.8 1675.8 461.7 1675.8zM496.8 1660.5 531.8 1660.5 531.8 1675.8 496.8 1675.8z" fill="#69bb3f"/>
<path d="M347.6 1660.5 386.6 1660.5 386.6 1675.8 347.6 1675.8z" fill="#7fc23f"/>
<path d="M305.5 1660.5 347.6 1660.5 347.6 1675.8 305.5 1675.8z" fill="#97c93c"/>
<path d="M260.4 1660.5 305.5 1660.5 305.5 1675.8 260.4 1675.8z" fill="#b4d433"/>
<path d="M216.4 1660.5 260.4 1660.5 260.4 1675.8 216.4 1675.8z" fill="#f0e616"/>
<path d="M170.3 1660.5 216.4 1660.5 216.4 1675.8 170.3 1675.8z" fill="#f5d415"/>
<path d="M122.3 1660.5 170.3 1660.5 170.3 1675.8 122.3 1675.8z" fill="#faa718"/>
<path d="M73.8 1660.5 122.3 1660.5 122.3 1675.8 73.8 1675.8z" fill="#f7941d"/>
<path d="M33.5 1656.5 55.5 1658 73.8 1660.5 73.8 1675.8 26.3 1675.8z" fill="#f58121"/>
</g>
<g class="g"><path d="M747.3 1675.8 2737 1675.8M747.3 1658 2737 1658"/><path d="M751 1658 759 1675.8 761.4 1696M774.5 1658 782.5 1675.8 784.9 1696M794 1658 802 1675.8 804.4 1696M815.9 1658 823.9 1675.8 826.3 1696M833.7 1658 841.3 1675.8 843.6 1696M853.7 1658 860.7 1675.8 862.9 1696M873.7 1658 880.1 1675.8 882.1 1696M892.7 1658 898.6 1675.8 900.4 1696M913.4 1658 918.7 1675.8 920.3 1696M940.7 1658 945.6 1675.8 947.1 1696M968.5 1658 973.2 1675.8 974.6 1696M994.7 1658 999.3 1675.8 1000.7 1696M1021 1658 1025.4 1675.8 1026.7 1696M1047.7 1658 1052 1675.8 1053.3 1696M1063.4 1658 1067.5 1675.8 1068.8 1696M1078.5 1658 1082.6 1675.8 1083.8 1696M1094.7 1658 1098.7 1675.8 1099.9 1696M1119 1658 1122.8 1675.8 1123.9 1696M1144.3 1658 1147.8 1675.8 1148.9 1696M1168.7 1658 1171.9 1675.8 1172.9 1696M1194 1658 1197 1675.8 1197.9 1696M1217.3 1658 1220.1 1675.8 1220.9 1696M1240.6 1658 1243.2 1675.8 1244 1696M1265.7 1658 1268 1675.8 1268.7 1696M1289.1 1658 1291.2 1675.8 1291.8 1696M1312.6 1658 1314.5 1675.8 1315 1696M1336 1658 1337.5 1675.8 1338 1696M1359.4 1658 1360.6 1675.8 1361 1696M1382.8 1658 1383.7 1675.8 1384 1696M1406.1 1658 1406.8 1675.8 1407 1696M1426.5 1658 1426.9 1675.8 1427 1696M1445.8 1658 1445.9 1675.8 1446 1696M1463 1658 1463 1675.8 1463 1696M1480.7 1658 1480.7 1675.8 1480.7 1696M1498.4 1658 1498.4 1675.8 1498.4 1696M1529.2 1658 1529.2 1675.8 1529.2 1696M1557 1658 1557 1675.8 1557 1696M1587.3 1658 1587.3 1675.8 1587.3 1696M1618.6 1658 1618.6 1675.8 1618.6 1696M1649.5 1658 1649.5 1675.8 1649.5 1696M1680.3 1658 1680.3 1675.8 1680.3 1696M1713.1 1658 1713.1 1675.8 1713.1 1696M1747 1658 1747 1675.8 1747 1696M1782.7 1658 1782.7 1675.8 1782.7 1696M1817.8 1658 1817.8 1675.8 1817.8 1696M1855 1658 1855 1675.8 1855 1696M1891 1658 1891 1675.8 1891 1696M1929 1658 1929 1675.8 1929 1696M1968.6 1658 1968.6 1675.8 1968.6 1696M2008.2 1658 2008.2 1675.8 2008.2 1696M2048.8 1658 2048.8 1675.8 2048.8 1696M2090 1658 2090 1675.8 2090 1696M2131.1 1658 2131.1 1675.8 2131.1 1696M2173.9 1658 2173.9 1675.8 2173.9 1696M2220.6 1658 2220.6 1675.8 2220.6 1696M2266.3 1658 2266.3 1675.8 2266.3 1696M2312 1658 2312 1675.8 2312 1696M2360.2 1658 2360.2 1675.8 2360.2 1696M2410.3 1658 2410.3 1675.8 2410.3 1696M2461 1658 2461 1675.8 2461 1696M2513 1658 2513 1675.8 2513 1696M2566.1 1658 2566.1 1675.8 2566.1 1696M2622.2 1658 2622.2 1675.8 2622.2 1696M2678.3 1658 2678.3 1675.8 2678.3 1696"/></g>
<path class="g g2" d="M73.8 1657 73.8 1696M122.3 1657 122.3 1696M170.3 1657 170.3 1696M216.4 1657 216.4 1696M260.4 1657 260.4 1696M305.5 1657 305.5 1696M347.6 1657 347.6 1696M386.6 1657 386.6 1696M423.7 1657 423.7 1696M461.7 1657 461.7 1696M496.8 1657 496.8 1696M531.8 1657 531.8 1696M565.3 1657 565.3 1696M596.9 1657 596.9 1696M627.5 1657 627.5 1696M657.8 1657 657.8 1696M687 1657 687 1696M711.3 1657 711.3 1696M735.6 1657 735.6 1696M21.5 1675.8 747.3 1675.8"/>
<g class="g" clip-path="url(#cbc)"><path d="M741.5 1631 916 1631M741.5 1644.5 917 1644.5"/><path d="M776.5 1617 782.5 1658M796 1617 802 1658M817.8 1617 823.9 1658M835.3 1617 841.3 1658M854.7 1617 860.7 1658M874.1 1617 880.1 1658M892.5 1617 898.6 1658"/></g>
<g class="g" clip-path="url(#clc)"><path d="M897.4 1384.2 925.3 1384.3 953.1 1384.4 980.4 1384.5 1007.8 1384.7 1035.1 1384.9 1050.1 1385.3 1065.5 1385.7 1081.3 1386.2 1105.9 1386.8 1131.1 1387.5 1155.2 1388.1 1180.4 1388.8 1203.6 1389.4 1227.7 1390 1252.6 1390.7 1275.8 1391.3 1299.2 1391.9 1322.3 1392.5 1345.5 1393.1 1368.6 1393.7 1391.8 1394.4 1411.9 1394.1 1431.6 1393.4 1449.4 1392.8M898.9 1404 926.7 1404.1 954.5 1404.2 981.8 1404.3 1009 1404.4 1036.3 1404.7 1051.2 1405 1066.7 1405.4 1082.4 1405.8 1107.1 1406.4 1132.2 1407 1156.4 1407.6 1181.5 1408.2 1204.7 1408.8 1228.8 1409.4 1253.7 1410 1276.9 1410.6 1300.3 1411.1 1323.4 1411.7 1346.6 1412.3 1369.7 1412.8 1392.8 1413.4 1413 1413.2 1432.6 1412.5 1450.3 1411.9M900.4 1423.7 928.1 1423.8 955.9 1423.9 983.1 1424 1010.3 1424.1 1037.5 1424.4 1052.4 1424.8 1067.8 1425.1 1083.6 1425.5 1108.2 1426 1133.4 1426.6 1157.5 1427.1 1182.7 1427.7 1205.8 1428.2 1229.9 1428.8 1254.8 1429.3 1278 1429.9 1301.4 1430.4 1324.5 1430.9 1347.7 1431.4 1370.8 1431.9 1393.9 1432.5 1414.1 1432.2 1433.7 1431.6 1451.3 1431M901.9 1443.5 929.6 1443.6 957.2 1443.7 984.4 1443.8 1011.6 1443.9 1038.8 1444.2 1053.6 1444.5 1069 1444.8 1084.7 1445.1 1109.4 1445.6 1134.5 1446.1 1158.6 1446.6 1183.8 1447.2 1206.9 1447.6 1231.1 1448.1 1255.9 1448.6 1279.1 1449.1 1302.5 1449.6 1325.6 1450.1 1348.7 1450.6 1371.9 1451 1395 1451.5 1415.1 1451.2 1434.7 1450.7 1452.3 1450.2M903.4 1463.3 931 1463.4 958.6 1463.5 985.7 1463.5 1012.9 1463.6 1040 1463.9 1054.8 1464.2 1070.2 1464.5 1085.9 1464.7 1110.5 1465.2 1135.6 1465.7 1159.8 1466.1 1184.9 1466.6 1208 1467 1232.2 1467.5 1257 1468 1280.3 1468.4 1303.6 1468.8 1326.7 1469.3 1349.8 1469.7 1373 1470.1 1396.1 1470.6 1416.2 1470.2 1435.7 1469.7 1453.3 1469.3M904.8 1482.1 932.4 1482.1 959.9 1482.2 987 1482.3 1014.1 1482.4 1041.1 1482.6 1055.9 1482.9 1071.3 1483.1 1087 1483.4 1111.6 1483.8 1136.7 1484.3 1160.9 1484.7 1186 1485.1 1209.1 1485.5 1233.2 1485.9 1258.1 1486.3 1281.3 1486.7 1304.6 1487.1 1327.8 1487.5 1350.9 1487.9 1374 1488.3 1397.1 1488.7 1417.2 1488.3 1436.7 1487.9 1454.2 1487.5M906.3 1502.8 933.9 1502.9 961.4 1503 988.4 1503 1015.4 1503.1 1042.4 1503.3 1057.2 1503.6 1072.5 1503.8 1088.2 1504 1112.8 1504.4 1137.9 1504.8 1162 1505.1 1187.2 1505.5 1210.3 1505.9 1234.4 1506.2 1259.2 1506.6 1282.5 1506.9 1305.8 1507.3 1328.9 1507.6 1352 1508 1375.2 1508.3 1398.3 1508.7 1418.4 1508.3 1437.8 1507.9 1455.3 1507.6M907.8 1522.6 935.3 1522.7 962.8 1522.7 989.7 1522.8 1016.7 1522.8 1043.6 1523.1 1058.4 1523.2 1073.7 1523.4 1089.3 1523.7 1113.9 1524 1139.1 1524.3 1163.2 1524.6 1188.3 1524.9 1211.4 1525.2 1235.5 1525.6 1260.4 1525.9 1283.6 1526.2 1306.9 1526.5 1330 1526.8 1353.1 1527.1 1376.2 1527.4 1399.4 1527.7 1419.5 1527.4 1438.9 1527 1456.3 1526.7M909.2 1540.4 936.6 1540.4 964 1540.5 990.9 1540.5 1017.8 1540.6 1044.7 1540.8 1059.5 1541 1074.7 1541.1 1090.3 1541.3 1115 1541.6 1140.1 1541.9 1164.2 1542.2 1189.3 1542.4 1212.4 1542.7 1236.5 1543 1261.4 1543.3 1284.6 1543.5 1307.9 1543.8 1331 1544 1354.1 1544.3 1377.2 1544.6 1400.3 1544.8 1420.4 1544.5 1439.8 1544.2 1457.1 1543.9M910.6 1560.2 938 1560.2 965.4 1560.2 992.2 1560.3 1019.1 1560.3 1046 1560.5 1060.7 1560.6 1075.9 1560.8 1091.5 1560.9 1116.1 1561.2 1141.2 1561.4 1165.3 1561.6 1190.4 1561.9 1213.5 1562.1 1237.7 1562.3 1262.5 1562.6 1285.7 1562.8 1309 1563 1332.1 1563.2 1355.2 1563.4 1378.3 1563.6 1401.4 1563.8 1421.5 1563.6 1440.8 1563.3 1458.1 1563.1M912.1 1579.9 939.4 1580 966.8 1580 993.6 1580 1020.4 1580.1 1047.2 1580.2 1061.8 1580.3 1077 1580.4 1092.6 1580.6 1117.2 1580.7 1142.4 1580.9 1166.5 1581.1 1191.6 1581.3 1214.7 1581.5 1238.8 1581.7 1263.6 1581.8 1286.8 1582 1310.1 1582.2 1333.2 1582.4 1356.3 1582.5 1379.4 1582.7 1402.5 1582.8 1422.6 1582.6 1441.9 1582.4 1459.1 1582.3M913.6 1599.7 940.9 1599.7 968.1 1599.7 994.9 1599.8 1021.6 1599.8 1048.4 1599.9 1063 1600 1078.2 1600.1 1093.8 1600.2 1118.4 1600.3 1143.5 1600.4 1167.6 1600.6 1192.7 1600.7 1215.8 1600.9 1239.9 1601 1264.7 1601.1 1287.9 1601.3 1311.2 1601.4 1334.3 1601.5 1357.4 1601.7 1380.5 1601.8 1403.6 1601.9 1423.7 1601.7 1442.9 1601.6 1460.1 1601.4M915 1618.5 942.2 1618.5 969.4 1618.5 996.1 1618.5 1022.8 1618.5 1049.6 1618.6 1064.2 1618.7 1079.3 1618.7 1094.9 1618.8 1119.5 1618.9 1144.6 1619 1168.7 1619.1 1193.8 1619.2 1216.9 1619.3 1241 1619.4 1265.8 1619.4 1289 1619.5 1312.2 1619.6 1335.3 1619.7 1358.4 1619.8 1381.5 1619.9 1404.6 1619.9 1424.7 1619.8 1443.9 1619.7 1461 1619.6M916 1631.3 943.2 1631.3 970.3 1631.3 997 1631.4 1023.7 1631.4 1050.3 1631.4 1064.9 1631.5 1080 1631.5 1095.6 1631.5 1120.2 1631.6 1145.3 1631.7 1169.4 1631.7 1194.5 1631.8 1217.6 1631.9 1241.7 1631.9 1266.5 1632 1289.7 1632 1313 1632.1 1336.1 1632.2 1359.1 1632.2 1382.2 1632.3 1405.3 1632.3 1425.4 1632.2 1444.5 1632.2 1461.7 1632.1M917 1644.7 944.1 1644.7 971.3 1644.7 997.9 1644.7 1024.5 1644.7 1051.2 1644.7 1065.7 1644.7 1080.8 1644.8 1096.4 1644.8 1121 1644.8 1146.1 1644.8 1170.2 1644.9 1195.3 1644.9 1218.3 1644.9 1242.4 1645 1267.2 1645 1290.4 1645 1313.7 1645.1 1336.8 1645.1 1359.9 1645.1 1383 1645.1 1406.1 1645.2 1426.1 1645.1 1445.2 1645.1 1462.3 1645.1"/><path d="M923.7 1362.6 929.1 1437.7 934.9 1516.7 939.9 1585.9 945.1 1658M951.6 1362.7 956.8 1437.8 962.3 1516.8 967.2 1585.9 972.2 1658M979 1362.8 984 1437.9 989.3 1516.8 994 1585.9 998.8 1658M1006.4 1362.9 1011.2 1438 1016.3 1516.9 1020.7 1586 1025.4 1658M1033.8 1363.2 1038.4 1438.2 1043.3 1517.1 1047.5 1586.1 1052 1658M1048.7 1363.6 1053.3 1438.6 1058 1517.3 1062.2 1586.2 1066.5 1658M1064.2 1364.1 1068.7 1438.9 1073.3 1517.6 1077.4 1586.3 1081.6 1658M1080 1364.5 1084.4 1439.2 1089 1517.8 1093 1586.4 1097.2 1658M1104.7 1365.2 1109 1439.7 1113.6 1518.1 1117.6 1586.6 1121.7 1658M1129.8 1365.9 1134.2 1440.3 1138.7 1518.4 1142.7 1586.8 1146.8 1658M1154 1366.6 1158.3 1440.8 1162.8 1518.8 1166.8 1587 1170.9 1658M1179.2 1367.4 1183.5 1441.3 1188 1519.1 1191.9 1587.1 1196 1658M1202.3 1368 1206.6 1441.8 1211.1 1519.4 1215 1587.3 1219.1 1658M1226.5 1368.7 1230.7 1442.3 1235.2 1519.8 1239.1 1587.5 1243.2 1658M1251.3 1369.4 1255.6 1442.9 1260 1520.1 1263.9 1587.6 1268 1658M1274.6 1370.1 1278.8 1443.3 1283.2 1520.4 1287.1 1587.8 1291.2 1658M1298 1370.7 1302.1 1443.8 1306.6 1520.7 1310.4 1588 1314.5 1658M1321.1 1371.4 1325.3 1444.3 1329.7 1521 1333.5 1588.1 1337.5 1658M1344.3 1372.1 1348.4 1444.8 1352.8 1521.4 1356.6 1588.3 1360.6 1658M1367.4 1372.7 1371.6 1445.3 1375.9 1521.7 1379.7 1588.4 1383.7 1658M1390.6 1373.4 1394.7 1445.8 1399 1522 1402.8 1588.5 1406.8 1658M1410.7 1373.2 1414.8 1445.5 1419.1 1521.6 1422.9 1588.4 1426.9 1658M1430.5 1372.5 1434.4 1444.9 1438.5 1521.3 1442.2 1588.2 1445.9 1658M1448.3 1371.8 1452 1444.4 1456 1521 1459.4 1588 1463 1658"/></g>
<g class="g" clip-path="url(#crc)"><path d="M1081.3 1385.7 1105.9 1386.2 1131.1 1387 1155.2 1387.6 1180.4 1388.4 1203.6 1389 1227.7 1389.7 1252.6 1390.4 1275.8 1391.1 1299.2 1391.8 1322.3 1392.5 1345.5 1393.1 1368.6 1393.8 1391.8 1394.5 1411.9 1394.3 1431.6 1393.7 1449.4 1393.1 1467.7 1392.5 1486.1 1391.9 1516.9 1390.9 1544.6 1390.1 1574.8 1389.3 1605.9 1388.5 1636.6 1387.7 1667.3 1387.6 1700.1 1387.6 1734.1 1387.6 1769.9 1387.6 1805.2 1387.6 1842.6 1389.7 1878.8 1389.7 1917.5 1389.7 1958.1 1389.7 1998.7 1389.7 2040.3 1389.7 2082.1 1389.7 2123.7 1389.8 2167 1389.9 2214.2 1390 2260.5 1390 2306.7 1390.4 2355.5 1390.8 2406.3 1391.3 2457.7 1391.7 2510.4 1392.1 2564.2 1392.6 2621 1393.1 2677.7 1393.5 2737 1394M1082.4 1404.9 1107.1 1405.2 1132.2 1406 1156.4 1406.7 1181.5 1407.4 1204.7 1408.1 1228.8 1408.8 1253.7 1409.5 1276.9 1410.2 1300.3 1410.9 1323.4 1411.6 1346.6 1412.3 1369.7 1413 1392.8 1413.6 1413 1413.5 1432.6 1413 1450.3 1412.5 1468.7 1412 1487 1411.6 1517.8 1410.8 1545.5 1410.1 1575.7 1409.4 1606.9 1408.6 1637.5 1408 1668.2 1407.8 1701 1407.8 1735 1407.8 1770.8 1407.8 1806.1 1407.8 1843.5 1408.8 1879.7 1408.8 1918.3 1408.8 1958.8 1408.8 1999.4 1408.8 2040.9 1408.8 2082.6 1408.9 2124.2 1409 2167.5 1409.2 2214.7 1409.4 2260.9 1409.6 2307.1 1409.9 2355.8 1410.3 2406.6 1410.6 2457.9 1411 2510.6 1411.4 2564.3 1411.8 2621.1 1412.2 2677.8 1412.6 2737 1413M1083.6 1424 1108.2 1424.2 1133.4 1425 1157.5 1425.7 1182.7 1426.5 1205.8 1427.2 1229.9 1427.9 1254.8 1428.6 1278 1429.3 1301.4 1430 1324.5 1430.7 1347.7 1431.4 1370.8 1432.1 1393.9 1432.8 1414.1 1432.7 1433.7 1432.3 1451.3 1432 1469.6 1431.6 1487.9 1431.2 1518.7 1430.6 1546.4 1430.1 1576.6 1429.5 1607.8 1428.8 1638.5 1428.2 1669.2 1428 1702 1428 1736 1428 1771.8 1428 1807.1 1428 1844.4 1428 1880.6 1428 1919.1 1428 1959.6 1428 2000.1 1428 2041.5 1428 2083.2 1428 2124.8 1428.3 2168 1428.5 2215.2 1428.8 2261.3 1429.1 2307.5 1429.4 2356.2 1429.7 2406.9 1430 2458.1 1430.3 2510.8 1430.6 2564.5 1430.9 2621.2 1431.3 2677.8 1431.6 2737 1432M1084.7 1443.7 1109.4 1444 1134.5 1444.7 1158.6 1445.4 1183.8 1446 1206.9 1446.7 1231.1 1447.3 1255.9 1448 1279.1 1448.7 1302.5 1449.3 1325.6 1449.9 1348.7 1450.6 1371.9 1451.2 1395 1451.9 1415.1 1451.7 1434.7 1451.4 1452.3 1451 1470.6 1450.7 1488.8 1450.4 1519.6 1449.8 1547.3 1449.3 1577.5 1448.7 1608.7 1448.2 1639.4 1447.6 1670.1 1447.4 1702.9 1447.4 1736.9 1447.4 1772.7 1447.4 1808 1447.4 1845.3 1447.4 1881.4 1447.4 1920 1447.4 1960.4 1447.4 2000.8 1447.4 2042.2 1447.4 2083.8 1447.4 2125.3 1447.7 2168.5 1447.9 2215.6 1448.2 2261.7 1448.4 2307.9 1448.7 2356.5 1448.9 2407.1 1449.2 2458.4 1449.5 2511 1449.8 2564.6 1450.1 2621.3 1450.4 2677.9 1450.7 2737 1451.1M1085.9 1463.5 1110.5 1463.8 1135.6 1464.4 1159.8 1465 1184.9 1465.6 1208 1466.2 1232.2 1466.8 1257 1467.4 1280.3 1468 1303.6 1468.6 1326.7 1469.1 1349.8 1469.7 1373 1470.3 1396.1 1470.9 1416.2 1470.7 1435.7 1470.4 1453.3 1470.1 1471.5 1469.8 1489.7 1469.5 1520.5 1469 1548.2 1468.5 1578.4 1468 1609.6 1467.5 1640.3 1467 1671.1 1466.8 1703.9 1466.8 1737.8 1466.8 1773.6 1466.8 1808.9 1466.8 1846.2 1466.8 1882.3 1466.8 1920.8 1466.8 1961.1 1466.8 2001.4 1466.8 2042.8 1466.8 2084.4 1466.8 2125.9 1467 2169 1467.3 2216.1 1467.5 2262.2 1467.7 2308.2 1468 2356.8 1468.2 2407.4 1468.5 2458.6 1468.7 2511.2 1469 2564.7 1469.3 2621.4 1469.6 2677.9 1469.8 2737 1470.1M1087 1482.3 1111.6 1482.5 1136.7 1483.1 1160.9 1483.6 1186 1484.2 1209.1 1484.7 1233.2 1485.3 1258.1 1485.8 1281.3 1486.3 1304.6 1486.9 1327.8 1487.4 1350.9 1487.9 1374 1488.4 1397.1 1488.9 1417.2 1488.8 1436.7 1488.5 1454.2 1488.2 1472.4 1487.9 1490.5 1487.7 1521.3 1487.2 1549 1486.8 1579.2 1486.3 1610.5 1485.9 1641.2 1485.4 1671.9 1485.3 1704.8 1485.3 1738.7 1485.3 1774.5 1485.3 1809.7 1485.3 1847 1485.3 1883.2 1485.3 1921.6 1485.3 1961.8 1485.3 2002.1 1485.3 2043.3 1485.3 2084.9 1485.3 2126.4 1485.5 2169.4 1485.7 2216.5 1485.9 2262.5 1486.1 2308.6 1486.3 2357.1 1486.5 2407.7 1486.8 2458.9 1487 2511.4 1487.2 2564.9 1487.5 2621.4 1487.7 2677.9 1488 2737 1488.3M1088.2 1503 1112.8 1503.2 1137.9 1503.7 1162 1504.2 1187.2 1504.7 1210.3 1505.2 1234.4 1505.7 1259.2 1506.2 1282.5 1506.6 1305.8 1507.1 1328.9 1507.5 1352 1508 1375.2 1508.5 1398.3 1508.9 1418.4 1508.7 1437.8 1508.4 1455.3 1508.2 1473.4 1508 1491.4 1507.7 1522.2 1507.3 1550 1507 1580.2 1506.6 1611.4 1506.1 1642.2 1505.7 1672.9 1505.6 1705.7 1505.6 1739.7 1505.6 1775.4 1505.6 1810.7 1505.6 1848 1505.6 1884.1 1505.6 1922.5 1505.6 1962.6 1505.6 2002.8 1505.6 2044 1505.6 2085.5 1505.7 2126.9 1505.8 2170 1506 2217 1506.2 2263 1506.4 2309 1506.6 2357.5 1506.8 2408 1507 2459.1 1507.2 2511.5 1507.4 2565 1507.6 2621.5 1507.8 2678 1508 2737 1508.3M1089.2 1521.7 1113.9 1522 1139 1522.4 1163.1 1522.8 1188.2 1523.3 1211.4 1523.7 1235.5 1524.1 1260.3 1524.5 1283.5 1525 1306.8 1525.4 1330 1525.8 1353.1 1526.2 1376.2 1526.6 1399.3 1527 1419.4 1526.8 1438.8 1526.5 1456.2 1526.3 1474.2 1526.1 1492.3 1525.9 1523.1 1525.6 1550.8 1525.2 1581.1 1524.9 1612.3 1524.5 1643.1 1524.2 1673.8 1524.1 1706.6 1524.1 1740.6 1524.1 1776.3 1524.1 1811.5 1524.1 1848.8 1524.1 1884.9 1524.1 1923.3 1524.1 1963.4 1524.1 2003.5 1524.1 2044.6 1524.1 2086 1524.1 2127.4 1524.2 2170.4 1524.4 2217.4 1524.6 2263.4 1524.7 2309.4 1524.9 2357.8 1525.1 2408.3 1525.2 2459.3 1525.4 2511.7 1525.6 2565.2 1525.8 2621.6 1526 2678 1526.2 2737 1526.4M1090.3 1539.5 1114.9 1539.7 1140 1540.1 1164.1 1540.5 1189.3 1540.9 1212.4 1541.2 1236.5 1541.6 1261.3 1542 1284.5 1542.3 1307.8 1542.7 1330.9 1543 1354.1 1543.4 1377.2 1543.7 1400.3 1544.1 1420.4 1543.9 1439.7 1543.7 1457.1 1543.5 1475.1 1543.3 1493.1 1543.1 1523.9 1542.8 1551.6 1542.5 1581.9 1542.2 1613.1 1541.9 1643.9 1541.6 1674.7 1541.5 1707.5 1541.5 1741.4 1541.5 1777.1 1541.5 1812.4 1541.5 1849.6 1541.5 1885.7 1541.5 1924 1541.5 1964 1541.5 2004.1 1541.5 2045.1 1541.5 2086.6 1541.6 2127.9 1541.7 2170.9 1541.8 2217.8 1542 2263.8 1542.1 2309.7 1542.2 2358.1 1542.4 2408.6 1542.6 2459.6 1542.7 2511.9 1542.9 2565.3 1543 2621.7 1543.2 2678.1 1543.4 2737 1543.6M1091.5 1559.8 1116.1 1560 1141.2 1560.3 1165.3 1560.6 1190.4 1560.9 1213.5 1561.2 1237.6 1561.5 1262.4 1561.8 1285.7 1562.1 1309 1562.4 1332.1 1562.7 1355.2 1563 1378.3 1563.3 1401.4 1563.5 1421.5 1563.4 1440.8 1563.2 1458.1 1563.1 1476 1562.9 1494 1562.7 1524.8 1562.5 1552.5 1562.3 1582.8 1562 1614.1 1561.7 1644.9 1561.5 1675.6 1561.4 1708.5 1561.4 1742.4 1561.4 1778.1 1561.4 1813.3 1561.4 1850.5 1561.4 1886.6 1561.4 1924.9 1561.4 1964.8 1561.4 2004.8 1561.4 2045.8 1561.4 2087.1 1561.5 2128.5 1561.6 2171.4 1561.7 2218.3 1561.8 2264.2 1561.9 2310.1 1562 2358.5 1562.1 2408.9 1562.3 2459.8 1562.4 2512.1 1562.5 2565.4 1562.7 2621.8 1562.8 2678.1 1563 2737 1563.1M1092.6 1579.5 1117.2 1579.7 1142.3 1579.9 1166.4 1580.2 1191.5 1580.4 1214.6 1580.7 1238.8 1580.9 1263.6 1581.2 1286.8 1581.4 1310.1 1581.6 1333.2 1581.9 1356.3 1582.1 1379.4 1582.3 1402.5 1582.5 1422.6 1582.4 1441.8 1582.2 1459.1 1582.1 1477 1582 1494.9 1581.9 1525.7 1581.7 1553.4 1581.5 1583.7 1581.3 1615 1581.1 1645.8 1580.9 1676.6 1580.8 1709.4 1580.8 1743.3 1580.8 1779 1580.8 1814.2 1580.8 1851.4 1580.8 1887.5 1580.8 1925.7 1580.8 1965.6 1580.8 2005.5 1580.8 2046.4 1580.8 2087.7 1580.9 2129 1580.9 2171.9 1581 2218.7 1581.1 2264.6 1581.2 2310.5 1581.3 2358.8 1581.4 2409.2 1581.5 2460 1581.6 2512.3 1581.7 2565.6 1581.8 2621.9 1582 2678.2 1582.1 2737 1582.2M1093.7 1598.8 1118.3 1598.9 1143.4 1599.1 1167.5 1599.3 1192.6 1599.5 1215.7 1599.6 1239.8 1599.8 1264.6 1600 1287.8 1600.2 1311.1 1600.4 1334.2 1600.5 1357.3 1600.7 1380.4 1600.9 1403.5 1601 1423.6 1600.9 1442.8 1600.8 1460.1 1600.7 1477.9 1600.6 1495.7 1600.6 1526.5 1600.4 1554.3 1600.3 1584.6 1600.1 1615.9 1599.9 1646.7 1599.8 1677.5 1599.8 1710.3 1599.8 1744.2 1599.8 1779.9 1599.8 1815.1 1599.8 1852.3 1599.8 1888.4 1599.8 1926.5 1599.8 1966.3 1599.8 2006.2 1599.8 2047 1599.8 2088.3 1599.8 2129.5 1599.8 2172.4 1599.9 2219.2 1600 2265 1600.1 2310.8 1600.1 2359.1 1600.2 2409.4 1600.3 2460.3 1600.4 2512.5 1600.4 2565.7 1600.5 2622 1600.6 2678.2 1600.7 2737 1600.8M1094.9 1618.5 1119.5 1618.6 1144.6 1618.7 1168.7 1618.9 1193.8 1619 1216.9 1619.1 1241 1619.2 1265.8 1619.3 1289 1619.5 1312.2 1619.6 1335.3 1619.7 1358.4 1619.8 1381.5 1619.9 1404.6 1620 1424.7 1619.9 1443.9 1619.9 1461 1619.8 1478.8 1619.8 1496.6 1619.7 1527.4 1619.6 1555.2 1619.5 1585.5 1619.4 1616.8 1619.3 1647.6 1619.2 1678.4 1619.2 1711.3 1619.2 1745.1 1619.2 1780.8 1619.2 1816 1619.2 1853.2 1619.2 1889.3 1619.2 1927.3 1619.2 1967.1 1619.2 2006.8 1619.2 2047.6 1619.2 2088.9 1619.2 2130.1 1619.2 2172.9 1619.3 2219.6 1619.3 2265.4 1619.4 2311.2 1619.4 2359.5 1619.5 2409.7 1619.5 2460.5 1619.6 2512.7 1619.6 2565.8 1619.7 2622 1619.7 2678.2 1619.8 2737 1619.9M1095.6 1631.3 1120.2 1631.4 1145.3 1631.5 1169.4 1631.6 1194.5 1631.7 1217.6 1631.7 1241.7 1631.8 1266.5 1631.9 1289.7 1632 1313 1632.1 1336.1 1632.1 1359.1 1632.2 1382.2 1632.3 1405.3 1632.4 1425.4 1632.3 1444.5 1632.3 1461.7 1632.2 1479.4 1632.2 1497.2 1632.1 1528 1632.1 1555.8 1632 1586.1 1631.9 1617.4 1631.9 1648.2 1631.8 1679 1631.8 1711.9 1631.8 1745.7 1631.8 1781.4 1631.8 1816.6 1631.8 1853.8 1631.8 1889.8 1631.8 1927.9 1631.8 1967.6 1631.8 2007.3 1631.8 2048 1631.8 2089.2 1631.8 2130.4 1631.8 2173.2 1631.9 2219.9 1631.9 2265.7 1631.9 2311.5 1632 2359.7 1632 2409.9 1632 2460.7 1632.1 2512.8 1632.1 2565.9 1632.1 2622.1 1632.2 2678.3 1632.2 2737 1632.3M1096.4 1644.2 1120.9 1644.2 1146 1644.3 1170.1 1644.3 1195.2 1644.3 1218.3 1644.4 1242.4 1644.4 1267.2 1644.5 1290.4 1644.5 1313.7 1644.6 1336.8 1644.6 1359.9 1644.6 1382.9 1644.7 1406 1644.7 1426.1 1644.7 1445.2 1644.7 1462.3 1644.6 1480 1644.6 1497.8 1644.6 1528.6 1644.6 1556.4 1644.5 1586.7 1644.5 1618 1644.5 1648.8 1644.4 1679.6 1644.4 1712.5 1644.4 1746.3 1644.4 1782 1644.4 1817.2 1644.4 1854.4 1644.4 1890.4 1644.4 1928.4 1644.4 1968.1 1644.4 2007.7 1644.4 2048.4 1644.4 2089.6 1644.4 2130.8 1644.4 2173.5 1644.4 2220.2 1644.5 2266 1644.5 2311.7 1644.5 2359.9 1644.5 2410.1 1644.5 2460.8 1644.6 2512.9 1644.6 2566 1644.6 2622.2 1644.6 2678.3 1644.6 2737 1644.6"/><path d="M1104.7 1365.3 1108.2 1424.2 1112.4 1497.3 1117 1576.2 1121.7 1658M1129.8 1366 1133.4 1425 1137.6 1497.8 1142.1 1576.5 1146.8 1658M1154 1366.7 1157.5 1425.7 1161.7 1498.3 1166.2 1576.7 1170.9 1658M1179.2 1367.4 1182.7 1426.5 1186.8 1498.9 1191.3 1577 1196 1658M1202.3 1368.1 1205.8 1427.2 1210 1499.3 1214.4 1577.3 1219.1 1658M1226.5 1368.7 1229.9 1427.9 1234.1 1499.8 1238.6 1577.5 1243.2 1658M1251.3 1369.4 1254.8 1428.6 1258.9 1500.3 1263.4 1577.8 1268 1658M1274.6 1370.1 1278 1429.3 1282.1 1500.8 1286.6 1578 1291.2 1658M1298 1370.8 1301.4 1430 1305.5 1501.3 1309.9 1578.3 1314.5 1658M1321.1 1371.4 1324.5 1430.7 1328.6 1501.8 1333 1578.5 1337.5 1658M1344.3 1372.1 1347.7 1431.4 1351.7 1502.3 1356.1 1578.7 1360.6 1658M1367.4 1372.7 1370.8 1432.1 1374.8 1502.7 1379.2 1579 1383.7 1658M1390.6 1373.4 1393.9 1432.8 1397.9 1503.2 1402.3 1579.2 1406.8 1658M1410.7 1373.2 1414.1 1432.7 1418.1 1503 1422.4 1579 1426.9 1658M1430.5 1372.4 1433.7 1432.3 1437.5 1502.7 1441.6 1578.9 1445.9 1658M1448.3 1371.7 1451.3 1432 1455 1502.5 1458.9 1578.8 1463 1658M1466.7 1371 1469.6 1431.6 1473.1 1502.2 1476.8 1578.7 1480.7 1658M1485.2 1370.3 1487.9 1431.2 1491.2 1502 1494.7 1578.5 1498.4 1658M1515.9 1369.1 1518.7 1430.6 1522 1501.6 1525.5 1578.3 1529.2 1658M1543.6 1368.1 1546.4 1430.1 1549.7 1501.2 1553.3 1578.1 1557 1658M1573.8 1367.2 1576.6 1429.5 1579.9 1500.8 1583.6 1577.9 1587.3 1658M1604.9 1366.3 1607.8 1428.8 1611.2 1500.3 1614.8 1577.7 1618.6 1658M1635.6 1365.4 1638.5 1428.2 1641.9 1499.9 1645.6 1577.5 1649.5 1658M1666.3 1365.4 1669.2 1428 1672.6 1499.8 1676.4 1577.5 1680.3 1658M1699.1 1365.4 1702 1428 1705.5 1499.8 1709.2 1577.5 1713.1 1658M1733.1 1365.4 1736 1428 1739.4 1499.8 1743.1 1577.5 1747 1658M1768.9 1365.4 1771.8 1428 1775.2 1499.8 1778.8 1577.5 1782.7 1658M1804.2 1365.4 1807.1 1428 1810.4 1499.8 1814 1577.5 1817.8 1658M1841.6 1368.6 1844.4 1428 1847.7 1499.8 1851.3 1577.5 1855 1658M1877.8 1368.6 1880.6 1428 1883.8 1499.8 1887.4 1577.5 1891 1658M1916.6 1368.6 1919.1 1428 1922.2 1499.8 1925.5 1577.5 1929 1658M1957.3 1368.6 1959.6 1428 1962.4 1499.8 1965.5 1577.5 1968.6 1658M1997.9 1368.6 2000.1 1428 2002.6 1499.8 2005.4 1577.5 2008.2 1658M2039.6 1368.6 2041.5 1428 2043.8 1499.8 2046.3 1577.5 2048.8 1658M2081.4 1368.6 2083.2 1428 2085.3 1499.8 2087.6 1577.5 2090 1658M2123.1 1368.6 2124.8 1428.3 2126.8 1500 2128.9 1577.6 2131.1 1658M2166.4 1368.6 2168 1428.5 2169.8 1500.2 2171.8 1577.6 2173.9 1658M2213.7 1368.6 2215.2 1428.8 2216.8 1500.4 2218.7 1577.7 2220.6 1658M2260 1368.6 2261.3 1429.1 2262.9 1500.6 2264.5 1577.8 2266.3 1658M2306.3 1369 2307.5 1429.4 2308.9 1500.8 2310.4 1577.9 2312 1658M2355.1 1369.5 2356.2 1429.7 2357.4 1501 2358.8 1578 2360.2 1658M2405.9 1370 2406.9 1430 2407.9 1501.2 2409.1 1578.2 2410.3 1658M2457.4 1370.5 2458.1 1430.3 2459 1501.4 2460 1578.3 2461 1658M2510.2 1371 2510.8 1430.6 2511.5 1501.6 2512.3 1578.4 2513 1658M2564 1371.5 2564.5 1430.9 2565 1501.8 2565.5 1578.5 2566.1 1658M2620.9 1372 2621.2 1431.3 2621.5 1502.1 2621.9 1578.6 2622.2 1658M2677.7 1372.6 2677.8 1431.6 2678 1502.3 2678.1 1578.7 2678.3 1658"/></g>
<path class="d" d="M1074.6 1367.3 1461.7 1658M1096.5 1619 1170 1660"/>
</g>
<rect x="304.5" y="1857.5" width="2147" height="78" fill="url(#cb)"/>
<g font-family='"Liberation Sans", Arial, sans-serif' font-size="42" fill="#585858" stroke="#fff" stroke-width=".9"><text x="305.5" y="1973.3" text-anchor="middle">0.0</text>
<text x="520.1" y="1973.3" text-anchor="middle">0.1</text>
<text x="734.7" y="1973.3" text-anchor="middle">0.2</text>
<text x="949.3" y="1973.3" text-anchor="middle">0.3</text>
<text x="1163.9" y="1973.3" text-anchor="middle">0.4</text>
<text x="1378.5" y="1973.3" text-anchor="middle">0.5</text>
<text x="1593.1" y="1973.3" text-anchor="middle">0.6</text>
<text x="1807.7" y="1973.3" text-anchor="middle">0.7</text>
<text x="2022.3" y="1973.3" text-anchor="middle">0.8</text>
<text x="2236.9" y="1973.3" text-anchor="middle">0.9</text>
<text x="2451.5" y="1973.3" text-anchor="middle">1.0</text></g>
<g font-family='"Liberation Sans", Arial, sans-serif' fill="#1a1a1a"><text x="1255" y="35" font-size="43.5" textLength="351" lengthAdjust="spacingAndGlyphs">Time : 20.00 sec</text></g>
<g font-family='"Liberation Sans", Arial, sans-serif' fill="#1a1a1a"><text x="1257" y="658" font-size="43.5" textLength="407" lengthAdjust="spacingAndGlyphs">Time : 3620.00 sec</text></g>
<g font-family='"Liberation Sans", Arial, sans-serif' fill="#1a1a1a"><text x="1255" y="1273.4" font-size="43.5" textLength="426" lengthAdjust="spacingAndGlyphs">Time : 25200.00 sec</text></g>
<g font-family='"Liberation Serif", "Times New Roman", serif' fill="#111" stroke="#111" stroke-width=".9"><text x="832.5" y="576.4" font-size="65" textLength="66" lengthAdjust="spacingAndGlyphs">(a)</text>
<text x="920" y="576.4" font-size="65" textLength="114" lengthAdjust="spacingAndGlyphs">After</text>
<text x="1058.8" y="576.4" font-size="65" textLength="234" lengthAdjust="spacingAndGlyphs">earthquake</text>
<text x="1315.5" y="576.4" font-size="65" textLength="115.5" lengthAdjust="spacingAndGlyphs">(time</text>
<text x="1454.4" y="576.4" font-size="65" textLength="22.8" lengthAdjust="spacingAndGlyphs">-</text>
<text x="1499.3" y="576.4" font-size="65" textLength="138.4" lengthAdjust="spacingAndGlyphs">20sec,</text>
<text x="1659.2" y="576.4" font-size="65" textLength="111.8" lengthAdjust="spacingAndGlyphs">scale</text>
<text x="1792.1" y="576.4" font-size="65" textLength="20.9" lengthAdjust="spacingAndGlyphs">-</text>
<text x="1835.3" y="576.4" font-size="65" textLength="103.4" lengthAdjust="spacingAndGlyphs">×10)</text></g>
<g font-family='"Liberation Serif", "Times New Roman", serif' fill="#111" stroke="#111" stroke-width=".9"><text x="640.4" y="1204.8" font-size="65" textLength="66.4" lengthAdjust="spacingAndGlyphs">(b)</text>
<text x="727" y="1204.8" font-size="65" textLength="152" lengthAdjust="spacingAndGlyphs">During</text>
<text x="906" y="1204.8" font-size="65" textLength="215.4" lengthAdjust="spacingAndGlyphs">dissipated</text>
<text x="1144" y="1204.8" font-size="65" textLength="41" lengthAdjust="spacingAndGlyphs">in</text>
<text x="1213.6" y="1204.8" font-size="65" textLength="64.4" lengthAdjust="spacingAndGlyphs">the</text>
<text x="1301.8" y="1204.8" font-size="65" textLength="124.2" lengthAdjust="spacingAndGlyphs">apron</text>
<text x="1450.3" y="1204.8" font-size="65" textLength="115.5" lengthAdjust="spacingAndGlyphs">(time</text>
<text x="1585.7" y="1204.8" font-size="65" textLength="36.9" lengthAdjust="spacingAndGlyphs">−</text>
<text x="1639.7" y="1204.8" font-size="65" textLength="194.2" lengthAdjust="spacingAndGlyphs">3620sec,</text>
<text x="1855.6" y="1204.8" font-size="65" textLength="106.2" lengthAdjust="spacingAndGlyphs">scale</text>
<text x="1988.9" y="1204.8" font-size="65" textLength="18.2" lengthAdjust="spacingAndGlyphs">-</text>
<text x="2031.7" y="1204.8" font-size="65" textLength="105.3" lengthAdjust="spacingAndGlyphs">×10)</text></g>
<g font-family='"Liberation Serif", "Times New Roman", serif' fill="#111" stroke="#111" stroke-width=".9"><text x="583.4" y="1802" font-size="65" textLength="67.8" lengthAdjust="spacingAndGlyphs">(c)</text>
<text x="668" y="1802" font-size="65" textLength="249" lengthAdjust="spacingAndGlyphs">Completely</text>
<text x="942.4" y="1802" font-size="65" textLength="213.2" lengthAdjust="spacingAndGlyphs">dissipated</text>
<text x="1182.8" y="1802" font-size="65" textLength="41.2" lengthAdjust="spacingAndGlyphs">in</text>
<text x="1249.8" y="1802" font-size="65" textLength="64.4" lengthAdjust="spacingAndGlyphs">the</text>
<text x="1341" y="1802" font-size="65" textLength="118.6" lengthAdjust="spacingAndGlyphs">apron</text>
<text x="1488.3" y="1802" font-size="65" textLength="117.7" lengthAdjust="spacingAndGlyphs">(time</text>
<text x="1629.6" y="1802" font-size="65" textLength="18" lengthAdjust="spacingAndGlyphs">-</text>
<text x="1669.8" y="1802" font-size="65" textLength="214.7" lengthAdjust="spacingAndGlyphs">25200sec,</text>
<text x="1909.3" y="1802" font-size="65" textLength="108.5" lengthAdjust="spacingAndGlyphs">scale</text>
<text x="2046.2" y="1802" font-size="65" textLength="19.6" lengthAdjust="spacingAndGlyphs">-</text>
<text x="2085.8" y="1802" font-size="65" textLength="107.5" lengthAdjust="spacingAndGlyphs">×10)</text></g>
</svg></body></html>
